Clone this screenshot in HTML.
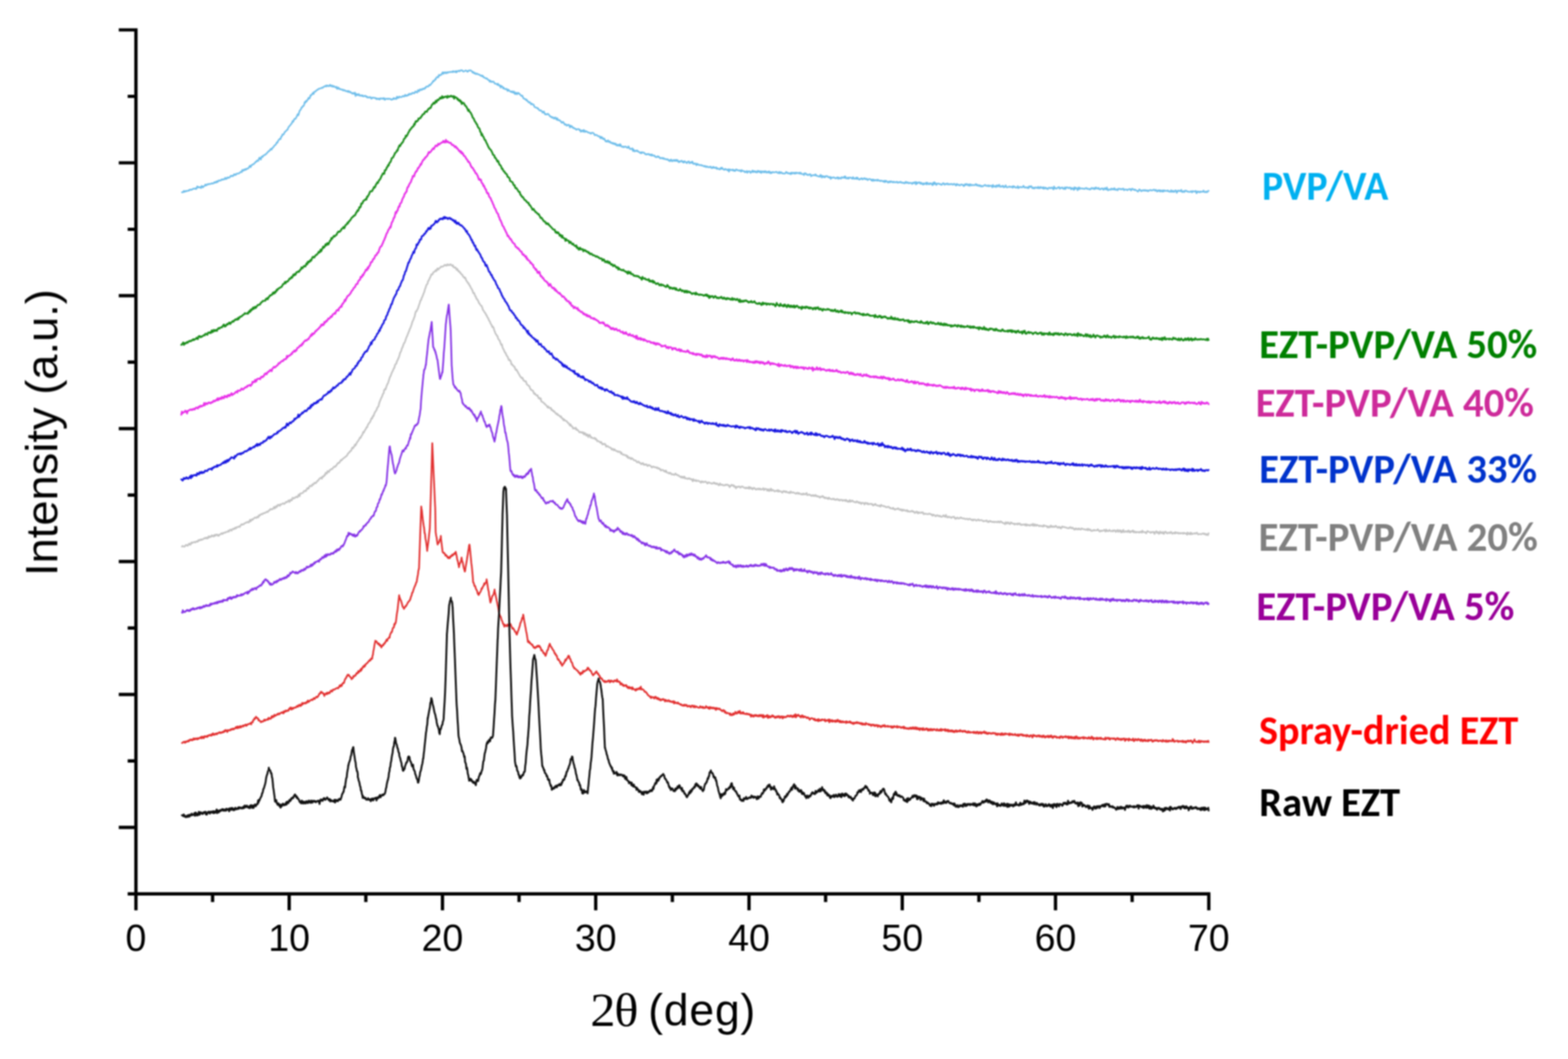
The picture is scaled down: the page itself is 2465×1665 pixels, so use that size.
<!DOCTYPE html>
<html><head><meta charset="utf-8"><title>XRD patterns</title>
<style>html,body{margin:0;padding:0;background:#fff;}svg{display:block;}</style>
</head><body><svg width="2465" height="1665" viewBox="0 0 2465 1665"><defs><filter id="soft" filterUnits="userSpaceOnUse" x="0" y="0" width="2465" height="1665" color-interpolation-filters="sRGB"><feGaussianBlur stdDeviation="0.8"/></filter></defs><rect width="2465" height="1665" fill="#ffffff"/><g filter="url(#soft)"><path d="M213.7,44.5 V1405.3 H1902.8 M186.7,47 H213.7 M200.7,151.5 H213.7 M186.7,256 H213.7 M200.7,360.5 H213.7 M186.7,464.9 H213.7 M200.7,569.4 H213.7 M186.7,673.9 H213.7 M200.7,778.4 H213.7 M186.7,882.9 H213.7 M200.7,987.4 H213.7 M186.7,1091.8 H213.7 M200.7,1196.3 H213.7 M186.7,1300.8 H213.7 M200.7,1405.3 H213.7 M213.7,1405.3 V1431.3 M334.2,1405.3 V1418.3 M454.6,1405.3 V1431.3 M575.1,1405.3 V1418.3 M695.6,1405.3 V1431.3 M816,1405.3 V1418.3 M936.5,1405.3 V1431.3 M1057,1405.3 V1418.3 M1177.5,1405.3 V1431.3 M1297.9,1405.3 V1418.3 M1418.4,1405.3 V1431.3 M1538.9,1405.3 V1418.3 M1659.3,1405.3 V1431.3 M1779.8,1405.3 V1418.3 M1900.3,1405.3 V1431.3" fill="none" stroke="#000" stroke-width="5.2" stroke-linecap="butt" stroke-linejoin="miter"/><path d="M286,302.3 287,302.5 288,301.8 289,300.1 290,301.8 291,301.1 292,300 293,300.7 294,300.3 295,300 296,299.5 297,299.7 298,298.2 299,298.5 300,297.9 301,298.6 302,297.8 303,297.3 304,296.5 305,296.7 306,296.7 307,296.1 308,297.3 309,296.7 310,293.1 311,293.5 312,294.8 313,294.3 314,294.5 315,294.2 316,295.7 317,292.4 318,292.8 319,294.7 320,293.1 321,292.8 322,291.5 323,290.1 324,291.5 325,291.1 326,289.6 327,289.8 328,290 329,288.9 330,289.3 331,289.2 332,288.8 333,288 334,288.6 335,288.6 336,287.7 337,286.4 338,287.4 339,286 340,286.9 341,284.8 342,286.2 343,285 344,283.5 345,284 346,284 347,283.8 348,282.3 349,281.9 350,282.7 351,281.7 352,282 353,282.1 354,279.5 355,280.9 356,281.4 357,279.6 358,278.8 359,279.8 360,278.9 361,279.1 362,277.6 363,276.2 364,277 365,276.3 366,277 367,276 368,273.9 369,273.9 370,275.3 371,274.7 372,273 373,273.1 374,273 375,272.6 376,272.5 377,271.4 378,270.6 379,270 380,270.6 381,267.1 382,268.5 383,268.1 384,266.3 385,267.3 386,265.8 387,266.6 388,265.1 389,265.2 390,265.1 391,263.7 392,261.9 393,260.6 394,262.8 395,260.4 396,259.1 397,259.1 398,258 399,258.1 400,256.6 401,255.7 402,254.3 403,254.5 404,252.4 405,253.1 406,253.1 407,249.6 408,247.9 409,249.9 410,250.9 411,246.9 412,245.9 413,246.8 414,244.7 415,244.2 416,243.5 417,243.5 418,241.9 419,241.6 420,240.4 421,238.9 422,238.5 423,237 424,237 425,235 426,234 427,235.3 428,232.9 429,231.8 430,231.3 431,229.3 432,228.3 433,227.8 434,226.4 435,224 436,224.5 437,222 438,220.3 439,219.1 440,218.3 441,218.8 442,214.9 443,214.7 444,211.3 445,211.8 446,211.2 447,208.9 448,207.1 449,206.6 450,205.6 451,204.3 452,204.1 453,201.2 454,199.2 455,198.4 456,197.1 457,196 458,194.6 459,193.4 460,190.4 461,191.3 462,188.7 463,186.8 464,187 465,186.2 466,184 467,182.1 468,179.5 469,181.3 470,177.8 471,174.3 472,173 473,172.1 474,169 475,168.9 476,166.8 477,166.8 478,165.2 479,160.4 480,161.5 481,158.6 482,159.7 483,157.5 484,156.5 485,153.7 486,155.1 487,154.1 488,150.1 489,150.3 490,148.4 491,148 492,145.9 493,147.8 494,144.4 495,144.1 496,144 497,142.3 498,141.9 499,141 500,140.9 501,139.4 502,139.6 503,139.3 504,138.7 505,138.6 506,137.8 507,138.3 508,136.9 509,136.7 510,135.8 511,135.6 512,134.7 513,136 514,134.3 515,134.5 516,135.4 517,135.4 518,134.6 519,133.2 520,135.6 521,135.6 522,134.3 523,136.5 524,135.4 525,135.3 526,136.8 527,136.9 528,137.6 529,136.4 530,139.8 531,138.1 532,137.6 533,139.9 534,139.5 535,140.4 536,140.2 537,140.8 538,141.4 539,140.8 540,142.4 541,141.7 542,141.7 543,142.9 544,143.5 545,143.3 546,143.1 547,144.7 548,143 549,144 550,145.3 551,144.3 552,145.9 553,146.2 554,147.4 555,146.1 556,146.6 557,147.8 558,145.6 559,150.9 560,147.7 561,148 562,149.7 563,149.1 564,147.8 565,150.2 566,150.6 567,149.7 568,150 569,151 570,149.9 571,151.4 572,151.4 573,150.8 574,150.4 575,151.7 576,151.3 577,153.2 578,152.6 579,153.4 580,153 581,153.3 582,152.5 583,154 584,155.2 585,153.5 586,153.4 587,153.9 588,153.8 589,153.7 590,154.6 591,154.3 592,156 593,154.8 594,155.2 595,155.9 596,154.8 597,156.5 598,154.7 599,154.6 600,155.1 601,155.4 602,154.3 603,155.6 604,154.2 605,157 606,155.7 607,155.3 608,155.1 609,155.6 610,155.8 611,155 612,155.2 613,155.8 614,155.5 615,156.7 616,156.8 617,155.7 618,155.9 619,154.1 620,155.6 621,154.8 622,155 623,155.8 624,152 625,154.1 626,152.6 627,153.8 628,151.8 629,152.3 630,152.7 631,152.8 632,152.1 633,151 634,150.9 635,151.9 636,150.9 637,149 638,151 639,150.3 640,150.4 641,149 642,149.7 643,147.6 644,148.7 645,147.4 646,148.1 647,148 648,146.1 649,146.3 650,146 651,146.7 652,145.9 653,143.7 654,144.8 655,144.7 656,145.5 657,141.7 658,142.3 659,143.5 660,140.7 661,140.4 662,141.5 663,141.5 664,139.5 665,140.1 666,139.2 667,139.9 668,138 669,138.4 670,136.2 671,136.2 672,135.7 673,136.3 674,135.1 675,133.3 676,133.9 677,133.2 678,131.6 679,130.5 680,129.5 681,127.1 682,127.7 683,126.7 684,124.6 685,124.9 686,121.9 687,121.6 688,120.6 689,121.8 690,117.7 691,118.8 692,118.4 693,117.3 694,117.5 695,115.1 696,113.6 697,116.1 698,114 699,114.5 700,113.5 701,115.3 702,114.9 703,113.3 704,114.5 705,113.6 706,113.2 707,113.2 708,112.9 709,113.5 710,113 711,112.3 712,113.5 713,111.9 714,112.6 715,112.6 716,113.5 717,111.6 718,113.6 719,112.1 720,111.7 721,111.1 722,112.2 723,111.6 724,110.5 725,110.4 726,110.9 727,110.7 728,112.3 729,112.5 730,112 731,111.5 732,110.7 733,111.1 734,111.8 735,112.9 736,111.8 737,110.7 738,111 739,110.7 740,110.6 741,111.5 742,112.2 743,114.1 744,113 745,114.7 746,115.6 747,114.6 748,116.5 749,116.2 750,115.6 751,116.7 752,116.9 753,117.2 754,117.7 755,118.5 756,119.2 757,118.6 758,119.9 759,119 760,121.1 761,122 762,122.1 763,122.8 764,123.6 765,123 766,123.9 767,125.1 768,126.1 769,126.1 770,128.6 771,126.8 772,128.3 773,129.1 774,128.3 775,128.3 776,128.5 777,130.2 778,131.6 779,131.4 780,131.9 781,132 782,133.4 783,131.5 784,134.2 785,134.6 786,134 787,137.7 788,135.1 789,135.9 790,136.4 791,139 792,137.7 793,139.7 794,140.1 795,140.4 796,139.5 797,140.6 798,143.1 799,140.9 800,141.8 801,142.8 802,144 803,143.9 804,144.7 805,143.4 806,145.5 807,145.5 808,143.9 809,147 810,148 811,145.6 812,146.7 813,148.3 814,146.1 815,146 816,147.1 817,148.2 818,148.8 819,150.4 820,150.8 821,150.2 822,152.6 823,154.7 824,154.9 825,155.7 826,155.7 827,157.5 828,156.6 829,159.1 830,159.1 831,161 832,161.2 833,160.5 834,162.4 835,164.1 836,162.7 837,164 838,164.5 839,164.6 840,167.6 841,168.6 842,168.9 843,169.1 844,169.5 845,170.5 846,170.3 847,172.5 848,173.3 849,173.9 850,173.2 851,174.4 852,174.8 853,177.2 854,176.4 855,175.2 856,177.9 857,179.8 858,179.3 859,180.1 860,179.9 861,178.7 862,179.4 863,180.5 864,182 865,183 866,183.9 867,183.5 868,185.2 869,184.6 870,184.8 871,186.7 872,185.6 873,184.5 874,186.5 875,188.1 876,185.7 877,188.7 878,189.2 879,188.7 880,189.2 881,190.6 882,191 883,193.1 884,192.8 885,191.6 886,192.7 887,194.6 888,196.2 889,195.3 890,195.8 891,197.6 892,196.4 893,196.7 894,196.1 895,197.4 896,200.3 897,197.5 898,199.3 899,198.4 900,200.2 901,201.3 902,200.7 903,202 904,202.4 905,202.5 906,204 907,203.6 908,202.9 909,202.9 910,203.1 911,204.6 912,204.1 913,207.2 914,206.7 915,205.1 916,205.3 917,207.3 918,204.4 919,205.9 920,207.5 921,206.1 922,206.7 923,207.1 924,208.3 925,208.1 926,208.7 927,209.2 928,209 929,210.3 930,209 931,208.7 932,208.8 933,209.3 934,210.7 935,212.6 936,212.3 937,212.1 938,212.2 939,213.2 940,213.9 941,214.3 942,214 943,215.5 944,217.4 945,215 946,217.3 947,216.2 948,218.8 949,218.5 950,217.8 951,220.3 952,222.3 953,221.3 954,222.7 955,222 956,220.6 957,223.3 958,222.9 959,222.4 960,224.8 961,224.7 962,224.3 963,225.9 964,224.7 965,226.4 966,225.3 967,227 968,225.8 969,228.5 970,227.7 971,229.1 972,227.4 973,228 974,229.5 975,226.6 976,228.4 977,230.6 978,230.4 979,231.2 980,230.4 981,231.5 982,230.7 983,230.4 984,230.5 985,231.8 986,232.2 987,232.4 988,230.1 989,231.8 990,233.5 991,234.5 992,234.1 993,234.1 994,233.2 995,237.4 996,234.9 997,237.7 998,237.9 999,237.1 1000,236.6 1001,237.6 1002,236.7 1003,238.3 1004,238.4 1005,239.2 1006,239.9 1007,240.9 1008,239.2 1009,240.8 1010,239.5 1011,239.7 1012,240.2 1013,240.2 1014,242.2 1015,242.4 1016,243 1017,242.1 1018,242.7 1019,242.2 1020,242 1021,243.7 1022,243.8 1023,242.8 1024,244.6 1025,242.8 1026,244.5 1027,244.4 1028,244.7 1029,244.5 1030,246.6 1031,246.5 1032,247.3 1033,246.7 1034,245.7 1035,246.8 1036,246.4 1037,248.1 1038,249.1 1039,248.6 1040,248.1 1041,248.6 1042,249.4 1043,248.2 1044,249.9 1045,250.2 1046,249.8 1047,250.2 1048,251 1049,250.4 1050,250.6 1051,252.3 1052,252 1053,253.5 1054,251.3 1055,250.7 1056,253.3 1057,253.5 1058,252.1 1059,251.5 1060,252.9 1061,251.5 1062,252.9 1063,251.3 1064,253.2 1065,251.5 1066,253.3 1067,255 1068,253.5 1069,254.5 1070,253.3 1071,253.1 1072,252.7 1073,255 1074,254.1 1075,255.7 1076,253.3 1077,254.3 1078,254.7 1079,256 1080,256.5 1081,254.4 1082,254.1 1083,253.7 1084,256.7 1085,255.6 1086,255.3 1087,256.1 1088,254 1089,255 1090,257.7 1091,257.5 1092,257.5 1093,256.8 1094,258.5 1095,259.8 1096,257.4 1097,258.8 1098,258.6 1099,259.6 1100,259.6 1101,259.7 1102,259.3 1103,260.3 1104,260 1105,260.6 1106,260.9 1107,261.7 1108,260.8 1109,261.2 1110,262.7 1111,261.7 1112,261.8 1113,263 1114,262.7 1115,262.7 1116,263 1117,261.8 1118,263.5 1119,264.4 1120,263.9 1121,262.2 1122,264 1123,263.1 1124,263.8 1125,264.3 1126,263.2 1127,265.6 1128,264.5 1129,265.4 1130,265.4 1131,266.2 1132,266.2 1133,263.9 1134,265.4 1135,263.5 1136,265.1 1137,266.3 1138,266.6 1139,267 1140,265.6 1141,266.3 1142,266.2 1143,267.4 1144,267.8 1145,266.1 1146,269.9 1147,266.6 1148,266.4 1149,267.3 1150,267.6 1151,267.5 1152,266.5 1153,268.5 1154,267.3 1155,268.8 1156,268.7 1157,266.4 1158,266.8 1159,266.9 1160,268.1 1161,268.1 1162,268.4 1163,267.5 1164,268.8 1165,269.8 1166,267.4 1167,268.6 1168,269.1 1169,268.9 1170,268.9 1171,270.8 1172,270.5 1173,270.2 1174,268.8 1175,271.6 1176,270 1177,269.3 1178,269.5 1179,269.5 1180,271.9 1181,270.2 1182,270.1 1183,268.1 1184,270.7 1185,269.1 1186,269.1 1187,270.7 1188,269.4 1189,270.9 1190,271.2 1191,268.6 1192,270.1 1193,268.8 1194,270.2 1195,271.1 1196,269.1 1197,271.9 1198,270 1199,269.3 1200,270.2 1201,271.1 1202,269.1 1203,270.4 1204,269.2 1205,271.5 1206,270.6 1207,270.1 1208,271.5 1209,269.4 1210,270.3 1211,272.4 1212,270.7 1213,272.1 1214,271.1 1215,270.3 1216,270.8 1217,271.2 1218,270.8 1219,270.5 1220,270.6 1221,270.1 1222,271.6 1223,271.9 1224,272.3 1225,270.1 1226,272.5 1227,271.8 1228,270.6 1229,272 1230,272.7 1231,272.5 1232,272.7 1233,272.9 1234,272.9 1235,272 1236,270.2 1237,271.4 1238,272.5 1239,271.7 1240,272.8 1241,272.9 1242,272.2 1243,273.9 1244,271.3 1245,273.1 1246,271.8 1247,271.6 1248,272.8 1249,271.7 1250,273.1 1251,271.3 1252,272.4 1253,271.6 1254,272.2 1255,272.1 1256,271.5 1257,273.1 1258,271.5 1259,271.8 1260,273.6 1261,273.7 1262,273.6 1263,273.4 1264,275.3 1265,272.3 1266,272.9 1267,272.8 1268,274.7 1269,274.3 1270,275.2 1271,275.2 1272,274.3 1273,274 1274,274 1275,277.1 1276,276.1 1277,275.9 1278,275.3 1279,275.5 1280,275.5 1281,275.7 1282,274 1283,276.2 1284,276 1285,276.8 1286,276.9 1287,277.6 1288,276.9 1289,277.8 1290,274.9 1291,276.4 1292,279.1 1293,276.5 1294,277.5 1295,278.5 1296,277.2 1297,278.8 1298,277 1299,276.7 1300,277.3 1301,277.1 1302,278.7 1303,278.5 1304,279.1 1305,278 1306,281.3 1307,279 1308,279.1 1309,279.6 1310,279 1311,278.7 1312,279.4 1313,280.2 1314,280 1315,280.3 1316,279 1317,278.8 1318,281.3 1319,279.4 1320,280 1321,280.3 1322,280.9 1323,278.5 1324,279.3 1325,279.4 1326,279.5 1327,277.7 1328,279.8 1329,277.3 1330,280.2 1331,280.5 1332,280.6 1333,279 1334,281 1335,279.4 1336,279.1 1337,279.3 1338,279.5 1339,280.4 1340,281.1 1341,278.5 1342,279.9 1343,281.2 1344,280.6 1345,280.9 1346,279.2 1347,281.4 1348,279.2 1349,280.8 1350,281.9 1351,282.4 1352,281.2 1353,281.6 1354,280.3 1355,280.5 1356,282.1 1357,281.1 1358,281 1359,280 1360,281.5 1361,282 1362,280.8 1363,281.2 1364,283.2 1365,282.1 1366,281.8 1367,281.2 1368,281.8 1369,282.2 1370,283.8 1371,282.2 1372,284.5 1373,282.2 1374,282.9 1375,284.1 1376,283.2 1377,282.8 1378,283.6 1379,284.2 1380,282.4 1381,283.8 1382,284 1383,283.8 1384,284.9 1385,283.9 1386,284.1 1387,284.6 1388,285.3 1389,284.5 1390,286.2 1391,284.1 1392,286.1 1393,284.3 1394,285 1395,285.5 1396,287.1 1397,286.2 1398,285.1 1399,286.7 1400,285.4 1401,285 1402,286.2 1403,285.9 1404,286.8 1405,285.5 1406,286.4 1407,286.7 1408,286.4 1409,286.2 1410,285.7 1411,287.2 1412,286.6 1413,287 1414,286.3 1415,286.7 1416,285.8 1417,286.9 1418,287.5 1419,287 1420,287.7 1421,287.3 1422,288.3 1423,287 1424,285.7 1425,287.6 1426,287.1 1427,286.5 1428,288 1429,287.7 1430,287.9 1431,287.2 1432,287.8 1433,287.9 1434,289.3 1435,287.1 1436,287.8 1437,288.2 1438,286.3 1439,286.5 1440,289.9 1441,286.4 1442,288.6 1443,287.3 1444,287.4 1445,286.4 1446,287.4 1447,289 1448,287 1449,288.9 1450,288.7 1451,290.2 1452,288 1453,289.6 1454,289.3 1455,288.3 1456,287.1 1457,290 1458,287.4 1459,288.3 1460,289.5 1461,289.8 1462,288 1463,288.8 1464,288.6 1465,290 1466,291.2 1467,287.3 1468,289.8 1469,286.5 1470,289.1 1471,288.1 1472,290.9 1473,289.3 1474,288.5 1475,288.8 1476,288.8 1477,289.5 1478,289.2 1479,290 1480,290.8 1481,290.1 1482,288.4 1483,288 1484,288.8 1485,290.5 1486,289.3 1487,289 1488,289.8 1489,288.4 1490,288.7 1491,290.2 1492,289.5 1493,289.4 1494,290.1 1495,289.3 1496,289.3 1497,289.5 1498,290.5 1499,290 1500,288.9 1501,289.8 1502,290.6 1503,291.8 1504,289.1 1505,290.5 1506,290 1507,291 1508,290.7 1509,291.6 1510,290.8 1511,289.9 1512,289.9 1513,290.8 1514,290.8 1515,292.6 1516,292 1517,289.5 1518,290.9 1519,289.4 1520,289.2 1521,291.3 1522,291.2 1523,289.8 1524,292.3 1525,289.9 1526,289.8 1527,291.5 1528,291.1 1529,290.8 1530,290.9 1531,291.2 1532,290.9 1533,291 1534,289.4 1535,290 1536,291.8 1537,290.6 1538,291.8 1539,292.5 1540,291.1 1541,291.7 1542,293.3 1543,292.1 1544,293.2 1545,293 1546,292.3 1547,291.6 1548,291 1549,290.8 1550,292.2 1551,292.3 1552,291.7 1553,292.7 1554,291.4 1555,293 1556,292.1 1557,292.1 1558,292.2 1559,292.1 1560,294.5 1561,290.8 1562,292.5 1563,293.5 1564,293.1 1565,292.2 1566,294.1 1567,291.6 1568,291.4 1569,293.2 1570,291.4 1571,290.6 1572,293.6 1573,293.5 1574,293.5 1575,292.5 1576,293.1 1577,292.1 1578,294.6 1579,293.8 1580,293.8 1581,291.4 1582,293.9 1583,294.6 1584,294.4 1585,294.1 1586,293.4 1587,293.1 1588,294 1589,293.9 1590,293.8 1591,293.3 1592,295.2 1593,292.6 1594,293.7 1595,293.3 1596,294.7 1597,295.1 1598,295 1599,294.6 1600,292.7 1601,295.9 1602,294.5 1603,294 1604,294.2 1605,293.9 1606,294.6 1607,294.5 1608,294 1609,292 1610,294.3 1611,294.8 1612,294.9 1613,294.3 1614,294.9 1615,295.5 1616,294.2 1617,295.9 1618,292.9 1619,293.5 1620,293.9 1621,292.5 1622,293.9 1623,295.9 1624,295.9 1625,294.9 1626,296.4 1627,295.1 1628,294.5 1629,295.2 1630,294.9 1631,295.7 1632,293.7 1633,296 1634,294.7 1635,295.9 1636,293.8 1637,294.8 1638,295.3 1639,296 1640,294.2 1641,296.8 1642,295.7 1643,294.8 1644,296.4 1645,295.5 1646,296.4 1647,297.5 1648,296.1 1649,295 1650,295.1 1651,296 1652,295.8 1653,294.8 1654,295 1655,296.2 1656,297.7 1657,293.2 1658,296.3 1659,295.5 1660,296.4 1661,296.5 1662,295.8 1663,294.8 1664,294.5 1665,294.1 1666,296.9 1667,295.6 1668,295.3 1669,295.6 1670,294.7 1671,296.1 1672,297.1 1673,296.9 1674,294.5 1675,297.2 1676,295.3 1677,294.3 1678,294.9 1679,295.1 1680,296 1681,295.1 1682,294.7 1683,295.8 1684,297.8 1685,295.5 1686,296.6 1687,296.2 1688,298.6 1689,294.5 1690,297.2 1691,295.1 1692,295.7 1693,296.2 1694,299.1 1695,295.6 1696,294.6 1697,297.5 1698,295.6 1699,296.1 1700,296.4 1701,296.5 1702,296.3 1703,296.7 1704,296.8 1705,297.2 1706,296.1 1707,295.8 1708,295.6 1709,297.1 1710,296.5 1711,297.1 1712,297.1 1713,298.1 1714,296.8 1715,297.3 1716,295.6 1717,295.7 1718,296.5 1719,295.7 1720,297.4 1721,295.6 1722,296.9 1723,294.6 1724,295.9 1725,296.6 1726,296.7 1727,295.3 1728,297.1 1729,297.9 1730,297.6 1731,296.4 1732,296.5 1733,296 1734,297.7 1735,298.4 1736,296.7 1737,295.6 1738,297.4 1739,297.9 1740,294.8 1741,297.4 1742,299.3 1743,298.1 1744,297.9 1745,297.7 1746,298.4 1747,296.6 1748,296.7 1749,297.9 1750,296.9 1751,297.8 1752,295.9 1753,298.3 1754,298.4 1755,297.7 1756,297.8 1757,299.2 1758,296.8 1759,297 1760,296.8 1761,297.5 1762,297 1763,297.9 1764,297.4 1765,296.7 1766,296.6 1767,299.1 1768,298 1769,297.9 1770,298.1 1771,298.1 1772,298.9 1773,298.7 1774,297.7 1775,297.5 1776,297.3 1777,297.2 1778,299.6 1779,297.6 1780,296.6 1781,297.7 1782,297.8 1783,298.8 1784,297.8 1785,299.1 1786,299 1787,299.8 1788,300.6 1789,301.3 1790,300 1791,297.7 1792,298.5 1793,299.1 1794,300.7 1795,299.5 1796,300 1797,298.8 1798,299.5 1799,299.7 1800,298.7 1801,299.8 1802,300.1 1803,299 1804,300.1 1805,300.7 1806,299.3 1807,299.3 1808,299 1809,298.8 1810,299.5 1811,299.1 1812,299.2 1813,298.8 1814,298.1 1815,298.7 1816,299.9 1817,298.5 1818,299.1 1819,301.1 1820,300.7 1821,299.1 1822,300.3 1823,299.2 1824,301.3 1825,299.3 1826,300 1827,301.2 1828,299.2 1829,301.1 1830,299.3 1831,300.2 1832,299.8 1833,300 1834,300.3 1835,300.1 1836,299.3 1837,301 1838,300.9 1839,301.4 1840,301.5 1841,299.1 1842,301.5 1843,301.5 1844,299.9 1845,301.4 1846,301.8 1847,300 1848,299.3 1849,300.2 1850,303.1 1851,300.8 1852,299.5 1853,300.4 1854,299.8 1855,300.4 1856,300.8 1857,298.5 1858,301.1 1859,302.1 1860,300.7 1861,300.6 1862,301.9 1863,299.8 1864,299.9 1865,299.8 1866,300.9 1867,301.4 1868,301 1869,301.6 1870,301.9 1871,301.6 1872,300.5 1873,301 1874,302.4 1875,300.4 1876,301.1 1877,301 1878,301.2 1879,300.4 1880,300.2 1881,303.8 1882,302.3 1883,300.9 1884,301.5 1885,302.2 1886,301.3 1887,302.2 1888,301.1 1889,301.4 1890,301.6 1891,301.3 1892,299.6 1893,301.8 1894,302.1 1895,302.3 1896,301 1897,302.2 1898,302.1 1899,300.4 1900,300" fill="none" stroke="#6dbdea" stroke-width="2.5" stroke-linejoin="round" stroke-linecap="round"/><path d="M285,542.2 286,541.1 287,540.8 288,538.4 289,542.2 290,541.1 291,539.3 292,539.9 293,539 294,537.8 295,538.9 296,537.2 297,536.8 298,535.9 299,536.7 300,535.8 301,536 302,534.4 303,534.7 304,533.3 305,534.6 306,533.5 307,533.2 308,532.9 309,531 310,532.4 311,533.2 312,529.1 313,528.6 314,528.4 315,530.3 316,529.1 317,529.6 318,528.8 319,527.9 320,527.5 321,526.6 322,527.2 323,524.8 324,525 325,525.2 326,526.4 327,523.3 328,522.6 329,522.6 330,523.7 331,522.1 332,523.2 333,519.5 334,522.1 335,521.6 336,518.7 337,519.8 338,520.4 339,518.8 340,519.3 341,520.2 342,517.6 343,516.6 344,515.7 345,516.6 346,515.3 347,514.9 348,514.5 349,514.7 350,512.5 351,511.6 352,510.2 353,513.4 354,511.7 355,512.7 356,510.7 357,509.4 358,510.2 359,509.1 360,507.4 361,507.2 362,509.4 363,507.4 364,507 365,505.7 366,504.8 367,505.8 368,504.2 369,503 370,503.1 371,501.7 372,502.2 373,502.6 374,500 375,501.7 376,499 377,499.2 378,497.6 379,497.6 380,497.2 381,496.1 382,495.2 383,494.6 384,493.8 385,492.4 386,493.1 387,493.1 388,493 389,492.1 390,493.2 391,490.4 392,489 393,490.6 394,487 395,488.4 396,485.8 397,486.4 398,483.4 399,485.6 400,483.8 401,482.3 402,484.3 403,482.7 404,481.2 405,479.7 406,479.7 407,478.9 408,479 409,478.3 410,476.1 411,475.5 412,474.8 413,473.2 414,473.2 415,472.9 416,472.9 417,472.8 418,469.9 419,470.5 420,468.7 421,470.4 422,467.5 423,467.2 424,465 425,464.3 426,464.5 427,463.1 428,463 429,460.3 430,461.7 431,459.3 432,461 433,458.2 434,458.7 435,455.4 436,456.3 437,454.1 438,453.7 439,453.3 440,452.1 441,451.8 442,451.4 443,450.4 444,448.8 445,446.6 446,446.3 447,446 448,443.2 449,445.2 450,443.3 451,442.4 452,442.7 453,441.6 454,440.2 455,438.1 456,438.5 457,437.7 458,435.6 459,436.6 460,435.2 461,431.9 462,433.1 463,430.8 464,432.3 465,431.1 466,428.3 467,427.7 468,427.8 469,426.6 470,427.4 471,425.8 472,423.9 473,423.8 474,420.3 475,421.8 476,421.4 477,419.5 478,418.1 479,418.4 480,418.9 481,416.2 482,414 483,415.6 484,411.4 485,412.8 486,410.8 487,411.4 488,408.7 489,409.9 490,407.9 491,404.9 492,403.7 493,404.4 494,405 495,402.9 496,401.9 497,400.6 498,400.5 499,399.2 500,398.1 501,395.8 502,397 503,396.2 504,392.5 505,395.1 506,392.5 507,390.3 508,387.8 509,389.4 510,388.3 511,386.1 512,383.9 513,385.8 514,383 515,382.1 516,384.4 517,382.7 518,380.5 519,378.1 520,378.2 521,374.2 522,375.6 523,373.7 524,372.2 525,370.9 526,372 527,370.6 528,369.7 529,369.4 530,366.8 531,365.4 532,364 533,364.5 534,364.6 535,362.8 536,362.6 537,359.8 538,359.6 539,358.3 540,356.9 541,359 542,357 543,354.3 544,353.3 545,353 546,350.5 547,351.3 548,348.5 549,348.3 550,346.5 551,345.8 552,343.8 553,342.3 554,341.6 555,340.6 556,339.6 557,338.6 558,338.7 559,336.6 560,334.1 561,333.6 562,330.8 563,331.4 564,329.1 565,325.7 566,326.3 567,324.9 568,319.9 569,320.4 570,319.2 571,316.3 572,315.7 573,314.4 574,314.4 575,312.8 576,313.7 577,309.3 578,309.5 579,307.1 580,305.9 581,303.1 582,301 583,300.8 584,300.9 585,300.4 586,298.1 587,296.6 588,293.9 589,294.9 590,293.3 591,290.1 592,289.2 593,286.8 594,287.8 595,285.3 596,283.4 597,282.4 598,281 599,278.6 600,276.3 601,274.7 602,272.6 603,273.2 604,273.3 605,267.7 606,267.9 607,266.5 608,263.3 609,262.8 610,259.7 611,260.3 612,256.7 613,255.6 614,254.5 615,251.6 616,248.5 617,248 618,247.5 619,244.9 620,243.5 621,240.5 622,240 623,239 624,236.6 625,236.9 626,233.2 627,230.8 628,228.6 629,229.8 630,227 631,226.4 632,224.3 633,223.9 634,221.9 635,218.7 636,217.8 637,217.1 638,213.2 639,214.4 640,212.7 641,210.9 642,208.3 643,207.3 644,204.5 645,204.2 646,202.2 647,201.5 648,199.6 649,199.1 650,198.7 651,194.9 652,195.9 653,191.8 654,190.4 655,191.3 656,190.2 657,189.5 658,186.3 659,186.7 660,185.8 661,185.8 662,183.4 663,183 664,180.4 665,180.1 666,178.8 667,178.9 668,176.2 669,175.3 670,175.7 671,175.9 672,173.4 673,172.3 674,170.7 675,171.1 676,169.5 677,169.6 678,167.2 679,164.8 680,164.1 681,162.6 682,161.3 683,162.9 684,161.5 685,158.6 686,160.8 687,158.6 688,156.7 689,157.5 690,156.4 691,155.1 692,153.4 693,154.8 694,154.6 695,151.3 696,154 697,153.7 698,152.3 699,152.7 700,152.2 701,151.6 702,152 703,153.7 704,150.8 705,152.4 706,152.3 707,151.4 708,151.6 709,150.6 710,151.2 711,152 712,152.3 713,151.1 714,155.2 715,151.9 716,153.1 717,153.3 718,153.8 719,156.2 720,155.2 721,157.9 722,158.5 723,157.2 724,160.2 725,159.3 726,163.6 727,161.4 728,161.9 729,162 730,163.8 731,165.7 732,166.5 733,167.6 734,169.5 735,171.3 736,174.3 737,172.6 738,175.2 739,176.3 740,177.3 741,179.3 742,181.3 743,184.7 744,185.6 745,187 746,189.9 747,191.3 748,192.6 749,195 750,195.6 751,198.9 752,200.6 753,201.6 754,202.7 755,207.3 756,207.8 757,212.6 758,210.8 759,214.3 760,214.9 761,217.5 762,220 763,220.2 764,222.8 765,224.9 766,226.7 767,229.1 768,231.3 769,233 770,234.2 771,235.3 772,236.3 773,238.4 774,240.3 775,243.2 776,243.8 777,244.5 778,248 779,248.2 780,249.8 781,251.9 782,254.1 783,252.8 784,255.6 785,258.4 786,259.4 787,260.4 788,262.2 789,265.6 790,265.2 791,267.8 792,269.4 793,269.6 794,271.9 795,272.5 796,273.7 797,274.6 798,278.1 799,278.2 800,279.4 801,280.3 802,284.6 803,285 804,285.5 805,286.3 806,286.9 807,290.1 808,291.5 809,291.2 810,295.1 811,296.1 812,295.7 813,297.5 814,299 815,300.9 816,301.9 817,301.8 818,306.2 819,306.4 820,308.6 821,309.9 822,309.7 823,311.6 824,313.2 825,314.5 826,314.8 827,315.6 828,317.5 829,317.8 830,319.3 831,319 832,322.3 833,322.3 834,323.9 835,325.6 836,327 837,329.7 838,329.2 839,328.6 840,331.3 841,331.6 842,333.7 843,333.7 844,334.7 845,335.9 846,336.9 847,336.7 848,338.9 849,340.5 850,342.8 851,342.3 852,343.2 853,345.1 854,346.1 855,348.1 856,348.1 857,348.5 858,350.8 859,351.9 860,350.9 861,352.5 862,351.6 863,353.9 864,354.3 865,355.9 866,356.6 867,357.8 868,358.8 869,360.3 870,360.9 871,361 872,361.2 873,364.6 874,365.6 875,364.6 876,366.5 877,365.2 878,366 879,368.1 880,370.7 881,369 882,370 883,373.2 884,370.4 885,373.8 886,374.4 887,374.4 888,375.6 889,378.7 890,375.7 891,377.3 892,378.1 893,378.3 894,378.4 895,382 896,381.4 897,380.1 898,381.8 899,383.6 900,384.2 901,383 902,385 903,386 904,386.7 905,387.3 906,385.7 907,389.9 908,388.9 909,391 910,392.6 911,390.1 912,389.6 913,392.2 914,391.6 915,391.9 916,391.8 917,395 918,393.3 919,392.9 920,394.3 921,394 922,395.8 923,395.7 924,395.6 925,397.7 926,396.9 927,398.8 928,399.8 929,398.7 930,398.9 931,400.2 932,401.4 933,401 934,401.6 935,402 936,402.8 937,403.6 938,402.8 939,403.5 940,404.5 941,404.3 942,405.6 943,406.5 944,406.4 945,406.3 946,406.7 947,409.7 948,409.3 949,407.8 950,408.6 951,411.8 952,412 953,411.1 954,412.6 955,410.5 956,412.5 957,413.8 958,411.7 959,413.3 960,415.4 961,416.3 962,415.2 963,416.6 964,418.5 965,417.1 966,416.7 967,418.5 968,418.8 969,421 970,420.4 971,420 972,423.8 973,421.4 974,423 975,423.7 976,424.3 977,424.2 978,425.1 979,425 980,424.1 981,425.8 982,426.3 983,426.7 984,427.5 985,427.2 986,429.5 987,430.2 988,426.8 989,429.5 990,429.2 991,427.7 992,431.1 993,430.4 994,431.1 995,431.2 996,433.3 997,433.8 998,433.3 999,434.1 1000,433.6 1001,434.3 1002,433.7 1003,434.9 1004,434.5 1005,436 1006,436.8 1007,436.7 1008,437.9 1009,439.8 1010,435.4 1011,437.9 1012,437.7 1013,438.2 1014,437.6 1015,439.4 1016,439.5 1017,439.5 1018,440.2 1019,440.3 1020,438.9 1021,442.6 1022,441.6 1023,441.3 1024,442.9 1025,442.3 1026,441.1 1027,444.5 1028,442.3 1029,444.1 1030,444.8 1031,446.3 1032,446.5 1033,445.8 1034,445.2 1035,445.9 1036,447.7 1037,448.7 1038,447.8 1039,446.9 1040,448.9 1041,447.7 1042,448 1043,448.4 1044,449.6 1045,449.6 1046,450.6 1047,451.2 1048,450.7 1049,448.1 1050,449.1 1051,451.2 1052,451.3 1053,453.8 1054,451.9 1055,452.1 1056,453.4 1057,453.9 1058,452.8 1059,453.9 1060,452.5 1061,453 1062,455.5 1063,453.2 1064,455.8 1065,455.9 1066,456.3 1067,456.7 1068,456.6 1069,454.2 1070,455.7 1071,456.3 1072,458.1 1073,456.4 1074,457.1 1075,457.7 1076,459.6 1077,457.1 1078,457.5 1079,459.7 1080,457.2 1081,459.8 1082,459.3 1083,458.4 1084,459.7 1085,459.3 1086,460.7 1087,461.1 1088,462.4 1089,461.1 1090,461.4 1091,460.9 1092,461.6 1093,462.9 1094,460.1 1095,462.8 1096,461.8 1097,462.6 1098,463 1099,463.7 1100,463.2 1101,462.8 1102,463.6 1103,463.5 1104,463.5 1105,464 1106,464.9 1107,464.3 1108,464.5 1109,463.2 1110,464.6 1111,463 1112,465.7 1113,464.2 1114,466.6 1115,468.5 1116,465.3 1117,467.2 1118,466.4 1119,465.6 1120,465.5 1121,467.1 1122,468.1 1123,467.2 1124,465.5 1125,466.1 1126,467.1 1127,468.8 1128,467.9 1129,468 1130,469.1 1131,467.8 1132,468 1133,468.1 1134,466.6 1135,469 1136,469.1 1137,469.7 1138,467.7 1139,468.2 1140,470 1141,469.5 1142,470.7 1143,468.6 1144,469.8 1145,469 1146,470.1 1147,469.4 1148,470.5 1149,471.2 1150,470.9 1151,468.6 1152,471.4 1153,471.1 1154,469.7 1155,470 1156,471 1157,471.7 1158,470.8 1159,469.8 1160,471.9 1161,471.9 1162,474.4 1163,470.8 1164,474.8 1165,474.2 1166,472.9 1167,474.4 1168,473 1169,474.1 1170,472.6 1171,473.5 1172,472.6 1173,472.2 1174,473.7 1175,473.5 1176,474.9 1177,475.7 1178,474.4 1179,474.8 1180,475.1 1181,473.3 1182,475.4 1183,475.3 1184,475.3 1185,474.4 1186,473.6 1187,475.5 1188,476.2 1189,477.3 1190,477.2 1191,477.7 1192,476.7 1193,477.6 1194,476.4 1195,477.3 1196,477.7 1197,479.6 1198,477.3 1199,475.8 1200,478.6 1201,476.5 1202,477.4 1203,477.3 1204,476.7 1205,479.1 1206,478.5 1207,477.3 1208,478.1 1209,477.7 1210,478.9 1211,478 1212,477.7 1213,477.9 1214,478.2 1215,479 1216,477.9 1217,478.8 1218,479.5 1219,481.5 1220,480.1 1221,476.3 1222,478.9 1223,479.1 1224,479.9 1225,481.2 1226,480.5 1227,477.6 1228,480.3 1229,480.1 1230,480.5 1231,481.6 1232,479.2 1233,481.5 1234,478.8 1235,480.6 1236,481 1237,483 1238,480.1 1239,479.2 1240,481.7 1241,480.5 1242,482.8 1243,480.6 1244,480.5 1245,482.7 1246,481.6 1247,482.7 1248,480.3 1249,483.5 1250,481.3 1251,482.8 1252,481.1 1253,480.6 1254,482 1255,482.6 1256,484.1 1257,482.9 1258,483.4 1259,483.4 1260,486 1261,482.1 1262,484.3 1263,483 1264,483.5 1265,482.8 1266,484.6 1267,482.3 1268,482.3 1269,483.5 1270,482.7 1271,484.6 1272,485 1273,483.4 1274,485 1275,483.7 1276,484.4 1277,484.6 1278,486.5 1279,484.8 1280,484 1281,484.1 1282,486.3 1283,483.6 1284,484.9 1285,485.1 1286,483.1 1287,485.2 1288,486.8 1289,486.1 1290,485.1 1291,486.8 1292,486.8 1293,488.4 1294,485.8 1295,486.2 1296,486.8 1297,486.7 1298,487.1 1299,487 1300,486.5 1301,485.7 1302,486.9 1303,486.2 1304,486.7 1305,487.3 1306,488.5 1307,488.9 1308,487.2 1309,488.6 1310,489.3 1311,488.5 1312,487.1 1313,486.7 1314,489.8 1315,490 1316,489.5 1317,488.3 1318,490.9 1319,490.8 1320,489.7 1321,489.6 1322,488 1323,490.8 1324,488.6 1325,491 1326,491.2 1327,490.7 1328,492.3 1329,490.5 1330,491.6 1331,491.9 1332,491.5 1333,490.9 1334,492.7 1335,492 1336,491.5 1337,491.7 1338,492.1 1339,494.4 1340,492.3 1341,492.1 1342,491.4 1343,491.4 1344,490.8 1345,493.1 1346,493 1347,492.1 1348,491.8 1349,493 1350,493 1351,492.3 1352,494.1 1353,494 1354,494 1355,494.9 1356,493.6 1357,495.8 1358,493.5 1359,495.2 1360,495.4 1361,494.7 1362,495.4 1363,493.9 1364,493.8 1365,495.2 1366,494.8 1367,496.3 1368,495.9 1369,496.6 1370,496.4 1371,496.4 1372,496.5 1373,496.1 1374,496.2 1375,498.8 1376,495.2 1377,496.9 1378,498.2 1379,497.7 1380,498.9 1381,498.2 1382,496.5 1383,497.6 1384,496.6 1385,499.2 1386,499.8 1387,498 1388,499.2 1389,498.4 1390,497.5 1391,498.6 1392,497.7 1393,498.8 1394,499.8 1395,500.5 1396,501.2 1397,499.7 1398,500.4 1399,500.8 1400,501.1 1401,497.8 1402,500.1 1403,501.8 1404,500 1405,501.6 1406,502.3 1407,499.7 1408,501.6 1409,502.2 1410,502.1 1411,500.7 1412,502.8 1413,502 1414,503.6 1415,503.3 1416,502.5 1417,503.4 1418,502.6 1419,502.8 1420,502 1421,503.5 1422,504.7 1423,504.1 1424,504.1 1425,503.7 1426,503.9 1427,505.3 1428,503.2 1429,506.9 1430,504.8 1431,507.2 1432,506.3 1433,504.8 1434,506.1 1435,505.7 1436,506.1 1437,506.5 1438,505.3 1439,505.3 1440,505.6 1441,504.8 1442,506 1443,506.6 1444,506.7 1445,506.7 1446,506.2 1447,507.5 1448,504.8 1449,506.5 1450,506.7 1451,508 1452,507.9 1453,508.1 1454,507.4 1455,508.4 1456,506.6 1457,507.7 1458,505.7 1459,509.6 1460,509.5 1461,507.4 1462,507.3 1463,506.1 1464,506.8 1465,508.5 1466,508.3 1467,507.1 1468,508.2 1469,508.1 1470,509.4 1471,509.7 1472,508.9 1473,509.3 1474,509.3 1475,507.3 1476,509.6 1477,509.5 1478,510.4 1479,507.9 1480,510.6 1481,509.3 1482,510.3 1483,511.4 1484,508.8 1485,509 1486,511.5 1487,509.4 1488,509.7 1489,511.4 1490,510.7 1491,511.7 1492,511.4 1493,511.1 1494,512.2 1495,513.5 1496,511.4 1497,513 1498,512.8 1499,511.9 1500,512.3 1501,511 1502,511.4 1503,512.4 1504,512.2 1505,513.7 1506,511.2 1507,512.3 1508,512 1509,512.6 1510,514 1511,511.8 1512,513.9 1513,512.6 1514,512.9 1515,514.4 1516,513.2 1517,514.2 1518,513.8 1519,513.6 1520,513.5 1521,512.2 1522,513.3 1523,514.3 1524,514.5 1525,512.9 1526,515.5 1527,515.1 1528,513.4 1529,513.7 1530,515.4 1531,513.2 1532,514.3 1533,515.1 1534,515.2 1535,515.3 1536,515.9 1537,514.8 1538,515.2 1539,517.9 1540,514.5 1541,515.6 1542,516.2 1543,515.6 1544,517.5 1545,516.5 1546,517.3 1547,514 1548,517.9 1549,518 1550,516.2 1551,518.4 1552,517.4 1553,518.2 1554,519.2 1555,517.6 1556,516.6 1557,517.7 1558,516.5 1559,517.1 1560,517.2 1561,517.4 1562,519.4 1563,519.1 1564,517.5 1565,519.6 1566,516.9 1567,518 1568,518.7 1569,520.1 1570,519.7 1571,519.5 1572,520.5 1573,520 1574,520.7 1575,518.7 1576,517.9 1577,519.2 1578,520.6 1579,520.1 1580,520.8 1581,520.7 1582,520.6 1583,521 1584,519.6 1585,521.5 1586,519.5 1587,520.4 1588,519.2 1589,521.3 1590,519.3 1591,522.3 1592,519.7 1593,521.4 1594,521.1 1595,520.4 1596,522.6 1597,521 1598,523 1599,520.6 1600,520.9 1601,519.8 1602,522.5 1603,522.9 1604,522.3 1605,522 1606,521.3 1607,524.7 1608,523.2 1609,520.6 1610,522.3 1611,520 1612,524.3 1613,524.8 1614,524.4 1615,522.9 1616,522.4 1617,521.7 1618,523.7 1619,522.5 1620,522.9 1621,522.8 1622,523.2 1623,524.4 1624,525.3 1625,523.8 1626,523.7 1627,522.7 1628,522.6 1629,522.8 1630,524.8 1631,524.2 1632,525 1633,524.5 1634,523.7 1635,523 1636,523.9 1637,522.9 1638,526.3 1639,524.7 1640,524.1 1641,526.5 1642,524.1 1643,525.1 1644,524.4 1645,525 1646,524.3 1647,525.2 1648,526.2 1649,523.5 1650,522.6 1651,526.2 1652,525.1 1653,525.8 1654,524.7 1655,526.5 1656,526.9 1657,523.9 1658,525.8 1659,524.5 1660,523.5 1661,524.9 1662,525.8 1663,523.9 1664,524 1665,526.6 1666,525.4 1667,525.8 1668,524.3 1669,524.8 1670,525.6 1671,525.7 1672,525.7 1673,527.2 1674,525.8 1675,524.1 1676,524.8 1677,525.7 1678,527.1 1679,525.2 1680,525.5 1681,525.9 1682,525.3 1683,525.2 1684,525.9 1685,527.2 1686,526.7 1687,526 1688,526.7 1689,525.1 1690,527.4 1691,527.2 1692,526.9 1693,525 1694,528.7 1695,523.8 1696,525.8 1697,526 1698,527.7 1699,525.5 1700,527.3 1701,527 1702,526.9 1703,528.2 1704,528.8 1705,527.8 1706,527.2 1707,525.3 1708,529.1 1709,527.4 1710,525.9 1711,528 1712,529.4 1713,527.8 1714,526.8 1715,530.4 1716,528.8 1717,528.6 1718,529.3 1719,526.1 1720,528.3 1721,528.3 1722,530.8 1723,528 1724,528.1 1725,527.3 1726,527.9 1727,528.6 1728,529.1 1729,528.7 1730,530.9 1731,529.4 1732,529.6 1733,530.4 1734,529.7 1735,528.6 1736,527.6 1737,529.5 1738,528.4 1739,530.6 1740,528.5 1741,527 1742,529.4 1743,530.4 1744,529.2 1745,529.6 1746,529.6 1747,531.2 1748,529.8 1749,529.5 1750,528.9 1751,527.9 1752,531 1753,530.8 1754,528.7 1755,530.3 1756,530 1757,529.4 1758,529.4 1759,530.6 1760,528.6 1761,529.3 1762,529.8 1763,529.9 1764,529.7 1765,530.2 1766,530.5 1767,529.1 1768,530.1 1769,529.5 1770,531.6 1771,528.7 1772,529.9 1773,530.9 1774,529.9 1775,529.9 1776,529.7 1777,530.6 1778,529.2 1779,530.3 1780,530.3 1781,529 1782,530.8 1783,530 1784,530.9 1785,531.5 1786,531 1787,529.5 1788,531 1789,529.1 1790,530 1791,532.5 1792,530.9 1793,532.5 1794,530.8 1795,531 1796,529.9 1797,532.1 1798,531 1799,531.8 1800,531.7 1801,531.8 1802,531.7 1803,531.4 1804,531.4 1805,530.8 1806,529.4 1807,532.1 1808,533.7 1809,532.8 1810,534.1 1811,532.3 1812,530.8 1813,530.9 1814,532.7 1815,532.3 1816,531.8 1817,532.8 1818,531.2 1819,532.6 1820,531.9 1821,532.4 1822,533.4 1823,532.1 1824,533.7 1825,533.7 1826,531.6 1827,534.8 1828,531.2 1829,532.4 1830,533.3 1831,530.2 1832,533.6 1833,533.7 1834,532.5 1835,532.9 1836,532.9 1837,532.5 1838,533.8 1839,532.4 1840,532.7 1841,533.2 1842,533.7 1843,534 1844,531.4 1845,530.9 1846,532.8 1847,532.9 1848,531.9 1849,533.3 1850,533.7 1851,533.5 1852,534.8 1853,532.1 1854,533.2 1855,535.1 1856,533.9 1857,532.1 1858,533.5 1859,534.5 1860,535.4 1861,534 1862,534.5 1863,532.2 1864,533.1 1865,534.6 1866,532.5 1867,533.4 1868,531.6 1869,535 1870,533.4 1871,534.1 1872,532 1873,532.2 1874,535.4 1875,533.3 1876,533.1 1877,534.2 1878,534.2 1879,531.7 1880,532.7 1881,533.8 1882,533.8 1883,534.1 1884,533.3 1885,533.5 1886,534 1887,533.1 1888,533 1889,533.3 1890,533.9 1891,533.7 1892,533.4 1893,533.7 1894,533.9 1895,534.3 1896,534.3 1897,532.7 1898,535 1899,532.4 1900,534.5" fill="none" stroke="#1a8c1a" stroke-width="2.9" stroke-linejoin="round" stroke-linecap="round"/><path d="M285,652 286,647.1 287,649.7 288,648.3 289,648.1 290,648 291,645.8 292,647.2 293,646.2 294,650 295,646.6 296,645.6 297,645.3 298,644.6 299,643.8 300,644.1 301,644.6 302,643.5 303,644.3 304,642.8 305,642.6 306,643.8 307,642.4 308,641 309,640.9 310,641.3 311,642.3 312,639.7 313,639.4 314,640.2 315,637.9 316,638.2 317,639 318,638.3 319,637.4 320,637.6 321,633.7 322,637.2 323,634.8 324,633.7 325,635.3 326,635.3 327,633.8 328,632.8 329,633.5 330,633 331,634.1 332,633.1 333,632.2 334,632.7 335,631 336,629.9 337,631.1 338,630.7 339,629.6 340,628.6 341,629.3 342,626.2 343,629 344,628.4 345,625.9 346,627.2 347,625.8 348,627.2 349,624 350,624.8 351,626 352,626.1 353,622.4 354,623.6 355,624.1 356,622.7 357,624.5 358,621.4 359,622.5 360,620.7 361,622.7 362,620.9 363,620.1 364,618.3 365,621.3 366,619.9 367,619.5 368,619.4 369,618.2 370,616.8 371,616.1 372,615.7 373,617.3 374,614 375,614.4 376,614.2 377,614.2 378,614 379,611.7 380,610.7 381,611.9 382,612.5 383,611.5 384,610.4 385,609.3 386,609.3 387,608.2 388,608.7 389,606.5 390,606.8 391,605.9 392,605.9 393,605 394,606.7 395,605 396,604.3 397,600.2 398,601.2 399,600.3 400,600.7 401,597.3 402,600 403,599.3 404,596.2 405,595.8 406,595.3 407,595.5 408,595.4 409,596.1 410,593.1 411,593.4 412,592.1 413,592.9 414,591.2 415,591.1 416,588 417,588.1 418,586.8 419,588.4 420,586.8 421,585.1 422,584.2 423,584.4 424,582.5 425,581.6 426,582.2 427,583.5 428,580 429,579 430,577.6 431,576.7 432,577.8 433,577.3 434,575.7 435,575.2 436,574.2 437,573.5 438,571 439,571.3 440,571 441,569.3 442,568.8 443,567.6 444,567.3 445,567.7 446,565.6 447,565 448,565.1 449,564.1 450,564.3 451,559.7 452,561.8 453,559.6 454,559.3 455,559.2 456,558.6 457,557.7 458,555.9 459,556.5 460,553.7 461,553 462,553.1 463,550.9 464,552.7 465,550.7 466,551 467,547.9 468,546.7 469,546.4 470,546 471,543.8 472,543.9 473,542.6 474,543.4 475,540.2 476,541 477,538.4 478,537.2 479,536.5 480,535.1 481,535.5 482,535.5 483,533.7 484,533.2 485,533.3 486,531 487,530 488,528.6 489,526.3 490,527.8 491,524.3 492,525.8 493,524.2 494,524.4 495,522.2 496,520.5 497,520.7 498,518.9 499,518.3 500,517.5 501,516.4 502,515.4 503,513.8 504,513.5 505,510.6 506,511.7 507,509.7 508,511.1 509,510.3 510,506.2 511,507.4 512,506.2 513,504.3 514,504.9 515,503 516,500.8 517,501.3 518,500.5 519,499.8 520,497.4 521,498.3 522,497.4 523,494.6 524,494 525,493.6 526,492 527,493.3 528,490.7 529,488.4 530,487.5 531,487.1 532,488.3 533,484.7 534,483.8 535,483 536,481.2 537,482.2 538,478 539,477.8 540,475.8 541,474.8 542,471.5 543,473.1 544,469.8 545,468.5 546,466.1 547,464.9 548,464.8 549,463.8 550,462.2 551,461.2 552,459.3 553,457.2 554,456.6 555,455 556,452.8 557,452.2 558,451.4 559,448.9 560,446.9 561,446.5 562,446.3 563,442.7 564,441.4 565,439.9 566,439.8 567,435.3 568,436 569,435.4 570,432 571,432.9 572,430.5 573,428.1 574,427.4 575,424.3 576,423.8 577,424.8 578,420.7 579,422 580,418.6 581,418.2 582,415.8 583,412.1 584,412.2 585,411.5 586,408.6 587,406.9 588,407 589,404.4 590,401.8 591,401.2 592,401 593,398 594,397.7 595,396.5 596,393.2 597,390.2 598,388.1 599,387.5 600,386.4 601,383.7 602,382 603,378.9 604,377.5 605,374.5 606,372.5 607,369.3 608,366.8 609,365.6 610,362.7 611,360.6 612,359.9 613,356.9 614,357.6 615,353.3 616,349.5 617,348.6 618,345.9 619,342.6 620,342.1 621,338 622,333.5 623,335.1 624,331.5 625,331.5 626,327.2 627,324.5 628,325.1 629,320.2 630,319.3 631,318.4 632,314.8 633,312.4 634,310.4 635,308.9 636,305 637,304.3 638,302 639,301.6 640,296.8 641,294.1 642,293.7 643,290.5 644,289.1 645,287 646,286.1 647,282.3 648,281 649,276.7 650,276.6 651,277.3 652,273.3 653,271.6 654,269.3 655,269.4 656,267.2 657,264.2 658,264.3 659,262.2 660,261.1 661,258.1 662,258.8 663,256 664,253.9 665,252 666,250.8 667,250.5 668,248 669,248 670,246.2 671,245.7 672,244 673,242 674,239.1 675,240.3 676,239.8 677,238.2 678,237.6 679,235.5 680,234.6 681,233.1 682,234.4 683,232.2 684,230.6 685,228.8 686,229.1 687,229.8 688,228 689,226 690,227.4 691,226.7 692,225.6 693,224.9 694,224.7 695,223.6 696,223.5 697,221.6 698,223.7 699,222.3 700,224 701,220 702,222.9 703,223.4 704,222.4 705,223.6 706,224.3 707,224.7 708,224.2 709,225.2 710,227.1 711,228.1 712,227.7 713,228.5 714,229.5 715,231.3 716,230.1 717,230.8 718,233.2 719,233 720,234.5 721,236.2 722,237.6 723,237 724,239.8 725,238.2 726,241.5 727,240.4 728,241.8 729,244.9 730,245 731,245.9 732,247.5 733,249.7 734,250.5 735,251.9 736,254.4 737,254.1 738,255.8 739,257.3 740,260.5 741,261.8 742,263.7 743,263.9 744,265.3 745,267.9 746,268.3 747,271.1 748,272.6 749,272.7 750,274.9 751,276.5 752,279.9 753,282.4 754,281.4 755,283.2 756,282.6 757,286.8 758,288.3 759,289 760,292.6 761,292.1 762,295.2 763,297.4 764,297.9 765,301.8 766,303.9 767,303.3 768,305.2 769,309.1 770,310.3 771,311.1 772,313.9 773,316 774,317.9 775,320.8 776,322.4 777,325.8 778,327.5 779,328.9 780,331.5 781,334 782,335.6 783,336 784,340.4 785,341.9 786,345.7 787,346.5 788,349.2 789,351.3 790,354.9 791,355.6 792,357.3 793,360 794,361.3 795,363.9 796,365.6 797,367.8 798,371.2 799,370.5 800,372.5 801,373.8 802,376.1 803,375.7 804,377.6 805,379.5 806,381.4 807,382.1 808,382.9 809,383.7 810,386.3 811,388.4 812,388.4 813,389.4 814,390.8 815,390.5 816,392.2 817,393.3 818,394.9 819,395.7 820,395.6 821,399 822,400.6 823,399.7 824,401.4 825,402.4 826,404 827,402.9 828,407.1 829,406.2 830,409.1 831,409.1 832,409.8 833,411.3 834,413.6 835,413.1 836,414.9 837,416.1 838,416.1 839,420.4 840,421 841,421.7 842,424.2 843,423.4 844,425.6 845,428.7 846,429.2 847,427.3 848,427.4 849,431 850,434.3 851,433.9 852,435.4 853,437.3 854,437 855,439.2 856,440.8 857,441.5 858,442.4 859,442.4 860,444.5 861,444.5 862,447.2 863,449.4 864,447 865,446.5 866,449.1 867,450.8 868,452.3 869,453.2 870,452.2 871,453 872,456 873,454.5 874,457.5 875,457 876,458.9 877,459.7 878,460.6 879,461.5 880,460.6 881,462.8 882,463.4 883,464.6 884,466.5 885,465.9 886,466.4 887,467.4 888,468.8 889,470.8 890,470.2 891,473.1 892,473.2 893,473.7 894,473.5 895,476 896,477.4 897,475.9 898,479.7 899,481.1 900,480.6 901,481.6 902,484.4 903,484 904,482.6 905,484.3 906,484.8 907,485.5 908,484 909,487.8 910,487.1 911,488.6 912,488.9 913,490.6 914,490.1 915,490.2 916,492.1 917,493.6 918,492.5 919,494.8 920,494.3 921,494.1 922,496.7 923,495 924,497.4 925,496.4 926,498 927,496.8 928,497.8 929,500.2 930,499.9 931,500.3 932,500.3 933,501.7 934,500.4 935,501.2 936,502.7 937,502.5 938,503.2 939,504.3 940,504.7 941,505.1 942,507.5 943,507.4 944,508.1 945,507.3 946,507.3 947,506.8 948,508.4 949,507.1 950,509.1 951,510.9 952,512.3 953,512.1 954,510.7 955,512.5 956,511.7 957,513.8 958,513.3 959,514.7 960,516.9 961,515.7 962,517.6 963,515.9 964,515.8 965,517.9 966,518.7 967,516.9 968,517.9 969,516.9 970,518.5 971,520 972,519.5 973,519.4 974,519 975,521.2 976,522 977,522.2 978,522.3 979,521.2 980,524.6 981,523.2 982,523.5 983,524.8 984,522.3 985,524.8 986,525.1 987,526 988,527.3 989,526.8 990,524.9 991,526.8 992,527.7 993,528 994,527 995,526.9 996,529.5 997,529.7 998,529.7 999,528.3 1000,532.2 1001,527.9 1002,530.7 1003,533.6 1004,531.7 1005,532.4 1006,531.3 1007,534.2 1008,531.9 1009,533.8 1010,534 1011,533.1 1012,535.4 1013,533.4 1014,534.5 1015,535.5 1016,535.4 1017,536.6 1018,537.4 1019,536.5 1020,536.6 1021,536.9 1022,537.4 1023,538.9 1024,538.2 1025,539.1 1026,538.9 1027,538.5 1028,540.5 1029,538.9 1030,540.2 1031,542 1032,539.7 1033,541.1 1034,539.8 1035,541.2 1036,540.5 1037,541.9 1038,542 1039,543 1040,544.7 1041,543.7 1042,544.4 1043,543.9 1044,544 1045,543.7 1046,543 1047,545.2 1048,547 1049,546.1 1050,545.4 1051,547.8 1052,546 1053,546.1 1054,545.8 1055,546.3 1056,547.3 1057,549.8 1058,547.8 1059,547.2 1060,547.9 1061,548.6 1062,547.3 1063,549.4 1064,550.3 1065,550.1 1066,550.7 1067,549 1068,548.9 1069,552.1 1070,552.2 1071,549.8 1072,551.8 1073,551.9 1074,552.6 1075,552.6 1076,552.1 1077,553 1078,553.2 1079,553.3 1080,551.7 1081,550.8 1082,553.2 1083,552.6 1084,554.7 1085,555.4 1086,555.2 1087,554.8 1088,555.5 1089,556.8 1090,555.1 1091,557 1092,557 1093,556.7 1094,558.1 1095,556.2 1096,558 1097,556.4 1098,556.7 1099,556.6 1100,558.3 1101,557.2 1102,558.3 1103,557.3 1104,559.7 1105,560.7 1106,559.2 1107,560.8 1108,559.9 1109,561.7 1110,559.8 1111,558.3 1112,561.5 1113,560 1114,559.3 1115,559.8 1116,559 1117,560.6 1118,559.9 1119,562.6 1120,561.9 1121,559.8 1122,560.1 1123,561.2 1124,559.9 1125,561.9 1126,562.1 1127,561.5 1128,561.9 1129,563.1 1130,564.1 1131,564.4 1132,563 1133,564 1134,562.5 1135,563.8 1136,562.6 1137,564.4 1138,562.6 1139,563 1140,564 1141,564.7 1142,562.9 1143,563.9 1144,564.7 1145,564.9 1146,564 1147,565 1148,564.8 1149,566.6 1150,565.8 1151,564.1 1152,563.3 1153,565.7 1154,566.9 1155,566.1 1156,566.9 1157,565.6 1158,564.9 1159,567.1 1160,566.6 1161,567.2 1162,565.3 1163,567 1164,566.3 1165,567.8 1166,566.5 1167,566.6 1168,566.7 1169,568.6 1170,567.5 1171,566.8 1172,566.7 1173,566.7 1174,569.3 1175,566.1 1176,567.2 1177,568.8 1178,569.4 1179,568.2 1180,569.2 1181,569.3 1182,569.6 1183,568.8 1184,570.5 1185,569.1 1186,570.5 1187,568 1188,570.1 1189,568 1190,567.9 1191,570 1192,568.8 1193,570.1 1194,568.7 1195,571.5 1196,570 1197,568.9 1198,570.4 1199,571.2 1200,569.6 1201,571 1202,572.7 1203,571.6 1204,570.8 1205,570.4 1206,571.6 1207,569.6 1208,568.2 1209,570.7 1210,570.4 1211,573.4 1212,571.9 1213,570.9 1214,570.9 1215,572.6 1216,571.4 1217,571.8 1218,572.4 1219,572.8 1220,572.9 1221,573.1 1222,574.4 1223,574.9 1224,571.7 1225,576.1 1226,573.8 1227,575 1228,573.2 1229,574.4 1230,574.4 1231,574.4 1232,575.3 1233,575.2 1234,573.7 1235,574.8 1236,575.7 1237,575.8 1238,575 1239,575.1 1240,575.4 1241,574.6 1242,574.5 1243,577.5 1244,575.7 1245,576.3 1246,575.6 1247,577.8 1248,578.4 1249,576.5 1250,577.4 1251,576.2 1252,578.9 1253,578.2 1254,576.5 1255,578.7 1256,577.9 1257,578.1 1258,578.2 1259,577.2 1260,577.5 1261,578.7 1262,578.2 1263,577.4 1264,580.5 1265,578.3 1266,578.1 1267,578 1268,579.5 1269,579.9 1270,579.3 1271,580 1272,577.7 1273,578.9 1274,578.9 1275,579.5 1276,580.1 1277,577.6 1278,582.9 1279,579 1280,580.3 1281,580.8 1282,581 1283,580.4 1284,577.4 1285,579.3 1286,581.2 1287,579.6 1288,579.6 1289,578.4 1290,582.1 1291,581.5 1292,580.1 1293,581 1294,581.1 1295,580.2 1296,581.2 1297,581.8 1298,582.2 1299,583 1300,581.9 1301,581.5 1302,582.5 1303,581.5 1304,581 1305,583.5 1306,582.1 1307,582.8 1308,583.4 1309,581.8 1310,583.7 1311,583.6 1312,583.2 1313,583.8 1314,582.8 1315,581.5 1316,583.6 1317,583.1 1318,585 1319,584.6 1320,583.9 1321,584.6 1322,586.1 1323,586 1324,585.4 1325,585.6 1326,585.1 1327,585.4 1328,586.3 1329,585.7 1330,586.3 1331,585.1 1332,584.7 1333,584.8 1334,586.2 1335,588.1 1336,588.2 1337,586.1 1338,585.7 1339,588.3 1340,588.1 1341,586.4 1342,589 1343,588.3 1344,589.6 1345,588.8 1346,589.5 1347,589 1348,587.9 1349,588.8 1350,588.5 1351,590.1 1352,588.5 1353,588.1 1354,590.4 1355,591 1356,591.5 1357,591.2 1358,588.8 1359,589.7 1360,590 1361,590.6 1362,588.6 1363,590.9 1364,591.3 1365,590.2 1366,591.4 1367,592.6 1368,591.6 1369,592.7 1370,592.8 1371,592.3 1372,592.4 1373,591.8 1374,593.5 1375,591.9 1376,591.8 1377,593.3 1378,592 1379,593.3 1380,594.1 1381,593.2 1382,593.4 1383,594.3 1384,594.3 1385,592.1 1386,592.5 1387,595.3 1388,594.5 1389,592.1 1390,593 1391,594.5 1392,593.6 1393,595.2 1394,595 1395,595.5 1396,594 1397,595.9 1398,597.4 1399,594.8 1400,597 1401,596.9 1402,596.7 1403,596.1 1404,595.1 1405,595.6 1406,597.3 1407,597.7 1408,598.1 1409,598 1410,598 1411,596.9 1412,596.2 1413,597.8 1414,598.2 1415,597.9 1416,596.5 1417,597.6 1418,596.8 1419,598.6 1420,597.5 1421,598.6 1422,599.2 1423,599.1 1424,600.5 1425,598.2 1426,597.3 1427,600.5 1428,601.1 1429,601.3 1430,600.3 1431,600.7 1432,600.4 1433,599.2 1434,600 1435,601.3 1436,600.3 1437,603 1438,599.7 1439,601 1440,602.7 1441,601.1 1442,600.7 1443,600.7 1444,601.5 1445,603.8 1446,602.9 1447,603.2 1448,602.3 1449,603.8 1450,603.2 1451,602.4 1452,603 1453,603.8 1454,604.9 1455,603.9 1456,604.6 1457,606.3 1458,603.6 1459,603.3 1460,605.7 1461,605.3 1462,604.9 1463,605.5 1464,605 1465,606 1466,605.3 1467,606.6 1468,604.8 1469,605.3 1470,606.3 1471,605.9 1472,607.2 1473,606.6 1474,606.2 1475,607.1 1476,606.5 1477,605.6 1478,606.2 1479,606.6 1480,607.1 1481,607.8 1482,608.7 1483,608.4 1484,609.8 1485,609.4 1486,608 1487,610 1488,609.6 1489,608.1 1490,609 1491,609.9 1492,609.1 1493,610 1494,609.5 1495,609.9 1496,609 1497,609.8 1498,609.1 1499,610.3 1500,608 1501,610.1 1502,611.1 1503,610.6 1504,610.1 1505,610.7 1506,609.4 1507,609.5 1508,610.1 1509,610.4 1510,611.6 1511,609.8 1512,611.8 1513,609.4 1514,610.2 1515,611.1 1516,612.4 1517,610.7 1518,609.2 1519,611.9 1520,611.5 1521,610.6 1522,610.7 1523,611.2 1524,612.1 1525,612.7 1526,610.7 1527,614.5 1528,612.3 1529,612.1 1530,613.2 1531,612.8 1532,615.1 1533,613.9 1534,612.6 1535,612.7 1536,612.6 1537,612.9 1538,614 1539,612.8 1540,615.2 1541,613.6 1542,613.6 1543,614.8 1544,612 1545,613.1 1546,614.7 1547,614.3 1548,614.3 1549,614.8 1550,613.9 1551,614.5 1552,613.4 1553,613 1554,616.2 1555,614.1 1556,614.4 1557,616.6 1558,616.4 1559,614.9 1560,615 1561,615.6 1562,614.8 1563,616.4 1564,616.1 1565,616.2 1566,616.9 1567,617 1568,618.2 1569,618 1570,614.8 1571,617.5 1572,615.6 1573,615.4 1574,617.6 1575,616.3 1576,616.8 1577,618.3 1578,616.7 1579,616.5 1580,617.9 1581,618.9 1582,618.3 1583,616.3 1584,617.3 1585,617.9 1586,620.1 1587,619.1 1588,619.2 1589,619.7 1590,618.3 1591,619.2 1592,619.3 1593,617.9 1594,619 1595,619.7 1596,618.1 1597,620.1 1598,620.2 1599,620.6 1600,618.8 1601,619.8 1602,621.3 1603,620.7 1604,619.3 1605,620.4 1606,621.7 1607,620.3 1608,620.8 1609,623.1 1610,620.6 1611,620.7 1612,619.9 1613,620.3 1614,622.6 1615,621 1616,620.1 1617,620.4 1618,621.5 1619,622.3 1620,620.9 1621,622.5 1622,621.3 1623,622.3 1624,622.5 1625,622.7 1626,621.8 1627,622.1 1628,622.9 1629,621.1 1630,622.7 1631,623.1 1632,623.7 1633,622.7 1634,622.7 1635,623.1 1636,622.3 1637,622.9 1638,623.6 1639,623.5 1640,622.2 1641,623 1642,621.3 1643,624.3 1644,623.1 1645,623.9 1646,622.6 1647,623.7 1648,624.3 1649,624.9 1650,622.6 1651,624.9 1652,624 1653,623.4 1654,624.8 1655,624.1 1656,624.1 1657,623.8 1658,624.8 1659,624.7 1660,624.5 1661,623.8 1662,624.3 1663,625.3 1664,626.2 1665,625 1666,626.5 1667,625.1 1668,624.1 1669,625.9 1670,624.4 1671,625.8 1672,626.5 1673,625.2 1674,625.5 1675,628.1 1676,626 1677,626.1 1678,626.6 1679,625.8 1680,625.9 1681,626.4 1682,623.7 1683,627.6 1684,625.2 1685,625.2 1686,626.9 1687,626.5 1688,625.3 1689,626.8 1690,625.5 1691,626 1692,625.3 1693,626 1694,627.3 1695,627.1 1696,627.4 1697,628 1698,627.1 1699,626.6 1700,627 1701,629 1702,627.5 1703,627.8 1704,627.5 1705,627.9 1706,628.1 1707,627.8 1708,627.7 1709,627.1 1710,627.1 1711,628.4 1712,628.8 1713,629 1714,628.2 1715,627.4 1716,628.9 1717,629 1718,626.9 1719,629.3 1720,629.1 1721,630.2 1722,627.5 1723,627.4 1724,629.5 1725,627 1726,628.1 1727,627.8 1728,627.9 1729,627 1730,628.7 1731,630 1732,629.5 1733,629.5 1734,628.8 1735,630.6 1736,629.7 1737,630.3 1738,627.7 1739,629.7 1740,628.2 1741,629.7 1742,629.6 1743,628.3 1744,629.6 1745,630.7 1746,630 1747,630.2 1748,628.7 1749,628.9 1750,628.5 1751,629.8 1752,630.9 1753,630.2 1754,629.8 1755,628.7 1756,630.3 1757,629.6 1758,628 1759,628.2 1760,629.6 1761,629.1 1762,631.6 1763,630 1764,629 1765,629.6 1766,631.7 1767,629.2 1768,630.9 1769,630.6 1770,631.7 1771,630.7 1772,629.8 1773,630.8 1774,630.4 1775,631.3 1776,630.3 1777,632.4 1778,630.3 1779,630.9 1780,629.9 1781,630.7 1782,630.6 1783,630.8 1784,631.5 1785,630.2 1786,629.9 1787,631.9 1788,630.5 1789,630.2 1790,632 1791,631.7 1792,628.3 1793,630.6 1794,631.8 1795,631.9 1796,630.6 1797,632.7 1798,630.4 1799,631 1800,631.4 1801,631.3 1802,632.2 1803,632.5 1804,631.4 1805,632.9 1806,630.9 1807,631.4 1808,633.4 1809,631.8 1810,632.8 1811,631.4 1812,631.6 1813,631.8 1814,632.1 1815,631.6 1816,632 1817,632.7 1818,633.3 1819,632.2 1820,632.8 1821,633.1 1822,631.2 1823,630.7 1824,633.9 1825,633.7 1826,632.5 1827,632.8 1828,631.5 1829,631.1 1830,632.8 1831,631.1 1832,633.5 1833,632 1834,633 1835,634.6 1836,634.6 1837,632.5 1838,633.9 1839,631.8 1840,632.3 1841,633.3 1842,634.3 1843,632.4 1844,633.5 1845,633.1 1846,631.8 1847,633 1848,634.6 1849,633.1 1850,633.7 1851,634 1852,632.5 1853,634.5 1854,634.8 1855,634.9 1856,634.7 1857,632.9 1858,632.8 1859,632.7 1860,632.6 1861,632.7 1862,634.5 1863,635 1864,633 1865,634.4 1866,632.4 1867,633.4 1868,632.7 1869,632.1 1870,633.8 1871,633.9 1872,633.4 1873,633.3 1874,632.9 1875,633.8 1876,633.3 1877,634.2 1878,632.8 1879,634.2 1880,634.5 1881,635.3 1882,635.1 1883,634.3 1884,633.4 1885,632.3 1886,634.2 1887,635.6 1888,635.9 1889,631.7 1890,633.5 1891,634 1892,633.3 1893,634.5 1894,634.4 1895,633.9 1896,634.4 1897,632.8 1898,633.5 1899,633.6 1900,635.4" fill="none" stroke="#e830e8" stroke-width="2.9" stroke-linejoin="round" stroke-linecap="round"/><path d="M285,753.8 286,754 287,755.6 288,754.2 289,751.6 290,752.9 291,752 292,752.5 293,750.4 294,751.9 295,751.6 296,752.6 297,751 298,750.8 299,748.5 300,751.9 301,747.3 302,750 303,748.2 304,747.3 305,747.2 306,746.8 307,747.5 308,746.6 309,747.8 310,744.1 311,745.6 312,744.3 313,745.6 314,742.3 315,743.7 316,743.9 317,741.8 318,743.8 319,742.6 320,743.1 321,742.6 322,740.3 323,740 324,740.2 325,740.7 326,740.4 327,738.4 328,738.1 329,737.5 330,737.3 331,737.2 332,736.8 333,738.5 334,735.5 335,735.3 336,735.6 337,733.7 338,733.8 339,733.7 340,734 341,731.4 342,733.6 343,731.4 344,731.4 345,731.6 346,730.9 347,730.8 348,729.4 349,728.7 350,728.5 351,726.7 352,728.3 353,725.8 354,724.8 355,727.6 356,724.9 357,723.3 358,725.8 359,723.1 360,724 361,721.6 362,721.6 363,719.7 364,718.9 365,719.3 366,719.7 367,720 368,721.1 369,717.1 370,718.6 371,716.5 372,716.4 373,714.6 374,714 375,714.2 376,713.3 377,714 378,712.7 379,714.2 380,712.5 381,712 382,712.5 383,711.4 384,710.3 385,709.7 386,709.2 387,709.8 388,709 389,708.1 390,708 391,706.1 392,706.7 393,704.2 394,706.5 395,704.7 396,704.3 397,704.1 398,703 399,702.2 400,703.1 401,701.5 402,700 403,700.8 404,698.1 405,700.9 406,698.5 407,698.2 408,699.8 409,699.2 410,696.6 411,696.5 412,696.4 413,696.4 414,694 415,693.7 416,694.2 417,692.7 418,692.6 419,691.8 420,689.5 421,689.1 422,686.7 423,688.5 424,689.5 425,686.4 426,688.1 427,687.2 428,685.5 429,684.9 430,684.3 431,682.7 432,682.6 433,682.1 434,682.1 435,681.6 436,679.3 437,680.2 438,677.9 439,677.7 440,677.5 441,676.4 442,675.6 443,675.2 444,673.6 445,672.8 446,672.5 447,672.9 448,671.1 449,672.3 450,669.8 451,665.9 452,667.6 453,669 454,666.5 455,665.3 456,664.1 457,665.5 458,664.4 459,663.3 460,662.2 461,662.4 462,661 463,658.2 464,659.4 465,658 466,656.9 467,657 468,655.5 469,651.8 470,655.5 471,654.2 472,652.2 473,651.2 474,651 475,648.7 476,649.5 477,648.2 478,647.3 479,646 480,645.4 481,646.5 482,645.9 483,644.3 484,643 485,641.4 486,642.2 487,642.3 488,638.3 489,640.3 490,636.2 491,637.2 492,637.2 493,634.6 494,633.7 495,634.6 496,634.5 497,632.4 498,633.4 499,630.5 500,632.2 501,629.8 502,629.1 503,628.7 504,627.6 505,628.3 506,627.9 507,625.4 508,623.9 509,622.1 510,621.7 511,621.7 512,620.7 513,620 514,619.2 515,618.9 516,616.2 517,615.7 518,617 519,615.9 520,613.7 521,614.7 522,611.9 523,611.4 524,609 525,610.8 526,609.1 527,609.4 528,608.2 529,606.7 530,606 531,606.2 532,604 533,603.2 534,602.6 535,602.5 536,601.7 537,601.9 538,599 539,599.5 540,596.7 541,597.1 542,595.7 543,596.3 544,594.3 545,592.3 546,592.3 547,591.1 548,589.4 549,588.3 550,586.6 551,589.2 552,585.4 553,585.1 554,581.7 555,580.5 556,580.1 557,578.8 558,578.4 559,575.2 560,575.4 561,574.9 562,571.1 563,571.4 564,568.1 565,567.9 566,566.4 567,566.3 568,562.4 569,561.7 570,561.1 571,557.4 572,557 573,554.7 574,553.3 575,553.2 576,551.8 577,552.2 578,549.5 579,548 580,545.1 581,543.5 582,542.5 583,538.6 584,541.1 585,537.3 586,535.5 587,534.6 588,534.4 589,533.2 590,530.1 591,529.3 592,527.3 593,524.7 594,524.2 595,522.4 596,519.2 597,520.1 598,515.6 599,515.6 600,512.5 601,510.8 602,508.9 603,508.2 604,504.1 605,503 606,502.5 607,497.9 608,496.2 609,494.5 610,490.9 611,489.5 612,485.9 613,484.8 614,481.8 615,478.3 616,478.3 617,474.4 618,471.8 619,468.9 620,467 621,465.2 622,463.3 623,462 624,457.5 625,456.3 626,455.7 627,452.6 628,450.6 629,449.6 630,446.1 631,444 632,441.2 633,440.6 634,437.3 635,432.9 636,431.5 637,427 638,426.5 639,423.3 640,419.7 641,416.8 642,412.8 643,412.8 644,409.6 645,407.2 646,406.1 647,402.7 648,400.7 649,398.5 650,395.8 651,397.6 652,393 653,390.9 654,390.3 655,384.3 656,385.6 657,383.9 658,381.1 659,380.8 660,376.7 661,377.1 662,376.4 663,371.7 664,371 665,370.9 666,369.7 667,367.7 668,367.5 669,366.2 670,363.5 671,363.7 672,361.5 673,359.6 674,358.2 675,360.5 676,358.3 677,359.4 678,354.9 679,355 680,354.7 681,353.2 682,352.9 683,351.6 684,349.9 685,347.3 686,347.8 687,349.7 688,348 689,347.9 690,345.3 691,345 692,343.8 693,344.5 694,343.8 695,343.8 696,344.7 697,341.9 698,343.3 699,341 700,343.5 701,342 702,342.4 703,342.8 704,344.5 705,343 706,342.9 707,342.5 708,344.4 709,343.7 710,344.5 711,345.5 712,346.7 713,345.9 714,347.8 715,349.5 716,346.9 717,350.4 718,351.9 719,349.9 720,351.8 721,350.5 722,353 723,353.1 724,354.4 725,354 726,354.9 727,356.1 728,356.9 729,358.1 730,359.7 731,360 732,362.3 733,364.3 734,363 735,367 736,367.7 737,368.9 738,370.3 739,372.5 740,374.3 741,377.2 742,377.3 743,381.4 744,381.3 745,384.5 746,386.7 747,386.1 748,390.1 749,392.9 750,391.9 751,394.6 752,395.6 753,397.5 754,398.9 755,400.3 756,403.3 757,405.2 758,406.1 759,409.4 760,410.8 761,412.2 762,412.6 763,417 764,418.2 765,416.6 766,419.5 767,421.9 768,425.2 769,427.3 770,427.6 771,430 772,432.3 773,432.1 774,435.8 775,436.7 776,439 777,440.6 778,441.3 779,443.4 780,446.3 781,448.3 782,449.8 783,453 784,453.5 785,454.6 786,457.3 787,459.4 788,461.3 789,464.5 790,465.7 791,468.1 792,469.5 793,470.5 794,473.5 795,474 796,476.2 797,476.7 798,479.4 799,480.6 800,482.9 801,485.9 802,488 803,488.1 804,488.6 805,490.9 806,491.8 807,492.5 808,494.5 809,495.7 810,496.8 811,500.2 812,499.7 813,501.1 814,503.7 815,503.6 816,504.5 817,506.2 818,508.8 819,510 820,511.2 821,511.7 822,512.5 823,515.6 824,514.5 825,516.9 826,517 827,519.1 828,520.5 829,523 830,520 831,525.4 832,524.2 833,526.5 834,528 835,527.5 836,529.2 837,530.7 838,531.1 839,531.4 840,533.3 841,534.2 842,533.5 843,537.2 844,537 845,535.3 846,537.8 847,541.2 848,541.9 849,541.5 850,540.5 851,542.8 852,545 853,545.2 854,545.4 855,545.9 856,548.4 857,548.2 858,549.7 859,550.8 860,552.9 861,552.4 862,553.4 863,552.3 864,556.1 865,556.8 866,556.9 867,555.5 868,558.2 869,559.7 870,562.7 871,562.1 872,563.2 873,564.1 874,565.5 875,563.9 876,565.1 877,565.6 878,567.3 879,568.1 880,569.3 881,569 882,570.9 883,570.7 884,574.5 885,572.6 886,576.4 887,576.2 888,574.1 889,577 890,577.4 891,575.9 892,578.8 893,578.8 894,579.9 895,579.4 896,580.9 897,582 898,582.1 899,582.3 900,583.5 901,583.3 902,585.3 903,583 904,587.7 905,586.9 906,588 907,589 908,587.6 909,591.7 910,589 911,591.2 912,591.7 913,593.3 914,592.6 915,591.8 916,594.1 917,592 918,594.8 919,595.2 920,597.8 921,596.5 922,597 923,597.2 924,597.7 925,598.6 926,600.3 927,599 928,600.6 929,599.9 930,601.8 931,602.7 932,601.8 933,603 934,604.2 935,605.4 936,606.1 937,605.6 938,605.2 939,605.1 940,608.1 941,609.2 942,608.7 943,610.4 944,608.8 945,609.4 946,611.9 947,609.8 948,611.9 949,612.1 950,612.4 951,614.4 952,612.3 953,613.2 954,612 955,613.5 956,614.5 957,615.1 958,615.7 959,616.6 960,616.1 961,615.2 962,617.8 963,618.5 964,617.4 965,618.2 966,621.2 967,620.8 968,621.3 969,621.3 970,621.2 971,621 972,622.5 973,622.1 974,622.3 975,623.2 976,623.5 977,624.9 978,623.4 979,627.3 980,624.2 981,625.2 982,626.9 983,625.5 984,626.3 985,627.2 986,624.6 987,627.4 988,627.4 989,628.5 990,629.6 991,630.1 992,631.4 993,631.7 994,631.7 995,631 996,632.4 997,630.7 998,632 999,633.9 1000,633.6 1001,631.8 1002,633 1003,634.8 1004,634.9 1005,635.7 1006,633.2 1007,634.1 1008,635.5 1009,635.1 1010,636.4 1011,636.8 1012,637.5 1013,637.3 1014,638.4 1015,638.9 1016,638.7 1017,637.6 1018,640.5 1019,639.7 1020,640.3 1021,640.4 1022,638.9 1023,641.4 1024,640.5 1025,640.3 1026,643.1 1027,641.9 1028,642.8 1029,643.7 1030,644.8 1031,641.6 1032,643 1033,644.8 1034,643.7 1035,641.4 1036,645.2 1037,645.6 1038,646.4 1039,646.2 1040,645.8 1041,646.8 1042,646.8 1043,646.7 1044,647.7 1045,648.1 1046,647.1 1047,649.4 1048,649.5 1049,649.8 1050,646.5 1051,649.7 1052,649.7 1053,649.1 1054,651 1055,649.2 1056,652.3 1057,651.7 1058,651.1 1059,653.3 1060,652.6 1061,652.8 1062,651.4 1063,653.6 1064,654.7 1065,654.7 1066,652.6 1067,655.6 1068,656.1 1069,655.6 1070,654.7 1071,653.8 1072,654.7 1073,655.3 1074,656.5 1075,657 1076,656 1077,655.4 1078,656.9 1079,656.3 1080,659.2 1081,656.9 1082,658.9 1083,659.5 1084,657.9 1085,660.2 1086,659.3 1087,658.9 1088,659 1089,660.3 1090,661.6 1091,658.8 1092,661.6 1093,661 1094,660.7 1095,661.6 1096,661.9 1097,662.1 1098,663.2 1099,661.6 1100,664.8 1101,663.9 1102,662.6 1103,661.4 1104,663.6 1105,663.4 1106,664.7 1107,664.9 1108,666.3 1109,664.4 1110,665.5 1111,664.4 1112,664.6 1113,666.7 1114,665.2 1115,665.4 1116,665.3 1117,666.2 1118,666.6 1119,666 1120,665.2 1121,666.8 1122,665.8 1123,666.4 1124,667.1 1125,667.3 1126,664.9 1127,669.1 1128,668.3 1129,669.6 1130,670.3 1131,667 1132,667.5 1133,668.4 1134,669.2 1135,667.9 1136,668.2 1137,669.8 1138,667.9 1139,669.1 1140,670.2 1141,668.9 1142,670.1 1143,669.3 1144,667.9 1145,669.1 1146,669.6 1147,669.5 1148,670 1149,670.5 1150,670.5 1151,670.5 1152,670 1153,670.4 1154,670.3 1155,670.2 1156,672.3 1157,669.1 1158,671.4 1159,669.6 1160,670.7 1161,672.3 1162,671.3 1163,673.1 1164,670.8 1165,671.6 1166,671.3 1167,672.1 1168,671.9 1169,671.9 1170,672.5 1171,673.6 1172,672.7 1173,672.7 1174,672.5 1175,672.2 1176,671.5 1177,672 1178,673.2 1179,671.3 1180,674 1181,673 1182,672.6 1183,673.1 1184,674.4 1185,674.2 1186,674.2 1187,675.8 1188,676.5 1189,673 1190,675.2 1191,673.7 1192,673.2 1193,674.1 1194,675.8 1195,674.6 1196,674.5 1197,676.5 1198,675.7 1199,675.2 1200,677.2 1201,676 1202,674.9 1203,674.6 1204,675.4 1205,676.1 1206,676.9 1207,676.9 1208,676.3 1209,675.1 1210,677.3 1211,676.5 1212,675.4 1213,675.3 1214,676.9 1215,677.1 1216,677.6 1217,675.7 1218,678.9 1219,675.2 1220,677.1 1221,678.5 1222,678.3 1223,676.3 1224,678 1225,678.7 1226,678.3 1227,676.6 1228,679.3 1229,676.1 1230,677.8 1231,676.8 1232,677.5 1233,677.7 1234,678.6 1235,676.9 1236,678.4 1237,679.6 1238,678.4 1239,679 1240,678.9 1241,677.8 1242,678.3 1243,678.8 1244,679.3 1245,680.9 1246,680.6 1247,678.6 1248,678.7 1249,678.2 1250,677 1251,680.7 1252,680 1253,677.6 1254,679.7 1255,682.2 1256,680.4 1257,680.5 1258,680.3 1259,679.4 1260,679.1 1261,679.6 1262,680.7 1263,680.4 1264,681.5 1265,682.7 1266,681.6 1267,682 1268,680.9 1269,680.1 1270,683.7 1271,682.4 1272,683 1273,681.5 1274,680.3 1275,683.5 1276,680.1 1277,682.3 1278,682.1 1279,683 1280,683.7 1281,683.9 1282,681.1 1283,684.4 1284,681.6 1285,684.3 1286,683.4 1287,682.8 1288,683.6 1289,682.9 1290,684.4 1291,685.5 1292,685.5 1293,684.9 1294,686.2 1295,685.7 1296,687.5 1297,686 1298,685.1 1299,685.5 1300,685.2 1301,685.8 1302,686.1 1303,687.1 1304,687.4 1305,686.8 1306,687.3 1307,686.3 1308,686.7 1309,684.9 1310,686.7 1311,687.2 1312,690.4 1313,686.6 1314,688.2 1315,687.9 1316,686.8 1317,688.8 1318,688.7 1319,687.4 1320,686.7 1321,689.1 1322,687.9 1323,690.2 1324,689.4 1325,690.3 1326,689.7 1327,691.7 1328,691 1329,692 1330,690.7 1331,689.7 1332,689.5 1333,690.6 1334,691.5 1335,690.8 1336,694.1 1337,691.7 1338,692.3 1339,692.1 1340,690.9 1341,693.4 1342,693.2 1343,693.6 1344,691.9 1345,693 1346,693.1 1347,694.5 1348,692.1 1349,694.4 1350,695.1 1351,693.6 1352,693.3 1353,695.7 1354,694.8 1355,695.8 1356,695.6 1357,696.1 1358,695 1359,693.2 1360,696.1 1361,695 1362,696.5 1363,695.5 1364,697.8 1365,696.1 1366,697.4 1367,697.8 1368,696.8 1369,697.4 1370,697.2 1371,696.4 1372,699.1 1373,696.8 1374,696.3 1375,697.6 1376,698.4 1377,698.5 1378,698.3 1379,698.4 1380,696.8 1381,699.9 1382,701.2 1383,698.8 1384,697.9 1385,700.7 1386,700 1387,696.3 1388,699.8 1389,699.2 1390,699.7 1391,703.2 1392,702.3 1393,701.3 1394,701.7 1395,703.5 1396,700.9 1397,703 1398,701.8 1399,703.5 1400,703 1401,702.2 1402,704.3 1403,703.9 1404,705.4 1405,703.3 1406,704 1407,703.3 1408,705.5 1409,703.6 1410,704.5 1411,706.1 1412,705.4 1413,705.3 1414,705.5 1415,705.7 1416,706.2 1417,705.3 1418,703.8 1419,707.3 1420,705 1421,708.1 1422,706.7 1423,709.8 1424,707.9 1425,707.2 1426,707.9 1427,705.6 1428,707.4 1429,706.9 1430,707.5 1431,705.5 1432,705.4 1433,708.6 1434,708 1435,707.6 1436,708.1 1437,707.6 1438,707.9 1439,709.3 1440,708.4 1441,709.5 1442,708.2 1443,707.2 1444,708.5 1445,709.1 1446,708.2 1447,709.1 1448,709.1 1449,710.7 1450,710.7 1451,711.1 1452,709.3 1453,710.5 1454,711.6 1455,710.6 1456,710.4 1457,709.8 1458,711.6 1459,711 1460,712 1461,710.9 1462,713.3 1463,711.3 1464,710.1 1465,711.7 1466,712.1 1467,713.1 1468,711.3 1469,711.4 1470,711.8 1471,711.8 1472,710.1 1473,713.1 1474,713.8 1475,711.8 1476,711.7 1477,712.7 1478,712.1 1479,713.9 1480,712.5 1481,713.9 1482,712.1 1483,712 1484,712 1485,712.2 1486,714.2 1487,714.8 1488,714.1 1489,714.3 1490,711.9 1491,715.4 1492,713.1 1493,715.8 1494,717.1 1495,714.8 1496,715.4 1497,715.5 1498,713.6 1499,713.9 1500,714.5 1501,715.4 1502,716.3 1503,715.6 1504,716.7 1505,715.2 1506,714.3 1507,715.9 1508,715.9 1509,714.6 1510,717.2 1511,715.3 1512,715.6 1513,716.7 1514,715.5 1515,717.3 1516,717.2 1517,717.3 1518,717 1519,716.6 1520,716.4 1521,717.6 1522,718.8 1523,718.3 1524,717.9 1525,718.7 1526,719.1 1527,716.6 1528,717.9 1529,719.3 1530,717.5 1531,717.8 1532,719 1533,718.3 1534,719.8 1535,718.4 1536,719.4 1537,721.5 1538,720.2 1539,717.7 1540,718.2 1541,718.3 1542,719.4 1543,718.1 1544,720.2 1545,721.5 1546,721.5 1547,719.2 1548,719.8 1549,719.9 1550,719.4 1551,722.1 1552,719.8 1553,719.4 1554,721 1555,721.1 1556,722.4 1557,722.6 1558,720.9 1559,719 1560,722 1561,722.2 1562,723.3 1563,720 1564,720.5 1565,723.4 1566,723.5 1567,723.3 1568,722 1569,723.5 1570,721.7 1571,721 1572,722.3 1573,722.6 1574,723.4 1575,723.8 1576,720.9 1577,723.1 1578,723.4 1579,721.7 1580,722.8 1581,723.2 1582,723.7 1583,722.4 1584,722.8 1585,722.3 1586,723.9 1587,723.3 1588,723.1 1589,724.4 1590,723.7 1591,722.7 1592,725.2 1593,725.1 1594,724.6 1595,723.2 1596,725.4 1597,723.8 1598,722.6 1599,724.4 1600,726.4 1601,724.2 1602,725.4 1603,726.2 1604,725.1 1605,724.6 1606,725.1 1607,725.7 1608,724.7 1609,725.6 1610,725.9 1611,725 1612,726.2 1613,726.1 1614,725.3 1615,725.5 1616,725.8 1617,725.6 1618,725.7 1619,724.9 1620,726.1 1621,726.8 1622,726.8 1623,725.4 1624,726.8 1625,726.9 1626,725.5 1627,727 1628,726.4 1629,726.2 1630,726.9 1631,726.5 1632,724.5 1633,727.1 1634,725.8 1635,726.9 1636,727.7 1637,726.9 1638,726.7 1639,727.4 1640,727.8 1641,726.5 1642,726.8 1643,728 1644,729.1 1645,727.6 1646,728.5 1647,727 1648,727.8 1649,727.9 1650,726.6 1651,728 1652,727.9 1653,725.5 1654,728.1 1655,728.5 1656,728.5 1657,728.7 1658,727.3 1659,727.7 1660,728.3 1661,727.7 1662,728.2 1663,729.9 1664,727.9 1665,728.5 1666,730.7 1667,728.8 1668,728 1669,729.3 1670,729.3 1671,729.3 1672,727.6 1673,729.6 1674,729.7 1675,731.5 1676,730.2 1677,729.1 1678,729.9 1679,730.3 1680,729.6 1681,729.8 1682,731.2 1683,730.4 1684,730.5 1685,729.1 1686,730.5 1687,728.3 1688,731.5 1689,729.8 1690,731 1691,731.8 1692,729.4 1693,731.7 1694,730.8 1695,731.8 1696,730.4 1697,730.1 1698,732.1 1699,731.3 1700,731 1701,729.9 1702,732.4 1703,730.8 1704,731 1705,730.5 1706,731.3 1707,731.9 1708,731.3 1709,731.4 1710,730.9 1711,733 1712,733.2 1713,731.4 1714,730.8 1715,732 1716,730.2 1717,732.1 1718,732.2 1719,732.1 1720,733.6 1721,733.9 1722,732.6 1723,731.8 1724,733.2 1725,733.4 1726,731.2 1727,731.7 1728,732.2 1729,730.9 1730,731.5 1731,734.2 1732,731.4 1733,733.5 1734,732 1735,733.8 1736,733.2 1737,733.8 1738,731.6 1739,733.3 1740,732.5 1741,733.9 1742,733.9 1743,733.4 1744,733.2 1745,733.4 1746,733.7 1747,733 1748,733.1 1749,733 1750,732.6 1751,734.7 1752,732.4 1753,735.1 1754,734.6 1755,732.2 1756,732.2 1757,734 1758,733 1759,734.3 1760,735.1 1761,734.6 1762,734.1 1763,734.2 1764,735.9 1765,734.1 1766,736.2 1767,736.6 1768,734.3 1769,735 1770,736.4 1771,734.1 1772,735.3 1773,736 1774,734 1775,735.4 1776,735.2 1777,734.6 1778,736.7 1779,735.1 1780,737.5 1781,736.1 1782,734.7 1783,735.7 1784,734.8 1785,736.4 1786,736.3 1787,734.5 1788,735.3 1789,736.2 1790,735.9 1791,734.9 1792,737 1793,737.3 1794,734.6 1795,737.5 1796,734.1 1797,736 1798,735.6 1799,735.7 1800,736.5 1801,735.2 1802,736.3 1803,738.1 1804,736.9 1805,738 1806,737.4 1807,735 1808,738.4 1809,737.6 1810,737.4 1811,736.4 1812,736.3 1813,735.9 1814,736.8 1815,737.1 1816,736.9 1817,736.9 1818,735.2 1819,736.4 1820,736.4 1821,737.5 1822,736.8 1823,736.9 1824,737.4 1825,736.9 1826,737.1 1827,738.5 1828,737.3 1829,736.6 1830,738.1 1831,738.4 1832,738.2 1833,736.4 1834,738.6 1835,737.8 1836,737.9 1837,737.9 1838,738.3 1839,738.3 1840,739.3 1841,738.2 1842,737.9 1843,738.6 1844,737.9 1845,739.1 1846,738.3 1847,738.9 1848,737.7 1849,739.2 1850,738.9 1851,737.5 1852,737.9 1853,738.4 1854,737.1 1855,737.4 1856,738.9 1857,739 1858,739.8 1859,737.3 1860,738.2 1861,736.6 1862,740.3 1863,737.4 1864,738.4 1865,740.6 1866,740.1 1867,737.9 1868,741 1869,739.2 1870,737.8 1871,739.1 1872,739.5 1873,739.5 1874,736.9 1875,740.7 1876,737.4 1877,738.8 1878,740.4 1879,739.4 1880,739 1881,738.5 1882,739.7 1883,740.5 1884,738.6 1885,739.6 1886,738.9 1887,738.8 1888,737.3 1889,739.6 1890,740.2 1891,739.2 1892,740.4 1893,739.6 1894,740.6 1895,739.6 1896,739.1 1897,739 1898,739.6 1899,739.8 1900,738.8" fill="none" stroke="#1818e0" stroke-width="2.9" stroke-linejoin="round" stroke-linecap="round"/><path d="M286,859.3 287,858.4 288,859 289,859.2 290,859.5 291,858.2 292,857.2 293,856.7 294,857.7 295,858.1 296,856.5 297,854.8 298,854.7 299,856.6 300,855 301,852.9 302,854 303,852.7 304,852.8 305,852.5 306,852 307,852.8 308,851.9 309,851 310,851.6 311,851.6 312,849 313,849.9 314,848.9 315,849.3 316,847.9 317,848.8 318,848.4 319,847.8 320,846.8 321,847 322,846 323,845.5 324,846.5 325,845 326,846.7 327,846 328,843.2 329,844.9 330,843.4 331,844.1 332,843.8 333,841.7 334,842.9 335,842.6 336,843.4 337,841.2 338,842.6 339,840.7 340,841.1 341,840.3 342,842.1 343,841 344,842.4 345,840.5 346,840.3 347,840 348,838.4 349,838.6 350,839.6 351,837.7 352,837.9 353,837.4 354,837.6 355,836.4 356,836.2 357,836.3 358,835.8 359,834.5 360,835.8 361,833.4 362,833.1 363,832.6 364,834.3 365,832.7 366,831.7 367,831.1 368,832.1 369,830.3 370,829.6 371,830.8 372,828.7 373,829 374,828.8 375,827.9 376,827.8 377,828.5 378,826.3 379,825.2 380,824.1 381,825 382,824.4 383,824.4 384,823.2 385,822.7 386,821.9 387,821.5 388,821.6 389,820.6 390,820.5 391,821.5 392,819.7 393,817.3 394,819.7 395,818 396,816.3 397,817.4 398,816.1 399,815 400,814.4 401,813.6 402,814 403,814.4 404,812.6 405,812.7 406,813.5 407,810.1 408,810.9 409,809.9 410,808.6 411,808.1 412,808.4 413,808.3 414,806.8 415,806.8 416,806.8 417,805.9 418,805.9 419,804.9 420,804.4 421,805.1 422,803.4 423,802.4 424,802.4 425,800.4 426,800.4 427,800.9 428,800.2 429,800.5 430,798.6 431,796.8 432,799.3 433,798.1 434,795.7 435,797.4 436,795.7 437,793.6 438,794.4 439,793.9 440,795.4 441,792.8 442,793 443,792.6 444,792.1 445,791.2 446,791.9 447,792.3 448,791.4 449,789.6 450,789 451,789.6 452,788.4 453,788 454,786.5 455,789.2 456,787.8 457,785.5 458,786.6 459,786.5 460,782.5 461,783.6 462,783.1 463,783.4 464,782.1 465,781.4 466,780.9 467,782 468,781.6 469,778.5 470,777.5 471,780.1 472,776.1 473,775.8 474,775.6 475,775.3 476,775 477,773.7 478,771.9 479,772.3 480,771.4 481,772.1 482,769.6 483,767.6 484,767.1 485,768.5 486,766 487,763.8 488,764.3 489,764 490,764.3 491,761.5 492,762.2 493,761.5 494,759.3 495,759 496,759.9 497,759 498,757.4 499,756.1 500,756 501,754.1 502,753.3 503,751.8 504,751.7 505,750.8 506,752.6 507,749.1 508,749.6 509,748.9 510,746.7 511,747.1 512,743.3 513,744.5 514,744.4 515,740.7 516,741 517,742.2 518,740.2 519,738.6 520,738.4 521,737.4 522,737.7 523,736.6 524,735.1 525,733.9 526,733.6 527,734 528,732.2 529,731.6 530,730 531,728.1 532,727.7 533,728 534,726.6 535,724.7 536,723.2 537,723.8 538,722.4 539,721.4 540,720.4 541,720 542,718.9 543,718.5 544,717.4 545,716.7 546,715.2 547,713.1 548,712.2 549,711.6 550,709.7 551,709.3 552,708.7 553,705.7 554,703.6 555,705 556,702.7 557,702 558,698.9 559,700.3 560,698 561,695.9 562,694.3 563,693.3 564,691.6 565,690 566,687.8 567,688.4 568,685.7 569,684.3 570,682.7 571,679 572,680 573,677.6 574,676 575,674.6 576,672 577,672 578,668.9 579,667 580,665.3 581,664.4 582,663.2 583,660.2 584,657.6 585,658.1 586,654.3 587,654.5 588,651.5 589,649 590,647.1 591,646 592,644.3 593,641.2 594,640 595,638.8 596,634.5 597,631.3 598,629.1 599,626.4 600,624.7 601,622.2 602,619.2 603,618.5 604,613.2 605,611.9 606,612.5 607,609.2 608,606.3 609,603.8 610,602.5 611,599 612,596.2 613,592.7 614,591.4 615,588.5 616,586.1 617,583.8 618,582 619,579.4 620,578.1 621,573.8 622,572.4 623,571.9 624,567.9 625,566.5 626,564.1 627,561.9 628,558.9 629,554.6 630,553.2 631,550.7 632,547.2 633,545.7 634,542.5 635,539.7 636,538.9 637,536.2 638,533.1 639,530.4 640,528.2 641,525.7 642,523.1 643,520.8 644,517.9 645,516 646,513.4 647,510.6 648,507 649,504.4 650,502.7 651,499.4 652,496.9 653,492 654,489.2 655,489.3 656,486.7 657,485.1 658,481.9 659,478.9 660,476.2 661,472.4 662,472 663,468.2 664,466.7 665,463.8 666,461.2 667,459 668,455 669,452.4 670,449.3 671,447 672,446.3 673,442 674,441.1 675,438.6 676,436.5 677,434.7 678,431.5 679,431.4 680,431.4 681,428.4 682,428.1 683,426.7 684,426.7 685,424.6 686,426.2 687,423.6 688,421.8 689,424 690,422.6 691,421.5 692,420.9 693,419.5 694,419 695,419.3 696,419 697,418.6 698,417.6 699,416.6 700,416.5 701,417.5 702,417.6 703,415.8 704,415.6 705,417.1 706,416.7 707,416.8 708,415.3 709,416.5 710,416.8 711,418 712,416.9 713,420.2 714,420.1 715,421 716,420.4 717,422.3 718,424.4 719,422.7 720,425.4 721,426.7 722,426.4 723,428.8 724,428.7 725,431.1 726,431.5 727,432.3 728,435.1 729,435.3 730,437.1 731,436.2 732,438.2 733,441 734,442.7 735,443.4 736,445.8 737,445.9 738,448.8 739,449.3 740,452.4 741,453.5 742,455.2 743,457.6 744,461 745,460.3 746,462.4 747,465.7 748,466.2 749,469.9 750,470.2 751,471.8 752,473.7 753,476.7 754,477.4 755,479.1 756,480.6 757,480.7 758,483 759,486.9 760,488.1 761,489.6 762,491.5 763,492.3 764,494.9 765,495.6 766,498.6 767,499.4 768,501.7 769,504.2 770,505.3 771,508.1 772,509.8 773,511.5 774,514.3 775,513.7 776,515.5 777,519.4 778,521.7 779,524.7 780,525.6 781,527.8 782,528.4 783,531.9 784,534 785,534.6 786,536.8 787,539.7 788,542.2 789,541.4 790,546.2 791,548.4 792,550 793,552.4 794,554.6 795,555.2 796,558.4 797,559.6 798,560.8 799,563.5 800,566.3 801,565.3 802,566.7 803,568.3 804,573.1 805,572.6 806,574.3 807,575.1 808,576.4 809,576.8 810,580.2 811,581.7 812,581.1 813,583.3 814,584.9 815,586.9 816,588.4 817,590.5 818,592.1 819,593.1 820,594.6 821,593.6 822,595.4 823,598.2 824,598.7 825,599.7 826,599.1 827,600.4 828,604 829,604.9 830,605.5 831,606.6 832,606.7 833,609.8 834,611.6 835,613.3 836,613.1 837,614.1 838,614.5 839,617.8 840,619.4 841,618.5 842,620.4 843,621.4 844,622 845,621.4 846,624.4 847,626.4 848,625.6 849,627.2 850,626.1 851,631.2 852,631.6 853,632.1 854,632.8 855,633.5 856,634.9 857,635.6 858,636.6 859,637.7 860,638.7 861,640.8 862,639 863,641.3 864,641.3 865,641.7 866,641.3 867,644.8 868,644.1 869,645.1 870,647 871,646.3 872,648.1 873,648.8 874,650.3 875,651.2 876,650.3 877,652.7 878,652.5 879,653.5 880,654 881,655.7 882,654.7 883,656.9 884,658.5 885,658 886,661 887,659.3 888,661 889,661.3 890,662 891,662.4 892,663.8 893,665.1 894,665.3 895,667.6 896,669 897,667.1 898,670 899,670.2 900,671 901,673.8 902,673.4 903,673.3 904,673.9 905,672.4 906,675.7 907,674.9 908,676.3 909,676.8 910,678.2 911,679.7 912,679.2 913,680 914,679.1 915,680.2 916,681 917,679.5 918,683.1 919,681.1 920,681 921,684.1 922,685 923,682.9 924,683.4 925,687.3 926,685 927,683.6 928,685.4 929,688.2 930,687.6 931,688.2 932,689.2 933,689.2 934,688.9 935,688.3 936,690.8 937,690 938,691.5 939,693.8 940,693.3 941,693.5 942,694.1 943,695.3 944,696.1 945,694.8 946,696.7 947,698.7 948,698.5 949,697.7 950,698.4 951,697.8 952,699.5 953,702.3 954,701.3 955,701.2 956,702 957,702.9 958,703.5 959,703.8 960,703.9 961,705.7 962,707 963,705.7 964,706.2 965,708.2 966,706.3 967,707.6 968,708.3 969,709.3 970,709.4 971,709.3 972,710.9 973,710 974,710 975,710.2 976,713.2 977,711.5 978,713.9 979,714.6 980,715.2 981,714.8 982,715 983,716.1 984,716 985,715.9 986,718.7 987,717.3 988,720.3 989,719.7 990,719.4 991,720.7 992,721.9 993,720.1 994,721.1 995,721.5 996,723.1 997,723.8 998,724 999,723.8 1000,724.5 1001,726.5 1002,726.9 1003,726.4 1004,725.5 1005,727.7 1006,727.8 1007,728.1 1008,729.8 1009,729.3 1010,728 1011,728.3 1012,730.8 1013,730 1014,730.9 1015,730.3 1016,729.8 1017,731.2 1018,732.7 1019,731.8 1020,730.8 1021,731.8 1022,731.9 1023,732.8 1024,733.8 1025,735 1026,733.7 1027,733.4 1028,734.2 1029,734.4 1030,734.4 1031,735.1 1032,735.4 1033,734.7 1034,736.7 1035,736.2 1036,736.1 1037,737.8 1038,737.4 1039,739.8 1040,739.1 1041,739.1 1042,738.8 1043,739.6 1044,741.1 1045,740.2 1046,741.9 1047,739.8 1048,742.3 1049,743.2 1050,743.2 1051,743.3 1052,744.6 1053,743.3 1054,743.5 1055,744.8 1056,746.1 1057,745.8 1058,745.5 1059,746.3 1060,746.7 1061,745.5 1062,744.4 1063,746.3 1064,746.2 1065,747.3 1066,747 1067,747.6 1068,749.1 1069,749 1070,749.2 1071,751 1072,749.4 1073,749.7 1074,751.5 1075,749.6 1076,749.4 1077,752.3 1078,751.7 1079,752.2 1080,752.5 1081,753 1082,752 1083,752.6 1084,751.9 1085,753.2 1086,753.6 1087,753.2 1088,754.4 1089,756.7 1090,753.3 1091,755.3 1092,755.6 1093,755.9 1094,754.5 1095,756.5 1096,756.2 1097,755.7 1098,755.7 1099,756.5 1100,757.3 1101,757.5 1102,758.9 1103,756.7 1104,757.8 1105,757.1 1106,758.3 1107,757.9 1108,757.5 1109,757 1110,757.7 1111,758.8 1112,760.1 1113,759.6 1114,758 1115,758.8 1116,759.5 1117,759.5 1118,759.8 1119,760.6 1120,760.2 1121,759.6 1122,758.6 1123,760.2 1124,759.1 1125,760.7 1126,761.2 1127,759.9 1128,761.1 1129,761.1 1130,763.2 1131,762.1 1132,760.1 1133,762.3 1134,762.5 1135,762 1136,762 1137,763 1138,763.2 1139,763.2 1140,762 1141,762.8 1142,761.8 1143,761.9 1144,762.9 1145,762.6 1146,763.3 1147,766 1148,764.4 1149,763.3 1150,762.2 1151,763.5 1152,763.1 1153,762.6 1154,765.3 1155,764.3 1156,765.3 1157,767.8 1158,765.4 1159,765.3 1160,765.7 1161,765.2 1162,764.8 1163,765.5 1164,766.8 1165,765.7 1166,764.8 1167,765 1168,765.3 1169,766.3 1170,766.9 1171,767 1172,767.7 1173,766.5 1174,767.6 1175,767.2 1176,767.7 1177,765.5 1178,768.4 1179,766 1180,766.4 1181,768.2 1182,767.3 1183,769.3 1184,768 1185,767 1186,768.2 1187,767.8 1188,769.6 1189,769.8 1190,769.1 1191,768.1 1192,768.7 1193,769.6 1194,768.1 1195,768.2 1196,769.7 1197,769.7 1198,769 1199,769 1200,767.6 1201,770.5 1202,769.5 1203,768.4 1204,768.8 1205,769.1 1206,771.5 1207,770.7 1208,769 1209,772 1210,771.6 1211,769.6 1212,768.2 1213,771.6 1214,770.3 1215,770.8 1216,770.6 1217,772.3 1218,772.6 1219,772.1 1220,771.4 1221,771.8 1222,772.3 1223,770.4 1224,773 1225,771.7 1226,772.4 1227,772.4 1228,773.2 1229,773.4 1230,774.6 1231,772.4 1232,772 1233,773 1234,772.4 1235,773.9 1236,772.5 1237,773.5 1238,774.3 1239,774.5 1240,773.9 1241,775.1 1242,775.1 1243,772.6 1244,774.5 1245,774.5 1246,774.2 1247,774 1248,774.7 1249,775.2 1250,775.2 1251,776.3 1252,776.1 1253,774.8 1254,774.8 1255,776.4 1256,775.1 1257,776 1258,776.4 1259,777.1 1260,776.7 1261,777.7 1262,776.1 1263,777.3 1264,776.2 1265,777.2 1266,777.3 1267,776.5 1268,775.1 1269,778.5 1270,778.1 1271,778 1272,777.4 1273,777.9 1274,778.8 1275,778.6 1276,779.8 1277,779 1278,778.3 1279,779.8 1280,778.8 1281,779.8 1282,778.1 1283,779.6 1284,780.6 1285,779.7 1286,780.4 1287,781.1 1288,780.8 1289,782.5 1290,780.9 1291,781.1 1292,781.3 1293,779.8 1294,780.4 1295,782.4 1296,781.8 1297,783.5 1298,782.4 1299,782.5 1300,783.7 1301,783.2 1302,784.6 1303,782.3 1304,783.8 1305,784.2 1306,784.3 1307,785 1308,785 1309,784.3 1310,783.9 1311,785.4 1312,784.7 1313,785.7 1314,786.2 1315,785.3 1316,784.5 1317,785.2 1318,786.3 1319,785.5 1320,786.9 1321,786 1322,786.3 1323,785.7 1324,786.3 1325,787.5 1326,786.4 1327,786.5 1328,786.3 1329,787.8 1330,785.8 1331,786.8 1332,788.3 1333,788.9 1334,787.5 1335,788.7 1336,786.2 1337,788.8 1338,788.5 1339,787.3 1340,786.9 1341,788.2 1342,789 1343,789.2 1344,789.1 1345,789.9 1346,789.9 1347,788.2 1348,789.2 1349,789.3 1350,790.8 1351,789.6 1352,791 1353,790.4 1354,792.5 1355,790.5 1356,790.7 1357,790.7 1358,791.1 1359,793.3 1360,790.8 1361,790.6 1362,791.4 1363,792.3 1364,791 1365,792.8 1366,792.9 1367,792.2 1368,792.3 1369,792 1370,792.6 1371,792.3 1372,794.3 1373,794.8 1374,793.3 1375,793.7 1376,792.2 1377,793.6 1378,794.5 1379,794.6 1380,794.7 1381,795.5 1382,795 1383,794.8 1384,796.7 1385,793.8 1386,794.6 1387,795.2 1388,795.4 1389,795.5 1390,796.2 1391,796 1392,796.7 1393,797.5 1394,797.2 1395,797.5 1396,796.7 1397,796.7 1398,797.6 1399,798.9 1400,798.6 1401,799.4 1402,799.5 1403,799.9 1404,798.3 1405,800.3 1406,800.1 1407,801.4 1408,800.3 1409,800.2 1410,800 1411,800.5 1412,799 1413,800.4 1414,800.8 1415,801.9 1416,800.6 1417,801.5 1418,803.2 1419,801.2 1420,802.6 1421,801.6 1422,802.1 1423,802.8 1424,803.3 1425,802.3 1426,802 1427,804.4 1428,803.4 1429,804.1 1430,804.4 1431,804.4 1432,803.7 1433,804 1434,802.9 1435,804.6 1436,804.2 1437,804.7 1438,806.6 1439,805.7 1440,805.3 1441,804.2 1442,806.2 1443,807.1 1444,805.2 1445,806.4 1446,805.8 1447,806.3 1448,806.2 1449,805.3 1450,806.4 1451,805.6 1452,808.4 1453,808.3 1454,807.5 1455,807.9 1456,807.9 1457,808.2 1458,808.3 1459,808.1 1460,808.3 1461,807.4 1462,807.8 1463,808.3 1464,809.2 1465,808.8 1466,811 1467,809.3 1468,809.3 1469,810.1 1470,810.8 1471,811.7 1472,811 1473,809.8 1474,810.3 1475,811.5 1476,810.9 1477,811.6 1478,810.9 1479,812.5 1480,812.5 1481,812.4 1482,811.7 1483,810.2 1484,810.6 1485,812.2 1486,812.6 1487,809.6 1488,811.9 1489,813.4 1490,813.4 1491,812.2 1492,813.3 1493,812.9 1494,812.8 1495,814.1 1496,814.3 1497,812.9 1498,812.7 1499,812.5 1500,812.5 1501,815 1502,815.6 1503,814.3 1504,815.1 1505,813.7 1506,814.4 1507,815.4 1508,814.9 1509,814.8 1510,813.4 1511,813.7 1512,814.8 1513,814.8 1514,815.3 1515,814.9 1516,815.4 1517,815.7 1518,816.3 1519,816 1520,815.5 1521,815.9 1522,817 1523,816.2 1524,815.6 1525,815.7 1526,816.9 1527,817.3 1528,818 1529,816.7 1530,818.3 1531,816.9 1532,817.1 1533,816.9 1534,818 1535,818.6 1536,817.7 1537,817.4 1538,816.6 1539,818.2 1540,817.9 1541,818.1 1542,817.8 1543,817.7 1544,818.2 1545,819.1 1546,819.7 1547,818.9 1548,819.3 1549,819 1550,819.1 1551,818.1 1552,820.2 1553,820.1 1554,820.9 1555,819.2 1556,819.9 1557,819.1 1558,820.2 1559,820 1560,820.8 1561,820.2 1562,821 1563,820.1 1564,821.1 1565,820.5 1566,820.4 1567,821 1568,821.3 1569,819.9 1570,819.9 1571,821.5 1572,821.3 1573,819.7 1574,820.1 1575,821 1576,822 1577,822 1578,822.8 1579,823.1 1580,824.2 1581,821 1582,822.3 1583,823.3 1584,821.4 1585,821.3 1586,822.8 1587,823.7 1588,823.9 1589,821.3 1590,821.9 1591,823 1592,822.7 1593,823.5 1594,823.4 1595,824.9 1596,823.4 1597,823.7 1598,823.7 1599,824.7 1600,822.8 1601,824.2 1602,823.3 1603,822.8 1604,825.1 1605,824.6 1606,825.5 1607,824.6 1608,825 1609,824.6 1610,825.1 1611,824.3 1612,826.2 1613,824 1614,826.4 1615,824.8 1616,825.8 1617,825.2 1618,825.6 1619,826.6 1620,825.5 1621,824.6 1622,825.7 1623,826.1 1624,823.5 1625,826.6 1626,826.8 1627,824.3 1628,825.8 1629,826.7 1630,825.1 1631,825.8 1632,825.9 1633,826.8 1634,827.4 1635,826.4 1636,826.6 1637,827.4 1638,827.2 1639,826.7 1640,828 1641,825.7 1642,827.1 1643,826.7 1644,826.7 1645,827.4 1646,827.3 1647,829.6 1648,828 1649,827.9 1650,829.1 1651,828.6 1652,826.1 1653,828 1654,828.6 1655,827.5 1656,828.4 1657,827.8 1658,828.6 1659,826.9 1660,826.7 1661,828.1 1662,828.8 1663,829.9 1664,828.6 1665,828.2 1666,829.8 1667,829.1 1668,830.8 1669,829.2 1670,827.6 1671,828.7 1672,828.7 1673,828.4 1674,829 1675,829.2 1676,829.6 1677,829.5 1678,830.4 1679,830.5 1680,830.4 1681,830.5 1682,828.7 1683,829 1684,829.8 1685,830.9 1686,829.5 1687,830.5 1688,831.2 1689,832.8 1690,831.3 1691,830.7 1692,832.3 1693,831.6 1694,831.2 1695,832.5 1696,830.8 1697,831.9 1698,831.9 1699,832.7 1700,830.9 1701,830.9 1702,831.8 1703,832 1704,832.3 1705,832 1706,832.8 1707,833.1 1708,832.8 1709,831.7 1710,833.8 1711,831.4 1712,832.7 1713,833.7 1714,832.5 1715,834.2 1716,834.9 1717,834.6 1718,833.7 1719,834.2 1720,833 1721,833.8 1722,834 1723,833.7 1724,833.8 1725,833.5 1726,832 1727,834.2 1728,834.2 1729,835.8 1730,834.6 1731,834.1 1732,834.9 1733,834.7 1734,834.2 1735,833.9 1736,833 1737,834.4 1738,835.8 1739,832.7 1740,833.6 1741,835.2 1742,834.7 1743,835 1744,833 1745,834.1 1746,835.2 1747,835.3 1748,835.1 1749,834 1750,835.4 1751,833.8 1752,834.1 1753,833.9 1754,836.3 1755,834.7 1756,835.2 1757,833.2 1758,836.2 1759,835.6 1760,833.8 1761,833.8 1762,836.8 1763,834.5 1764,837 1765,835 1766,833.2 1767,836.5 1768,836 1769,836.2 1770,835.1 1771,835.4 1772,836.5 1773,835 1774,834 1775,836.6 1776,835.2 1777,837 1778,835.4 1779,835.5 1780,835.7 1781,833.8 1782,837 1783,835.4 1784,835.9 1785,837.4 1786,836.2 1787,836.9 1788,836.5 1789,836.9 1790,836.5 1791,837.3 1792,836.1 1793,836.7 1794,835.7 1795,837.4 1796,834.4 1797,836.6 1798,836.8 1799,836.8 1800,836.5 1801,837.8 1802,838.5 1803,836.1 1804,834.9 1805,835.7 1806,836 1807,836.6 1808,836.7 1809,837.8 1810,836.4 1811,836.8 1812,837 1813,836.1 1814,836.7 1815,839.5 1816,836.9 1817,836.2 1818,835.1 1819,838 1820,836.9 1821,836.6 1822,839.4 1823,838.5 1824,835.7 1825,837 1826,838.2 1827,838.1 1828,836.4 1829,839.1 1830,839.2 1831,836.5 1832,836 1833,836.3 1834,838.2 1835,838.6 1836,837.9 1837,837.2 1838,837.7 1839,838.3 1840,836.7 1841,836.3 1842,837.8 1843,839.1 1844,838.1 1845,838.2 1846,837.4 1847,838.9 1848,836.6 1849,838.1 1850,837.7 1851,838.1 1852,837.4 1853,839 1854,838.3 1855,837.8 1856,838.9 1857,838.4 1858,838 1859,838 1860,839.2 1861,837.7 1862,838.4 1863,838.4 1864,839 1865,838.5 1866,840.7 1867,837.2 1868,839.4 1869,838.8 1870,839.9 1871,837.5 1872,840.1 1873,837.8 1874,839.7 1875,839.5 1876,839.1 1877,838.5 1878,838.4 1879,839.3 1880,838.6 1881,837.5 1882,837.7 1883,840.1 1884,840.1 1885,839.9 1886,839.5 1887,839.8 1888,840 1889,839.8 1890,838.9 1891,839 1892,838.6 1893,839.9 1894,838.9 1895,839.7 1896,841 1897,839.5 1898,840.8 1899,841.3 1900,838.3" fill="none" stroke="#c2c2c2" stroke-width="2.6" stroke-linejoin="round" stroke-linecap="round"/><path d="M286,962.9 286.7,963.4 287.4,959.4 288.1,961.4 288.8,962.2 289.5,962.4 290.2,961.6 290.9,962.2 291.6,960.9 292.3,961 293,960.5 293.7,959.2 294.4,959.2 295.1,960.1 295.8,959.1 296.5,960.6 297.2,960.4 297.9,960.7 298.6,958.9 299.3,960 300,957.8 300.7,957.7 301.4,958.3 302.1,958.3 302.8,956.5 303.5,956.2 304.2,957.9 304.9,956.6 305.6,958.3 306.3,957.4 307,957.2 307.7,956.9 308.4,957.3 309.1,956.2 309.8,957.2 310.5,955.6 311.2,955.7 311.9,955.1 312.6,956.1 313.3,955.4 314,954.4 314.7,956.8 315.4,954.5 316.1,954.6 316.8,954.9 317.5,955.9 318.2,954 318.9,954.6 319.6,953.9 320.3,952.3 321,954.2 321.7,954.2 322.4,952.9 323.1,952.9 323.8,951.4 324.5,951.3 325,952.1 325.2,953 325.9,951.8 326.6,952.3 327.3,952.7 328,951.7 328.7,951.9 329.4,952.5 330.1,949.8 330.8,951.4 331.5,948.8 332.2,950.7 332.9,950.3 333.6,949.4 334.3,948.7 335,949.4 335.7,948.8 336.4,949.1 337.1,948 337.8,949.1 338.5,947.4 339.2,947.9 339.9,947.6 340.6,948.9 341.3,946.2 342,946.9 342.7,948.1 343.4,946.3 344.1,945.5 344.8,946.7 345.5,946 346.2,946.7 346.9,945 347.6,945.7 348.3,946 349,946.1 349.7,943.9 350.4,946 351.1,943.7 351.8,942.9 352.5,943.2 353.2,944 353.9,943.3 354.6,943.8 355.3,943.7 356,943.3 356.7,942.5 357.4,944.2 358.1,940.4 358.8,940.6 359.5,941.5 360.2,940.6 360.9,939.2 361.6,940.6 362.3,940.4 362.5,938.8 363,941.6 363.7,941.7 364.4,941.4 365.1,939.6 365.8,939.9 366.5,938.5 367.2,939.5 367.9,938.4 368.6,939.2 369.3,938.2 370,939.2 370.7,938.8 371.4,938.9 372.1,936.1 372.8,935.6 373.5,937.4 374.2,936.2 374.9,936.8 375.6,936.5 376.3,936.1 377,936.6 377.7,936 378.4,935.6 379.1,934.2 379.8,936.3 380.5,934.6 381.2,935.2 381.9,934.2 382.6,934.8 383.3,933.6 384,933.4 384.7,933.1 385.4,932 386.1,931.9 386.8,932 387.5,931.8 388.2,930.8 388.9,933.5 389.6,930.3 390,930.7 390.3,933 391,929.9 391.7,930.8 392.4,930.3 393.1,929.1 393.8,927.6 394.5,927.1 395.2,928.1 395.9,928.1 396.6,925.4 397.3,927.1 398,926 398.7,927 399.4,926 400.1,924.7 400.8,924.7 401.5,924.7 402.2,925.5 402.9,926.7 403.6,923.8 404.3,923.3 405,923.4 405.7,922.4 406.4,922.6 407.1,922 407.8,921.3 408.5,920.2 409.2,920.7 409.9,920.9 410,920.2 410.6,920.6 411.3,919.2 412,917.3 412.7,918.1 413.4,914.5 414.1,915.7 414.8,915.4 415.5,912.5 416.2,911.7 416.9,911.7 417.5,911.4 417.6,910.6 418.3,911.3 419,912.7 419.7,913 420.4,912.5 421.1,914.3 421.8,915.3 422.5,914.8 423.2,917.3 423.9,917.1 424.6,919.3 425,917.8 425.3,918.1 426,917.3 426.7,919.5 427.4,919.1 428.1,919 428.8,918.7 429.5,917.8 430.2,917.5 430.9,914.9 431.6,916.4 432.3,915.3 433,915.1 433.7,914 434.4,916 435.1,914.6 435.8,912.8 436.5,914.3 437.2,913.4 437.9,912.2 438.6,912.6 439.3,911.8 440,910.1 440.7,910.5 441.4,911.9 442.1,911.5 442.8,911.1 443.5,909.4 444.2,909.6 444.9,909.9 445.6,910.1 446.3,908.4 447,907.9 447.7,909.6 448.4,908.3 449.1,907.6 449.8,906.9 450,906.9 450.5,908.5 451.2,907.4 451.9,905.5 452.6,904.2 453.3,906.2 454,905.5 454.7,904.6 455.4,903.7 456.1,900.6 456.8,900.6 457.5,901.6 458.2,900.3 458.9,900.2 459.6,898.9 460,898.4 460.3,899.6 461,898.9 461.7,899.5 462.4,899.9 463.1,900 463.8,901.1 464.5,901.4 465.2,899.2 465.9,900.3 466.6,900.2 467.3,901.6 467.5,900 468,901.4 468.7,901 469.4,900.5 470.1,898.7 470.8,899 471.5,897.8 472.2,898.8 472.9,898.9 473.6,896.3 474.3,896.5 475,896.7 475.7,896 476.4,897.4 477.1,895.6 477.8,895.6 478.5,893.9 479.2,896 479.9,894.3 480.6,894.5 481.3,893.5 482,891.1 482.7,891.2 483.4,891.1 484.1,892.3 484.8,891 485.5,891.5 486.2,891 486.9,890.6 487.5,890.8 487.6,890.1 488.3,888 489,888.4 489.7,890.1 490.4,887.2 491.1,888.9 491.8,888.7 492.5,886.3 493.2,886.7 493.9,884.6 494.6,886.2 495.3,884.3 496,883.4 496.7,883.8 497.4,883.3 498.1,882.7 498.8,882.9 499.5,882.2 500.2,881.3 500.9,882.3 501.6,883.2 502.3,880.6 503,879.4 503.7,878.7 504.4,879.7 505.1,878.5 505.8,878.3 506.5,876 507.2,876.4 507.9,875.9 508.6,877.3 509.3,875.8 510,873.4 510.7,875.6 511.4,875.7 512.1,875.4 512.5,871.5 512.8,874 513.5,874.3 514.2,873.9 514.9,872.8 515.6,871.1 516.3,872.1 517,871.9 517.7,872.4 518.4,872.2 519.1,871.1 519.8,871.8 520.5,869.8 521.2,869.9 521.9,870.2 522.6,870.5 523.3,869.4 524,870.5 524.7,869.5 525,868.1 525.4,868.8 526.1,867.4 526.8,866.8 527.5,865.8 528.2,867.8 528.9,866.8 529.6,864 530.3,865.9 531,865.3 531.7,863.5 532.4,863.8 533.1,864.8 533.8,862.5 534.5,862.1 535.2,862.2 535.9,859.7 536.6,859 537.3,858.3 538,859 538.7,859.3 539.4,857.2 540,856.3 540.1,857.4 540.8,855.2 541.5,854.4 542.2,852 542.9,850.2 543.6,848.6 544.3,847 545,844.3 545.7,842.5 546.4,843.2 547.1,842.8 547.5,840 547.8,837.7 548.5,839.4 549.2,840.6 549.9,838.3 550.6,839.5 551.3,839.7 552,839.5 552.7,839.8 553.4,841.6 554.1,840.5 554.8,840.9 555.5,842.8 556.2,840.7 556.9,840 557.6,842.5 558.3,843.9 559,842.5 559.7,842.7 560,841.4 560.4,841.2 561.1,842.6 561.8,841.6 562.5,840.2 563.2,838.2 563.9,836.9 564.6,836.2 565.3,835.3 566,836.1 566.7,834 567.4,833.5 568.1,833.7 568.8,832.9 569.5,831.5 570.2,831 570.9,829.8 571.6,827.2 572.3,828.1 573,827 573.7,826.2 574.4,825.9 575,824.5 575.1,826 575.8,823.9 576.5,823.4 577.2,822.7 577.9,821.4 578.6,821.3 579.3,820.5 580,819.6 580.7,817.5 581.4,816.5 582.1,815.9 582.8,815.6 583.5,813.1 584.2,813.2 584.9,812.1 585.6,811.7 586.3,810.6 587,811.3 587.5,810.4 587.7,810.3 588.4,806.7 589.1,805.1 589.8,803.7 590.5,803.7 591.2,801.9 591.9,798 592.6,797.3 593.3,796.8 594,792.2 594.7,791.1 595.4,790.6 596.1,788.3 596.8,784.9 597.5,785.4 598.2,783.1 598.9,781 599.6,777.4 600,777.3 600.3,778 601,775.6 601.7,774.2 602.4,771.7 603.1,771.6 603.8,768.4 604.5,767.8 605.2,765.7 605.9,762.9 606.6,763.4 607.3,759.3 607.5,759.3 608,754.1 608.7,744.3 609.4,735.6 610.1,728.7 610.8,720 611.5,711.7 612.2,704 612.5,702 612.9,701.8 613.6,708.1 614.3,709.9 615,713.4 615.7,714.9 616.4,719.7 617.1,725.1 617.8,729.2 618.5,731.7 619.2,736.5 619.9,740.8 620.6,743.3 621,744.5 621.3,744.1 622,742.6 622.7,740.9 623.4,739.2 624.1,735.4 624.8,734.1 625.5,731.6 626.2,729.7 626.9,728.5 627.6,726.5 628.3,722.7 629,720.4 629.7,718.1 630.4,716.1 631.1,714 631.8,712 632.5,709.5 632.5,709 633.2,708.1 633.9,708.4 634.6,709.8 635.3,707.3 636,706.6 636.7,705.5 637.4,704.3 638.1,705.4 638.8,702.5 639.5,701.1 640.2,700.1 640.9,700.6 641.3,699.1 641.6,698.2 642.3,695.9 643,693.2 643.7,692.2 644.4,688.2 645.1,689.5 645.8,682.6 645.9,683.5 646.5,683.3 647.2,681.9 647.9,679.5 648.6,678.3 649.3,676.4 650,674.6 650.7,673.3 651.4,671.2 652,669.4 652.1,669.3 652.8,669.6 653.5,668 654.2,668.1 654.9,668.4 655.6,666.7 656.3,666.9 657,664.8 657.3,665.2 657.7,663.2 658.4,659.1 659.1,655.5 659.8,652.5 660.5,647.1 661.2,642.9 661.2,643.8 661.9,631.5 662.6,622.1 662.7,621.7 663.3,614.2 664,607.1 664.7,599.5 665.4,592.7 665.7,588.9 666.1,587 666.8,581.1 667.5,580.9 668.2,579.2 668.9,575.7 669.6,572.4 669.6,573.9 670.3,565.5 671,559.3 671.7,553.5 672.4,545.6 673.1,539.5 673.4,536.5 673.8,533.2 674.5,529.9 675.2,526.2 675.9,522.1 676.6,519.9 677.3,515 678,510.6 678.7,506.1 678.7,507.1 679.4,520.1 680.1,530.3 680.8,542.9 681,545.9 681.5,546.3 682.2,547.5 682.9,550.5 683.6,550.2 684.3,553.8 684.9,553.7 685,555.9 685.7,557.6 686.4,560.8 687.1,564.6 687.8,565.6 687.9,567 688.5,571.3 689.2,577.4 689.9,582.9 690.6,587.9 691.3,593.2 691.7,595.7 692,595.8 692.7,593.1 693.4,591.5 694.1,589.6 694.8,586.3 695.5,584.6 695.6,585.6 696.2,577.1 696.9,568.6 697.6,555.6 698.3,548.4 698.6,545 699,538 699.7,527.9 700.4,516.5 700.9,508.8 701.1,508.4 701.8,501.7 702.5,496.2 703.2,494 703.9,489 704.6,484.4 705.3,479.9 705.5,478.8 706,484.8 706.7,495.3 707.4,504.8 708.1,513.2 708.6,521 708.8,528.6 709.5,552.6 710.1,575.6 710.2,575.7 710.9,585.5 711.6,594.9 712.3,601.1 712.4,602.5 713,605.1 713.7,605.4 714.4,607.1 715.1,609.2 715.8,608.2 716.5,610.4 717.2,610.4 717.7,610.8 717.9,612 718.6,612.5 719.3,613.9 720,613.9 720.7,615.1 721.4,615.5 722.1,614.2 722.8,616.1 723.5,616.8 723.9,618.3 724.2,618.1 724.9,622.8 725.6,625.8 726.3,628.1 726.9,632.7 727,633.5 727.7,633.5 728.4,635.6 729.1,636.1 729.8,636.9 730.5,637.1 731.2,638.4 731.5,639.3 731.9,639.2 732.6,638.5 733.3,639.9 734,640.9 734.7,642 735.4,642.2 736.1,641.1 736.8,643 737.5,641.4 738.2,642.8 738.9,643.1 739.6,645.6 740.3,645.4 740.7,645.3 741,645 741.7,647.8 742.4,647.6 743.1,649.5 743.8,651.2 744.5,651.1 745.2,653.1 745.9,652 746.6,655.4 747.3,654.6 748,657.7 748.7,658.7 749.4,660.1 749.8,662.4 750.1,657.5 750.8,658.8 751.5,656.6 752.2,656.3 752.9,654.5 753.6,652.9 754.3,651 755,649.4 755.7,649 756,646.8 756.4,650.1 757.1,650.4 757.8,653.1 758.5,653.3 759.2,656.6 759.9,657.7 760.6,660.4 761.3,662.6 762,662.7 762.7,665.1 763.4,667 764.1,669.8 764.8,669.1 765.1,671.6 765.5,670.7 766.2,669.2 766.9,669.6 767.6,668.8 768.3,669.9 769,667.6 769.7,668.9 769.7,667.6 770.4,671 771.1,671.2 771.8,674.4 772.5,677.6 773.2,679 773.9,680.8 774.6,684.6 775.3,687.6 776,689.3 776.7,691.5 777.4,694.4 777.4,693.7 778.1,691.2 778.8,687.6 779.5,681.8 780.2,680.2 780.9,676.1 781.6,672.1 782.3,668.7 783,665.7 783.7,662.4 784.4,658.5 785.1,653.1 785.8,650.8 786.5,644.4 787.2,643 787.9,639.1 788.1,638.3 788.6,640.3 789.3,647.5 790,652.5 790.7,656.6 791.4,660.3 792.1,667 792.7,670.3 792.8,670.1 793.5,674.2 794.2,680.3 794.9,680.2 795.6,684.5 796.3,688.3 797,692.3 797.7,693.9 798.4,697.2 798.8,700.8 799.1,703.5 799.8,711.9 800.5,717.3 801.2,725.9 801.9,734.4 802.5,740.1 802.6,739.1 803.3,741.3 804,740.5 804.7,742.6 805.4,745 806.1,746.2 806.8,746.8 807.5,748.1 807.5,746.1 808.2,747.1 808.9,748.8 809.6,750 810.3,748.5 811,747.5 811.7,747.6 812.4,749.7 813.1,749.8 813.8,747.9 814.5,749.2 815.2,750.5 815.9,750.7 816.6,749.1 817.3,749.6 818,750.4 818.7,749.1 819.4,748.8 820.1,749.8 820.8,751.7 821.5,751.7 822.2,751.3 822.5,749.9 822.9,748.9 823.6,749.2 824.3,749.6 825,749.9 825.7,747.6 826.4,747.9 827.1,745.7 827.8,744.8 828.5,746.1 829.2,744.5 829.9,744.1 830,742.9 830.6,744.7 831.3,741.2 832,741.7 832.7,739.2 833.4,739.1 834.1,739.5 834.8,737.4 835,737 835.5,740.4 836.2,744 836.9,748.6 837.6,749.9 838.3,756.3 839,758.9 839.7,761.8 840.4,767.1 841,770.4 841.1,770 841.8,771.5 842.5,770.2 843.2,770.6 843.9,772.3 844.6,774.5 845.3,774.7 846,774.9 846,774.3 846.7,775.8 847.4,777.8 848.1,777.1 848.8,778 849.5,779.8 850.2,780.9 850.9,781.3 851.6,783.4 852.3,783.2 853,783 853.7,782.8 854.4,786.8 855.1,786.5 855.8,787.8 856.5,788.8 857.2,790.5 857.9,791.2 858.5,791.9 858.6,791.2 859.3,790.5 860,790.7 860.7,789.5 861.4,790.3 862.1,790.7 862.8,790.2 863.5,789.4 864.2,788.2 864.9,788 865.6,787.9 866.3,787.9 867,788.4 867.7,788.2 868.4,788.1 868.5,788.4 869.1,787.2 869.8,788.5 870.5,789.8 871.2,790.7 871.9,790 872.6,790.6 873.3,792.9 874,793.1 874.7,793.5 875.4,793.5 876.1,793.5 876.8,795 877.5,795.9 878.2,796.7 878.9,797.6 879.6,797.6 880.3,799.3 881,798.5 881.7,799.7 882.4,800.1 883.1,799.1 883.5,799.8 883.8,800 884.5,799.3 885.2,798.1 885.9,797.6 886.6,795.2 887.3,793.6 888,792.8 888.7,790.1 889.4,789.7 890.1,787.7 890.8,787.3 891.5,785.3 892,784.6 892.2,787.1 892.9,787.7 893.6,790.2 894.3,789.5 895,790.5 895.7,791.2 896.4,793.2 897.1,793 897.8,795.9 898.5,796.7 899.2,797.3 899.9,798.2 900,799.2 900.6,801 901.3,803 902,803.2 902.7,806.2 903.4,808.2 904.1,811.5 904.8,811.5 905.5,813.6 906.2,813.8 906.9,816.1 907.5,816.8 907.6,816.8 908.3,818.2 909,817.9 909.7,819.7 910.4,818.6 911.1,819.3 911.8,818.1 912.5,818.6 913.2,820.4 913.9,819.4 914.6,821.5 915.3,819.9 916,820.1 916.7,822.9 917.4,819.9 918.1,821.3 918.8,822.5 919.5,822.8 920,821.5 920.2,823.7 920.9,819 921.6,815.3 922.3,815.5 923,811.9 923.7,810 924.4,808.3 925.1,804.4 925.8,802.2 926.5,800.3 927.2,798.8 927.9,794.5 928.6,794.6 929.3,791.3 930,787.5 930.7,786.2 931.4,784.3 932.1,782.5 932.8,779.8 933.5,777.7 933.7,775.9 934.2,779.3 934.9,780 935.6,787.1 936.3,789.9 937,795.1 937.7,796.8 938.4,800.7 939.1,804.9 939.8,809.3 940.5,812.6 941,815.9 941.2,815.3 941.9,817 942.6,819.5 943.3,818.9 944,819.2 944.7,818.2 945.4,821 946.1,822.2 946.8,821.9 947.5,823.9 948.2,821.9 948.9,824.1 949.6,824.7 950,826.5 950.3,825.5 951,825.8 951.7,828.4 952.4,826.2 953.1,828.3 953.8,829.3 954.5,828.5 955.2,828.3 955.9,829.4 956.6,829.5 957.3,829.7 958,831 958.7,831.2 959.4,834.5 960.1,833.2 960.8,832.7 961.5,833.4 962.2,834.8 962.9,834.8 963.6,834.2 964.3,833.9 965,836.6 965,835 965.7,834.8 966.4,835.3 967.1,833.8 967.8,834.3 968.5,832.4 969.2,832.4 969.9,831.6 970.6,833.2 971,829.7 971.3,831.1 972,831.1 972.7,831.9 973.4,832 974.1,833 974.8,835.5 975.5,836.3 976.2,835 976.9,835.1 977.6,836.4 978.3,839 979,838 979.7,836.8 980,839.8 980.4,839 981.1,839.8 981.8,839.8 982.5,838.4 983.2,840.7 983.9,840.5 984.6,839.5 985.3,838.2 986,839.3 986.7,839.5 987.4,841.3 988.1,840.3 988.8,840.6 989.5,841.2 990.2,841 990.9,841.9 991.6,842 992.3,842.7 993,840.9 993.7,842.5 994.4,842.1 995,844.4 995.1,843.9 995.8,842.8 996.5,844.5 997.2,842.7 997.9,843.9 998.6,845.1 999.3,846.2 1000,845.5 1000.7,847.1 1001.4,848.7 1002.1,846.7 1002.8,847.5 1003.5,847.6 1004.2,850.9 1004.9,849.4 1005.6,850.6 1006.3,850.7 1007,852 1007.5,852.2 1007.7,852.7 1008.4,853 1009.1,854.6 1009.8,852.6 1010.5,853.9 1011.2,854 1011.9,853.5 1012.6,855.4 1013.3,856.6 1014,854.3 1014.7,857.7 1015.4,855.7 1016.1,856.1 1016.8,854.1 1017.5,856.8 1018.2,856.9 1018.9,857.1 1019.6,858.2 1020.3,857.8 1021,858.6 1021.7,857.9 1022.4,857.8 1023.1,859.2 1023.8,860 1024.5,860.4 1025,860 1025.2,859.3 1025.9,860.2 1026.6,860 1027.3,859.3 1028,860.9 1028.7,860.5 1029.4,859.8 1030.1,860.7 1030.8,861.7 1031.5,862.6 1032.2,859.8 1032.9,861.2 1033.6,862.2 1034.3,862.9 1035,862.3 1035.7,861.2 1036.4,861.8 1037.1,862.3 1037.5,861.7 1037.8,861.6 1038.5,861.8 1039.2,865.6 1039.9,863.7 1040.6,863.8 1041.3,865 1042,864.8 1042.7,864.9 1043.4,865.6 1044.1,865.1 1044.8,865.8 1045.5,867.3 1046.2,867.4 1046.9,866.2 1047.6,868.9 1048.3,867.5 1049,866.8 1049.7,869.2 1050.4,869.5 1051.1,869.6 1051.8,868.8 1052.5,871.1 1052.5,870.5 1053.2,869.8 1053.9,869.3 1054.6,868.9 1055.3,870.1 1056,867.2 1056.7,867.5 1057.4,867.8 1058.1,867 1058.8,865.1 1059.5,865.3 1060,864.7 1060.2,863.9 1060.9,865.5 1061.6,867 1062.3,866.8 1063,868 1063.7,867.9 1064.4,867.3 1065.1,868.9 1065.8,867.3 1066.5,870.5 1067.2,869.5 1067.9,871.8 1068.6,869.5 1069.3,870.3 1070,871.3 1070.7,871.9 1071.4,871.2 1072.1,871.9 1072.8,874 1073.5,873.3 1074.2,875.2 1074.9,876.4 1075,873.7 1075.6,874.4 1076.3,876.1 1077,875.3 1077.7,872.9 1078.4,874.2 1079.1,875.2 1079.8,871.5 1080.5,873.6 1081.2,874 1081.9,872.3 1082.6,872 1083.3,873 1084,870.7 1084.7,872.4 1085.4,872.8 1086.1,871.5 1086.8,869.8 1087.5,872.4 1087.5,871 1088.2,871.9 1088.9,871.1 1089.6,872.2 1090.3,873.7 1091,871.7 1091.7,872.3 1092.4,872.1 1093.1,874.8 1093.8,875.2 1094.5,874.4 1095.2,875.9 1095.9,876.1 1096.6,878.2 1097.3,875.8 1098,877.5 1098.7,877.3 1099.4,879.8 1100.1,879 1100.8,877.9 1101.5,879.8 1102.2,879.7 1102.5,879.1 1102.9,880 1103.6,879.2 1104.3,877.5 1105,877.6 1105.7,878.5 1106.4,877.8 1107.1,876.2 1107.8,875.4 1108.5,875.4 1109.2,874.5 1109.9,873 1110,874.5 1110.6,873.6 1111.3,876.1 1112,875.8 1112.7,876.3 1113.4,875.8 1114.1,876.7 1114.8,876.5 1115.5,877.1 1116.2,876.9 1116.9,879.6 1117.6,877.7 1118.3,880.7 1119,880.3 1119.7,879.3 1120.4,881.7 1121.1,881.3 1121.8,880.7 1122.5,882.1 1123.2,882 1123.9,882 1124.6,883.1 1125.3,883.9 1126,883.8 1126.7,884.5 1127.4,885.6 1127.5,884.9 1128.1,884.6 1128.8,883.8 1129.5,884.8 1130.2,884.4 1130.9,884.6 1131.6,885.5 1132.3,885.5 1133,884.7 1133.7,884.1 1134.4,884.7 1135.1,884.9 1135.8,884.8 1136.5,883.2 1137.2,884.7 1137.9,883.5 1138.6,884.7 1139.3,884.7 1140,884.4 1140.7,885.3 1141.4,884.2 1142.1,884.5 1142.8,883.3 1143.5,884 1144.2,883.8 1144.9,884.1 1145,883.8 1145.6,882.2 1146.3,885.5 1147,885.8 1147.7,883.7 1148.4,886.3 1149.1,887.4 1149.8,887.5 1150.5,887.9 1151.2,887.6 1151.9,887.7 1152.6,890.3 1153.3,889.4 1154,890.9 1154.7,889.8 1155,890.8 1155.4,890.8 1156.1,890.7 1156.8,888.9 1157.5,892.2 1158.2,890.3 1158.9,889.7 1159.6,890.3 1160.3,888.4 1161,891.3 1161.7,889.7 1162.4,890.3 1163.1,890.2 1163.8,888.5 1164.5,889.7 1165.2,891.2 1165.9,889.3 1166.6,890.3 1167.3,891 1168,891.5 1168.7,889.3 1169.4,891 1170.1,890.7 1170.8,890.5 1171.5,890.9 1172.2,890.7 1172.9,889.2 1173.6,890.5 1174.3,889.5 1175,890.4 1175,889.7 1175.7,891.3 1176.4,890.8 1177.1,890.3 1177.8,889.2 1178.5,890.1 1179.2,888.7 1179.9,888.8 1180.6,888 1181.3,890.2 1182,888.9 1182.7,890.1 1183.4,890.3 1184.1,890.1 1184.8,888.7 1185.5,890.3 1186.2,890 1186.9,887.8 1187.6,889.2 1188.3,888 1189,888.6 1189.7,889.7 1190.4,888.8 1191.1,889.9 1191.8,889 1192.5,889 1193.2,889.8 1193.9,889.3 1194.6,888.9 1195.3,889.3 1196,889.1 1196.7,886.7 1197.4,886.9 1198.1,887.9 1198.8,888.7 1199.5,887 1200,886.1 1200.2,887.6 1200.9,887.4 1201.6,889.6 1202.3,886.4 1203,889.5 1203.7,889.7 1204.4,887 1205.1,888.7 1205.8,889.7 1206.5,890.5 1207.2,890.5 1207.9,891.3 1208.6,891.2 1209.3,890.6 1210,893.1 1210.7,892.1 1211.4,891.4 1212.1,892.8 1212.8,892.6 1213.5,892.6 1214.2,892.7 1214.9,892.2 1215.6,893 1216.3,892.9 1217,892.6 1217.7,895.1 1218.4,895.2 1219.1,895 1219.8,894.5 1220.5,895.1 1221.2,897.4 1221.9,895.5 1222.6,897.4 1223.3,897.2 1224,897.6 1224.7,897 1225,897.4 1225.4,897.4 1226.1,896.4 1226.8,898.5 1227.5,896.4 1228.2,897.2 1228.9,898.5 1229.6,898.1 1230.3,896.1 1231,897 1231.7,897.3 1232.4,894.5 1233.1,898 1233.8,896.5 1234.5,895.6 1235.2,895.7 1235.9,893.6 1236.6,896.2 1237.3,896.8 1238,895.1 1238.7,896.6 1239.4,895.7 1240.1,893.7 1240.8,895.3 1241.5,892.9 1242.2,892.9 1242.9,895 1243.6,894.8 1244.3,894.1 1245,894 1245,892.7 1245.7,895.1 1246.4,894.3 1247.1,894.2 1247.8,897.8 1248.5,894.9 1249.2,894.8 1249.9,896.7 1250.6,895.3 1251.3,894.7 1252,896.7 1252.7,895.3 1253.4,894.8 1254.1,895.3 1254.8,895.8 1255.5,896.7 1256.2,897.2 1256.9,895.1 1257.6,897.4 1258.3,895.8 1259,896.1 1259.7,894.3 1260.4,898.2 1261.1,897.4 1261.8,896.8 1262.5,897 1263.2,898.1 1263.9,897.4 1264.6,894.8 1265.3,897.8 1266,897.7 1266.7,898 1267.4,898 1268.1,898.9 1268.8,897.5 1269.5,900.4 1270.2,898.6 1270.9,897.9 1271.6,898.8 1272.3,897.2 1273,898.8 1273.7,898.4 1274.4,898.3 1275.1,900 1275.8,899.7 1276.5,898.6 1277.2,899.1 1277.9,900 1278.6,901.9 1279.3,899.9 1280,900 1280,900.5 1280.7,899 1281.4,900.2 1282.1,901 1282.8,900.8 1283.5,900.8 1284.2,899.5 1284.9,900.7 1285.6,902.1 1286.3,903.3 1287,901.8 1287.7,900.6 1288.4,900.7 1289.1,901.1 1289.8,903.2 1290.5,900.2 1291.2,901.3 1291.9,900 1292.6,901.3 1293.3,901.4 1294,902.6 1294.7,902.6 1295.4,902.2 1296.1,901.8 1296.8,901.8 1297.5,903.7 1298.2,902.2 1298.9,901.4 1299.6,901.8 1300.3,902.6 1301,901.9 1301.7,901.3 1302.4,903.6 1303.1,902.2 1303.8,902.8 1304.5,903.1 1305.2,902.9 1305.9,903 1306.6,900.9 1307.3,903.4 1308,903.2 1308.7,903.2 1309.4,903.5 1310.1,905.7 1310.8,905.3 1311.5,904.5 1312.2,905.4 1312.9,903.6 1313.6,904.1 1314.3,904.6 1315,905.1 1315.7,905.1 1316.4,906.1 1317.1,904.4 1317.8,905.9 1318.5,904.1 1319.2,905.3 1319.9,904 1320.6,906.1 1321.3,904.6 1322,906.3 1322.7,903.5 1323.4,906.9 1324.1,905.4 1324.8,905.9 1325.5,905.8 1326.2,904.1 1326.9,905.2 1327.6,905.2 1328.3,905.8 1329,904.5 1329.7,905.5 1330,906.1 1330.4,907.1 1331.1,906.9 1331.8,905.2 1332.5,907.2 1333.2,907.9 1333.9,907.3 1334.6,906.4 1335.3,905.9 1336,906.5 1336.7,908.4 1337.4,906.1 1338.1,904.9 1338.8,908 1339.5,906.7 1340.2,907.3 1340.9,907.1 1341.6,908.6 1342.3,907.3 1343,907.1 1343.7,907.1 1344.4,909.5 1345.1,909.4 1345.8,907.8 1346.5,907.8 1347.2,908.2 1347.9,908.9 1348.6,907.7 1349.3,910 1350,908.9 1350.7,906.4 1351.4,907.9 1352.1,908.7 1352.8,911.2 1353.5,910.6 1354.2,909.4 1354.9,908.3 1355.6,909.3 1356.3,909.5 1357,909.2 1357.7,909.8 1358.4,910.4 1359.1,909.4 1359.8,908.9 1360.5,910.1 1361.2,908.7 1361.9,909.7 1362.6,911.3 1363.3,910.5 1364,909.3 1364.7,910.4 1365.4,910.3 1366.1,910.8 1366.8,911.6 1367.5,910.3 1368.2,909.8 1368.9,912.4 1369.6,910.3 1370.3,911.7 1371,911.6 1371.7,911.1 1372.4,912 1373.1,911.9 1373.8,911.8 1374.5,912.4 1375.2,911.2 1375.9,912.8 1376.6,911.2 1377.3,913 1378,913.4 1378.7,911.6 1379.4,914.2 1380.1,911.9 1380.8,912.5 1381.5,911.9 1382.2,912.5 1382.9,912.9 1383.6,912.4 1384.3,913.9 1385,912.4 1385.7,913.5 1386.4,912.3 1387.1,912.5 1387.8,913.5 1388.5,913.8 1389.2,913.3 1389.9,914 1390.6,914.2 1391.3,913.3 1392,914 1392.7,913.3 1393.4,913 1394.1,913.7 1394.8,914.2 1395.5,915.5 1396.2,915 1396.9,914.7 1397.6,912.8 1398.3,914 1399,915.4 1399.7,915.5 1400.4,915.1 1401.1,914.1 1401.8,913.5 1402.5,913.9 1403.2,915.6 1403.9,915.9 1404.6,917.3 1405.3,915.2 1406,916.2 1406.7,915.3 1407.4,915.9 1408.1,916.2 1408.8,915.8 1409.5,917.6 1410.2,915.4 1410.9,917.2 1411.6,916.4 1412.3,916.3 1413,917.7 1413.7,916.4 1414.4,917.3 1415.1,917.1 1415.8,917.8 1416.5,916.2 1417.2,917.6 1417.9,917.9 1418.6,917 1419.3,916.7 1420,916.8 1420.7,917.8 1421.4,917.2 1422.1,918.5 1422.8,918 1423.5,917.9 1424.2,918.2 1424.9,918.4 1425.6,918.5 1426.3,919.1 1427,919.7 1427.7,919.1 1428.4,919.3 1429.1,920.3 1429.8,920.4 1430,919.1 1430.5,918.1 1431.2,920.2 1431.9,918.5 1432.6,918.6 1433.3,918.7 1434,919.1 1434.7,917.4 1435.4,919.1 1436.1,920.7 1436.8,922 1437.5,920.2 1438.2,920.6 1438.9,920.8 1439.6,919.5 1440.3,919.3 1441,920.5 1441.7,921.3 1442.4,920.5 1443.1,920.7 1443.8,920.5 1444.5,920.4 1445.2,920.2 1445.9,921.7 1446.6,921.5 1447.3,920.7 1448,921.2 1448.7,921.5 1449.4,922.1 1450.1,922.9 1450.8,922.8 1451.5,921.3 1452.2,921.6 1452.9,921.2 1453.6,922.2 1454.3,922.6 1455,920.2 1455.7,921.8 1456.4,923.1 1457.1,920.6 1457.8,923.3 1458.5,923 1459.2,921.6 1459.9,921.2 1460.6,923.8 1461.3,921.9 1462,921.2 1462.7,922.5 1463.4,921.2 1464.1,921.6 1464.8,924.2 1465.5,922.3 1466.2,922.6 1466.9,921.3 1467.6,922.1 1468.3,923.8 1469,923.3 1469.7,924 1470.4,924 1471.1,923.4 1471.8,922.9 1472.5,921.3 1473.2,924.3 1473.9,923.5 1474.6,925.8 1475.3,923.4 1476,923.5 1476.7,923.3 1477.4,922.7 1478.1,923.9 1478.8,924.2 1479.5,924.2 1480.2,923.8 1480.9,923.4 1481.6,925.2 1482.3,925.2 1483,923.8 1483.7,923.3 1484.4,923.9 1485.1,923.9 1485.8,925.6 1486.5,923.9 1487.2,925.1 1487.9,923.9 1488.6,924.8 1489.3,927.4 1490,924.5 1490.7,925.5 1491.4,924.8 1492.1,926.3 1492.8,925.7 1493.5,925.5 1494.2,926.8 1494.9,926.3 1495.6,926.2 1496.3,924.7 1497,925 1497.7,927.2 1498.4,924.9 1499.1,927.4 1499.8,927.5 1500.5,925.9 1501.2,925.4 1501.9,925.1 1502.6,927 1503.3,926.8 1504,925.7 1504.7,925.5 1505.4,927 1506.1,926 1506.8,926.7 1507.5,925.4 1508.2,927.2 1508.9,927 1509.6,926.5 1510.3,926 1511,927 1511.7,927.5 1512.4,927.6 1513.1,927.4 1513.8,926.7 1514.5,928 1515.2,928.5 1515.9,927 1516.6,926.5 1517.3,929 1518,927.9 1518.7,926.1 1519.4,928.6 1520.1,928.1 1520.8,927.4 1521.5,928.2 1522.2,927.2 1522.9,927.5 1523.6,926.8 1524.3,929.4 1525,927.9 1525.7,928.6 1526.4,928.8 1527.1,926.3 1527.8,928.8 1528.5,927.7 1529.2,929.9 1529.9,927.7 1530,929.6 1530.6,930.4 1531.3,929.2 1532,929.9 1532.7,930.3 1533.4,929.3 1534.1,929 1534.8,928 1535.5,931 1536.2,930.3 1536.9,930 1537.6,928 1538.3,930.6 1539,929.3 1539.7,929.9 1540.4,930.1 1541.1,930.8 1541.8,929.6 1542.5,929.4 1543.2,930.5 1543.9,930.3 1544.6,929.6 1545.3,932.1 1546,931.3 1546.7,928.9 1547.4,928.4 1548.1,928.7 1548.8,930.1 1549.5,931 1550.2,932.2 1550.9,930.9 1551.6,930.2 1552.3,930.9 1553,930.9 1553.7,930.1 1554.4,931.1 1555.1,929.4 1555.8,930.8 1556.5,931.6 1557.2,931.1 1557.9,931.8 1558.6,932.4 1559.3,932 1560,932.1 1560.7,932.2 1561.4,931.5 1562.1,932.6 1562.8,932 1563.5,931 1564.2,932.8 1564.9,932 1565.6,929.3 1566.3,933.6 1567,932.2 1567.7,931.6 1568.4,933 1569.1,932.7 1569.8,932.7 1570.5,934.1 1571.2,933.6 1571.9,932.4 1572.6,932.1 1573.3,931.7 1574,933.3 1574.7,933 1575.4,934 1576.1,933.2 1576.8,933.8 1577.5,934.4 1578.2,932.8 1578.9,932.5 1579.6,933.4 1580.3,932.3 1581,933.3 1581.7,933.3 1582.4,934.9 1583.1,933.4 1583.8,934.8 1584.5,933.5 1585.2,933.8 1585.9,933.5 1586.6,933.9 1587.3,933.5 1588,933.1 1588.7,933 1589.4,935 1590.1,934.4 1590.8,935.7 1591.5,935.7 1592.2,933.5 1592.9,936.2 1593.6,934.1 1594.3,933.2 1595,933.6 1595.7,934.2 1596.4,932.6 1597.1,935.2 1597.8,934.6 1598.5,935.5 1599.2,935.3 1599.9,935.3 1600.6,935.8 1601.3,935.6 1602,934 1602.7,936.7 1603.4,935 1604.1,935.5 1604.8,936.1 1605.5,934.9 1606.2,935.1 1606.9,934 1607.6,936.3 1608.3,936.4 1609,935.4 1609.7,935.2 1610.4,933.6 1611.1,936.4 1611.8,935.2 1612.5,935.6 1613.2,935.8 1613.9,935.8 1614.6,936.4 1615.3,936.8 1616,936.5 1616.7,935.4 1617.4,936.4 1618.1,936.4 1618.8,935.7 1619.5,936.4 1620.2,937.5 1620.9,937.4 1621.6,937.3 1622.3,937.4 1623,935.3 1623.7,937.2 1624.4,938.4 1625.1,936.9 1625.8,937 1626.5,936.6 1627.2,937.6 1627.9,937.4 1628.6,936.6 1629.3,937.6 1630,937.6 1630,937.9 1630.7,938 1631.4,937 1632.1,938.1 1632.8,937.7 1633.5,937.7 1634.2,937.5 1634.9,937.9 1635.6,937.3 1636.3,937 1637,938.9 1637.7,936.9 1638.4,938.2 1639.1,938.7 1639.8,938.3 1640.5,937.8 1641.2,938 1641.9,936.8 1642.6,938.5 1643.3,937.4 1644,938.1 1644.7,937.5 1645.4,939 1646.1,938 1646.8,938.3 1647.5,939.6 1648.2,937.6 1648.9,938.3 1649.6,936.6 1650.3,938.2 1651,938.2 1651.7,938 1652.4,939.2 1653.1,940 1653.8,939.4 1654.5,939.4 1655.2,939.7 1655.9,938.3 1656.6,938.2 1657.3,939.2 1658,940.4 1658.7,938.5 1659.4,937.7 1660.1,939.1 1660.8,939.9 1661.5,939.7 1662.2,939.6 1662.9,939.1 1663.6,939.9 1664.3,938.9 1665,940.4 1665.7,940.5 1666.4,940.1 1667.1,941.2 1667.8,941.6 1668.5,938.8 1669.2,939.4 1669.9,938.7 1670.6,938.1 1671.3,938.7 1672,939.5 1672.7,940.1 1673.4,940.1 1674.1,937.5 1674.8,939.7 1675.5,938.8 1676.2,940.4 1676.9,939.1 1677.6,940.8 1678.3,941.4 1679,941.6 1679.7,939.8 1680.4,940.3 1681.1,939.8 1681.8,940.1 1682.5,941.7 1683.2,938.6 1683.9,939.7 1684.6,940.3 1685.3,939.9 1686,939.3 1686.7,941.3 1687.4,940.3 1688.1,940 1688.8,939.3 1689.5,940.4 1690.2,941.3 1690.9,940.4 1691.6,941.6 1692.3,940.3 1693,939.9 1693.7,940.7 1694.4,939.9 1695.1,939.4 1695.8,941.3 1696.5,941.7 1697.2,942.4 1697.9,939.2 1698.6,941.8 1699.3,941.6 1700,941.1 1700.7,941.5 1701.4,941.7 1702.1,941.6 1702.8,941.7 1703.5,940.9 1704.2,942.8 1704.9,941.3 1705.6,942.3 1706.3,941 1707,941.3 1707.7,941.3 1708.4,941.6 1709.1,942.7 1709.8,940.2 1710.5,942.6 1711.2,941 1711.9,943.5 1712.6,940.8 1713.3,941.8 1714,942.3 1714.7,940.3 1715.4,941.8 1716.1,941.9 1716.8,942.2 1717.5,941.7 1718.2,941 1718.9,940.3 1719.6,941.5 1720.3,941.7 1721,941.7 1721.7,942.8 1722.4,942.2 1723.1,940.7 1723.8,941.4 1724.5,943.2 1725.2,942.9 1725.9,942.4 1726.6,942.1 1727.3,943.3 1728,941.7 1728.7,941.9 1729.4,943.5 1730,940.9 1730.1,943.5 1730.8,942.1 1731.5,942.9 1732.2,942.2 1732.9,941 1733.6,943 1734.3,942.1 1735,942.6 1735.7,943.1 1736.4,942.9 1737.1,942.9 1737.8,943.4 1738.5,941.6 1739.2,944.7 1739.9,941.5 1740.6,942.7 1741.3,942.9 1742,942.5 1742.7,943.6 1743.4,942.6 1744.1,943.1 1744.8,945.4 1745.5,942.7 1746.2,945.2 1746.9,941.9 1747.6,943.7 1748.3,943.4 1749,943.8 1749.7,941.1 1750.4,941.4 1751.1,943.9 1751.8,944.1 1752.5,943.9 1753.2,942.9 1753.9,943.8 1754.6,943.8 1755.3,942.9 1756,945.1 1756.7,943.4 1757.4,943 1758.1,943.9 1758.8,943.2 1759.5,943.8 1760.2,942.8 1760.9,942.8 1761.6,943.2 1762.3,944.6 1763,943.5 1763.7,945.2 1764.4,945.1 1765.1,943.3 1765.8,943.4 1766.5,944.9 1767.2,943.6 1767.9,943.6 1768.6,945.5 1769.3,945.1 1770,944.5 1770.7,942.4 1771.4,944.1 1772.1,942.5 1772.8,944.3 1773.5,944.4 1774.2,945.7 1774.9,943 1775.6,944.3 1776.3,944.5 1777,944.6 1777.7,944.7 1778.4,945.3 1779.1,944.8 1779.8,944 1780.5,944.1 1781.2,945.4 1781.9,944.1 1782.6,942.7 1783.3,943 1784,943.4 1784.7,943.4 1785.4,944.8 1786.1,944.7 1786.8,943 1787.5,943.7 1788.2,945 1788.9,945 1789.6,944.6 1790.3,946.6 1791,943.9 1791.7,945.7 1792.4,945 1793.1,942.9 1793.8,943.8 1794.5,944.9 1795.2,944.1 1795.9,944.5 1796.6,944.7 1797.3,945.2 1798,944.6 1798.7,945.5 1799.4,944.8 1800.1,944 1800.8,944.6 1801.5,943.9 1802.2,945.7 1802.9,943.7 1803.6,944.6 1804.3,944.7 1805,945.6 1805.7,946.4 1806.4,944.1 1807.1,944.9 1807.8,944.8 1808.5,944.6 1809.2,943.7 1809.9,945.4 1810.6,943.6 1811.3,946.7 1812,946.1 1812.7,946.4 1813.4,947.1 1814.1,945.3 1814.8,944.8 1815.5,943.8 1816.2,946.5 1816.9,946.2 1817.6,945.1 1818.3,944.6 1819,945.9 1819.7,945.9 1820.4,944.6 1821.1,947 1821.8,945.2 1822.5,946.2 1823.2,944.1 1823.9,944.8 1824.6,945.9 1825.3,944.8 1826,947.4 1826.7,944 1827.4,945.4 1828.1,944.2 1828.8,945.5 1829.5,947.1 1830,946.2 1830.2,945.8 1830.9,947.1 1831.6,944.6 1832.3,944.9 1833,944.6 1833.7,947.1 1834.4,944.6 1835.1,947.4 1835.8,945.5 1836.5,946 1837.2,945.9 1837.9,947.1 1838.6,945.9 1839.3,946.1 1840,946.1 1840.7,946.3 1841.4,945.6 1842.1,946.5 1842.8,945.5 1843.5,947 1844.2,946.1 1844.9,947.9 1845.6,945.3 1846.3,946.8 1847,946.6 1847.7,948.3 1848.4,947.2 1849.1,946.6 1849.8,946.6 1850.5,946.2 1851.2,948.7 1851.9,948.8 1852.6,946.8 1853.3,946.2 1854,947.4 1854.7,947.7 1855.4,946.2 1856.1,946.7 1856.8,946.6 1857.5,946.8 1858.2,947.6 1858.9,946.2 1859.6,945.5 1860.3,949.1 1861,946.9 1861.7,947.7 1862.4,946.8 1863.1,947.4 1863.8,947.6 1864.5,947.2 1865.2,949.7 1865.9,948 1866.6,947.2 1867.3,947.6 1868,947.5 1868.7,947.4 1869.4,948.6 1870.1,948.6 1870.8,947.6 1871.5,947.9 1872.2,946.6 1872.9,948.2 1873.6,947.6 1874.3,947 1875,947.5 1875.7,949.2 1876.4,947 1877.1,947.1 1877.8,948.3 1878.5,948.4 1879.2,947.9 1879.9,947.1 1880.6,947.5 1881.3,949.9 1882,946.9 1882.7,948.3 1883.4,949 1884.1,948.9 1884.8,950.3 1885.5,948.7 1886.2,947.9 1886.9,947.7 1887.6,948.1 1888.3,949.7 1889,947.4 1889.7,948.7 1890.4,947.8 1891.1,948.4 1891.8,950.4 1892.5,948.8 1893.2,949 1893.9,948.2 1894.6,947.3 1895.3,947.9 1896,948.3 1896.7,948.7 1897.4,947 1898.1,948.7 1898.8,950.2 1899.5,948.5 1900,949.6" fill="none" stroke="#8634e6" stroke-width="2.7" stroke-linejoin="round" stroke-linecap="round"/><path d="M286,1168 286.7,1168.1 287.4,1167.4 288.1,1166.6 288.8,1166.8 289.5,1166.2 290.2,1166.9 290.9,1167.9 291.6,1166 292.3,1165.7 293,1166.6 293.7,1166.2 294.4,1165.8 295.1,1164.7 295.8,1165.3 296.5,1165.8 297.2,1163.8 297.9,1164.4 298.6,1162.9 299.3,1163.3 300,1162.6 300.7,1163.8 301.4,1162.7 302.1,1163.9 302.8,1163.6 303.5,1163.1 304.2,1160.8 304.9,1162.4 305.6,1162.7 306.3,1162.6 307,1161 307.7,1161.7 308.4,1161.1 309.1,1161.1 309.8,1162.5 310.5,1160.7 311.2,1161.2 311.9,1161.8 312.6,1160.3 313.3,1160.5 314,1160.6 314.7,1160.3 315.4,1159 316.1,1160 316.8,1160.9 317.5,1158.1 318.2,1160.1 318.9,1159.2 319.6,1158.4 320.3,1160.6 321,1159.3 321.7,1157.3 322.4,1158.3 323.1,1158.5 323.8,1157.7 324.5,1158.2 325,1157.4 325.2,1158 325.9,1158.6 326.6,1156.5 327.3,1157.1 328,1156.3 328.7,1156.6 329.4,1155.3 330.1,1155.6 330.8,1155.8 331.5,1156.6 332.2,1156.6 332.9,1154.2 333.6,1154.5 334.3,1155.6 335,1153 335.7,1154.2 336.4,1154.4 337.1,1155.4 337.8,1154.7 338.5,1153.6 339.2,1153.4 339.9,1153.3 340.6,1154.7 341.3,1152.8 342,1152.7 342.7,1153.1 343.4,1152.5 344.1,1152.2 344.8,1151.2 345.5,1152 346.2,1151.4 346.9,1152.7 347.6,1152.1 348.3,1151.3 349,1151.7 349.7,1150.6 350.4,1151.7 351.1,1150.5 351.8,1150.9 352.5,1149 353.2,1150.3 353.9,1148.3 354.6,1147.8 355.3,1149.1 356,1148.4 356.7,1149.2 357.4,1150.9 358.1,1147.9 358.8,1147.9 359.5,1148.5 360.2,1148.6 360.9,1147.8 361.6,1147.6 362.3,1148.2 362.5,1148 363,1146.4 363.7,1147.1 364.4,1146.9 365.1,1145.8 365.8,1146.7 366.5,1145.5 367.2,1146.9 367.9,1146 368.6,1145.7 369.3,1144.9 370,1145.1 370.7,1143.2 371.4,1143.7 372.1,1144.9 372.8,1142.4 373.5,1144.9 374.2,1142.3 374.9,1144.4 375.6,1142.7 376.3,1144 377,1143.2 377.7,1141.4 378.4,1143.7 379.1,1143.7 379.8,1142.1 380.5,1141.7 381.2,1141.6 381.9,1140.7 382.6,1142.3 383.3,1140.6 384,1140.8 384.7,1140 385.4,1139.9 386.1,1139.1 386.8,1141.2 387.5,1139.7 388.2,1140.5 388.9,1139.4 389.6,1138.5 390.3,1138.7 391,1138.2 391.7,1138.5 392.4,1138 393.1,1137.8 393.8,1136.6 394.5,1136.9 395,1139 395.2,1136.6 395.9,1135.4 396.6,1135.7 397.3,1135.7 398,1132.2 398.7,1132.4 399.4,1131.1 400.1,1129.1 400.8,1130.4 401.5,1128.8 402.2,1128 402.5,1126.8 402.9,1128.3 403.6,1128.1 404.3,1129.2 405,1129 405.7,1129.6 406.4,1132.6 407.1,1131.6 407.8,1133.1 408.5,1133.5 409.2,1133.8 409.9,1134.4 410,1135.6 410.6,1134.5 411.3,1134.3 412,1134.2 412.7,1134.9 413.4,1134.2 414.1,1133.6 414.8,1132.4 415.5,1131.4 416.2,1133.2 416.9,1132.9 417.6,1131.6 418.3,1131.9 419,1131.8 419.7,1131.6 420.4,1131.4 421.1,1129.8 421.8,1131.3 422.5,1128.5 423.2,1130.1 423.9,1129.5 424.6,1129.5 425.3,1130.1 426,1129.5 426.7,1126.8 427.4,1126 428.1,1128 428.8,1126 429.5,1126.6 430.2,1127.1 430.9,1124.6 431.6,1123.8 432.3,1125.7 433,1125.2 433.7,1124.6 434.4,1124.6 435.1,1123.5 435.8,1122.6 436.5,1123.5 437.2,1122.5 437.9,1121.6 438.6,1123.2 439.3,1122.4 440,1122.5 440.7,1121 441.4,1121 442.1,1120.3 442.8,1120.1 443.5,1120.8 444.2,1119.6 444.9,1120.4 445,1120.3 445.6,1121.6 446.3,1118.2 447,1120 447.7,1118.8 448.4,1118.6 449.1,1117 449.8,1117.6 450.5,1118.4 451.2,1117.3 451.9,1117.2 452.6,1116.6 453.3,1117.6 454,1116.2 454.7,1114 455.4,1115 456.1,1113.6 456.8,1112.2 457.5,1114.3 458.2,1115.7 458.9,1114.3 459.6,1112.9 460.3,1112.8 461,1114.4 461.7,1113.2 462.4,1112.8 463.1,1112.4 463.8,1112.2 464.5,1112.6 465.2,1112.1 465.9,1111.5 466.6,1110.1 467.3,1111.2 468,1109.8 468.7,1111.1 469.4,1108.7 470.1,1109.4 470.8,1109.2 471.5,1107.8 472.2,1110.2 472.9,1109.7 473.6,1107.7 474.3,1108.5 475,1107.8 475,1105.1 475.7,1107.4 476.4,1106.7 477.1,1106.5 477.8,1105.1 478.5,1105.5 479.2,1105.2 479.9,1106.1 480.6,1105 481.3,1104.3 482,1105.4 482.7,1103.2 483.4,1102.9 484.1,1101.3 484.8,1104 485.5,1103.1 486.2,1102.7 486.9,1102.2 487.6,1101.3 488.3,1101 489,1100.3 489.7,1100 490.4,1099.8 491.1,1100.8 491.8,1099.6 492.5,1098.7 493.2,1097.9 493.9,1097.5 494.6,1099.1 495.3,1097.8 496,1097.1 496.7,1096.3 497.4,1095.3 498.1,1095.9 498.8,1096.4 499.5,1094.9 500,1094.8 500.2,1094.5 500.9,1093.7 501.6,1091.2 502.3,1091.3 503,1089.7 503.7,1090.2 504.4,1087.7 505,1088 505.1,1089 505.8,1088 506.5,1088.5 507.2,1089.9 507.9,1090.4 508.6,1090.2 509.3,1092.2 510,1094.3 510,1092.3 510.7,1091.9 511.4,1090.8 512.1,1091.6 512.8,1089.9 513.5,1089.6 514.2,1091.4 514.9,1089 515.6,1090.4 516.3,1090.4 517,1088.9 517.7,1088.8 518.4,1089.7 519.1,1087.4 519.8,1086.6 520.5,1085.6 521.2,1086.4 521.9,1087.3 522.6,1086.5 523.3,1084.4 524,1084.1 524.7,1084 525.4,1084.4 526.1,1083.5 526.8,1083.5 527.5,1083.2 528.2,1082.3 528.9,1082.2 529.6,1082 530.3,1081.4 531,1081.5 531.7,1082.3 532.4,1080.8 533.1,1080 533.8,1078 534.5,1079.5 535.2,1077 535.9,1077.1 536.6,1078.8 537.3,1078.2 537.5,1077.4 538,1075.1 538.7,1075.1 539.4,1073.6 540.1,1073.5 540.8,1073.8 541.5,1070.7 542.2,1068.6 542.9,1067 543.6,1066.8 544.3,1065.4 545,1063.3 545.7,1063.3 546.4,1060.9 547.1,1061.7 547.5,1061 547.8,1061.4 548.5,1061.1 549.2,1063 549.9,1063.5 550.6,1064.3 551.3,1065.4 552,1065.6 552.5,1066.2 552.7,1068 553.4,1066.4 554.1,1066.1 554.8,1066.1 555.5,1062.9 556.2,1063.1 556.9,1063.3 557.6,1062.8 558.3,1061.4 559,1061.9 559.7,1060.5 560.4,1058.5 561.1,1058.1 561.8,1058.9 562.5,1057.9 563.2,1055.1 563.9,1057.3 564.6,1055.9 565.3,1055.9 566,1053.7 566.7,1053 567.4,1051.6 567.5,1054.8 568.1,1051.7 568.8,1052.6 569.5,1049.9 570.2,1049.9 570.9,1047.6 571.6,1048.1 572.3,1048.6 573,1045.9 573.7,1047.3 574.4,1045.9 575.1,1044 575.8,1043.7 576.5,1043.1 577.2,1042.8 577.9,1041.6 578.6,1040.7 579.3,1040.4 580,1039.1 580.7,1038.1 581.4,1038.6 582.1,1038.7 582.8,1035.8 583.5,1036.5 584.2,1035.2 584.9,1034.2 585,1035.8 585.6,1031.2 586.3,1029.2 587,1023.3 587.7,1020.5 588.4,1016.1 589.1,1011.8 589.8,1009.1 590,1007.4 590.5,1008.5 591.2,1008.7 591.9,1008.4 592.6,1010 593.3,1010.8 594,1012.4 594.7,1011.4 595.4,1012.9 596.1,1012.1 596.8,1014.9 597.5,1014 598.2,1014.1 598.9,1016.3 599.6,1018.1 600,1016.1 600.3,1016.1 601,1015.5 601.7,1014.2 602.4,1014.7 603.1,1012.7 603.8,1011.8 604.5,1012.1 605.2,1010 605.9,1010.1 606.6,1007.9 607.3,1006.8 608,1005.3 608.7,1007.7 609.4,1004.8 610.1,1004.4 610.8,1003.2 611.5,1002.5 612.2,1001.4 612.5,1002.7 612.9,999.1 613.6,997 614.3,995.9 615,993.9 615.7,994.2 616.4,992.6 617.1,989.3 617.8,987.3 618.5,986.6 619.2,986.5 619.9,981.1 620.6,982.4 621.3,979.4 622,979.6 622.5,976.5 622.7,975.6 623.4,968.9 624.1,963.8 624.8,960.3 625.5,954.2 626.2,947.5 626.9,941.5 627.5,935.8 627.6,937.4 628.3,939.6 629,941.4 629.7,943.3 630.4,944.2 631.1,947 631.8,948.9 632.5,952 633.2,954.4 633.9,954.4 634.6,955.7 635,957.4 635.3,956.5 636,955.3 636.7,954.9 637.4,953 638.1,953.4 638.8,951.7 639.5,951 640.2,949.5 640.9,948 641.6,946.7 642.3,946.3 643,945 643.7,944.7 644.4,943.4 645,941.3 645.1,942.3 645.8,938.9 646.5,937.4 647.2,935.6 647.9,931.9 648.6,931.8 649.3,929.7 650,927.4 650,927.1 650.7,925.4 651.4,923.1 652.1,922 652.8,920 653.5,918.8 654.2,915.9 654.9,915.5 655,915.1 655.6,911.3 656.3,906.8 657,903.5 657.7,897.3 658.4,895 658.8,892.7 659.1,883 659.8,863.5 660.5,843 661.2,823.7 661.9,805 662.2,796.4 662.6,799.3 663.3,803.3 664,810.6 664.7,816.6 665.4,822 666.1,826.7 666.8,830.6 667.5,838.3 667.5,837.4 668.2,839.9 668.9,847.2 669.6,850.2 670.3,855.1 671,860.4 671.6,866.1 671.7,863.9 672.4,858.7 673.1,854.4 673.8,848.6 674.5,841.4 675.2,835.5 675.7,830.6 675.9,824.2 676.6,801 677.3,776.8 678,752.4 678.7,729 679.4,703.2 679.6,696.9 680.1,708.9 680.8,724.4 681.5,740.5 682.2,755.6 682.9,770.6 683.6,786.9 684.2,799.1 684.3,803.8 684.9,837.3 685,837.4 685.7,842.3 686.4,845 687.1,850.8 687.8,855.2 688,856.2 688.5,853.8 689.2,853.8 689.9,853.2 690.6,851.1 691.3,848.5 692,847.4 692.7,846.4 693,842.5 693.4,847.9 694.1,853.7 694.8,859.1 695.5,865.2 696,868.4 696.2,867.9 696.9,868.6 697.6,869.7 698.3,869.3 699,870.4 699.7,872 700.4,873.6 701.1,872.5 701.8,873.3 702.5,874.2 703.2,876 703.9,875.4 704.6,877.5 705.3,876 706,877.4 706,877.4 706.7,877.7 707.4,877.3 708.1,874.4 708.8,874.3 709.5,874.8 710.2,873.3 710.9,871.9 711.6,873.6 712.3,872.5 713,871.9 713.7,870.4 714.4,871.2 715.1,869.4 715.8,870 716.5,867.6 716.5,867.6 717.2,871.7 717.9,874.1 718.6,878.5 719.3,881.3 720,883.4 720.7,887.4 721.4,890.2 721.5,891.8 722.1,888.3 722.8,886 723.5,885.1 724.2,883.5 724.9,880.9 725.6,876.7 725.6,876.8 726.3,881.2 727,882.9 727.7,885.4 728.4,889.6 729.1,893.1 729.8,895.1 730.5,897.6 730.7,898.7 731.2,897.5 731.9,892 732.6,888.2 733.3,884.2 734,880.3 734.7,875.2 735.4,871.6 736.1,866.1 736.8,862.2 737.5,857.3 738,856.2 738.2,857.2 738.9,863.5 739.6,870.8 740.3,877.9 741,885.7 741.7,890.6 742.4,898.1 743.1,905.7 743.8,915.3 744,915.9 744.5,916.1 745.2,918.5 745.9,921.3 746.6,920.9 747.3,922.4 748,925.5 748.7,926.5 749.4,928.3 750.1,928.9 750.8,932.7 751.5,934.2 752.2,934.8 752.5,935.6 752.9,932.5 753.6,933.6 754.3,931.6 755,930.9 755.7,929.9 756.4,927.7 757.1,925.2 757.8,925.8 758.5,923.5 759.2,922.6 759.9,921.1 760.6,920.1 761.3,917.1 762,919 762.7,916.9 763.4,916.4 764.1,915.9 764.8,912.9 765,910.9 765.5,914.6 766.2,918.4 766.9,923.1 767.6,927.7 768.3,929.9 769,936.1 769.7,938.6 770.4,944.3 771,947.4 771.1,946.9 771.8,945 772.5,942.4 773.2,940.2 773.9,937.1 774.6,936.4 775.3,935.9 776,933.9 776.7,931.2 777.4,928.4 777.5,926.9 778.1,931.8 778.8,933.9 779.5,937.4 780.2,940.7 780.9,944.6 781.6,947.6 782.3,951.4 783,954 783.7,958.2 784.4,964.1 785,964.9 785.1,965 785.8,967.5 786.5,969.4 787.2,969.6 787.9,972.2 788.6,974.9 789.3,976.1 790,977.8 790.7,980.8 791.4,980.6 792.1,983.1 792.5,983.5 792.8,985.3 793.5,982.1 794.2,983.1 794.9,983.2 795.6,984.1 796.3,984 797,984.6 797.7,981.8 798.4,983.8 799.1,982.7 799.8,982.3 800.5,983.3 801.2,981.9 801.9,980.7 802.5,982.2 802.6,981.3 803.3,983.1 804,985.1 804.7,986.1 805.4,988.3 806.1,987.7 806.8,987.6 807.5,989.3 808.2,990.2 808.9,991 809.6,993.5 810.3,993.6 811,993.5 811.7,996.9 812.4,997.2 812.5,997.8 813.1,995.8 813.8,994.2 814.5,991.5 815.2,990.5 815.9,987.7 816.6,985.6 817.3,983.5 818,979.7 818.7,978.8 819.4,976.6 820.1,974.9 820.8,971.4 821.5,972 822.2,968.5 822.5,966.4 822.9,968.1 823.6,973.1 824.3,977 825,980.2 825.7,984.6 826.4,987.7 827.1,992.5 827.8,995.1 828.5,999.5 829.2,1004.1 829.9,1009.3 830,1006.6 830.6,1007.8 831.3,1008.2 832,1010.5 832.7,1009.6 833.4,1011 834.1,1012.2 834.8,1012.1 835.5,1013 836.2,1014.2 836.9,1013.5 837.6,1014.9 838.3,1016.7 839,1018 839.7,1018.5 840,1017.4 840.4,1018.4 841.1,1019.1 841.8,1018.5 842.5,1017.6 843.2,1016.5 843.9,1017.5 844.6,1016 845.3,1015.1 846,1015.1 846.7,1016.7 847.4,1015.3 847.5,1016 848.1,1015.5 848.8,1017.9 849.5,1017.7 850.2,1019.2 850.9,1022.7 851.6,1022.3 852.3,1022.2 853,1023.7 853.7,1025.2 854.4,1027.1 855.1,1026.7 855.8,1026.7 856.5,1029.1 857.2,1030.5 857.5,1031.1 857.9,1031 858.6,1028.2 859.3,1026.6 860,1022.9 860.7,1022.7 861.4,1021.8 862.1,1018.6 862.8,1016.1 863.5,1014.1 864,1014.1 864.2,1012 864.9,1014 865.6,1015.7 866.3,1017.2 867,1017.4 867.7,1019.3 868.4,1020 869.1,1021.6 869.8,1022.6 870.5,1022.9 871.2,1025.2 871.9,1027.2 872.5,1026.6 872.6,1027.4 873.3,1029.4 874,1029 874.7,1031.2 875.4,1031.2 876.1,1034.3 876.8,1036.5 877.5,1037.4 878.2,1036.5 878.9,1038.5 879.6,1039 880.3,1040.1 881,1042.6 881.7,1041.1 882.4,1044.4 883.1,1044.5 883.8,1046.9 884,1046.2 884.5,1044.6 885.2,1044.4 885.9,1043.8 886.6,1042.1 887.3,1041.5 888,1039.5 888.7,1037 889.4,1038.7 890.1,1037.5 890.8,1035.9 891.5,1034.8 892.2,1034.6 892.9,1032.2 893.6,1031 894,1030.8 894.3,1032.7 895,1032 895.7,1035.9 896.4,1035.8 897.1,1036.9 897.8,1040.6 898.5,1041 899.2,1041.5 899.9,1043.9 900.6,1046.6 901.3,1048.4 902,1048.5 902.5,1050.4 902.7,1050.8 903.4,1050.2 904.1,1051.8 904.8,1052 905.5,1052.2 906.2,1052.9 906.9,1054 907.6,1054.6 908.3,1054.7 909,1055.5 909.7,1057.5 910.4,1057.3 911.1,1058.5 911.8,1059.5 912.5,1059.5 912.5,1061 913.2,1057.8 913.9,1058.8 914.6,1057.4 915.3,1058.9 916,1058.3 916.7,1054.6 917.4,1055 918.1,1056 918.8,1055.7 919.5,1055.2 920.2,1054 920.9,1054 921.6,1053.8 922.3,1052.7 923,1053.2 923.7,1049.8 924.4,1052 925,1050.1 925.1,1052 925.8,1051.9 926.5,1052.2 927.2,1054.3 927.9,1054 928.6,1055 929.3,1055.3 930,1057.6 930.7,1059 931.4,1060.5 932.1,1060.3 932.5,1061.9 932.8,1060.7 933.5,1059.9 934.2,1059.8 934.9,1059.6 935.6,1057.6 936.3,1057 937,1056.4 937.5,1056.1 937.7,1055.5 938.4,1058.1 939.1,1057.8 939.8,1059.5 940.5,1059.2 941.2,1061.2 941.9,1062.2 942.6,1062.4 943.3,1065.5 944,1064.9 944.7,1067.1 945.4,1067.3 946.1,1066.8 946.8,1067.9 947.5,1069.6 948.2,1070.2 948.9,1071.1 949.6,1071.7 950,1070.9 950.3,1072.3 951,1070.4 951.7,1072.6 952.4,1071.5 953.1,1071.5 953.8,1071.8 954.5,1072.2 955.2,1070.6 955.9,1070.2 956.6,1070.7 957.3,1069.7 958,1070.6 958.7,1072.8 959.4,1070.4 960.1,1071.8 960.8,1069.9 961.5,1071.3 962.2,1070.7 962.9,1070.8 963.6,1071.3 964.3,1072.3 965,1070.8 965.7,1070.6 966.4,1069.6 967.1,1070.9 967.8,1070.1 968.5,1070.9 969.2,1070.1 969.9,1071.6 970,1068.2 970.6,1070.2 971.3,1071.8 972,1071.2 972.7,1071.3 973.4,1072.3 974.1,1071.8 974.8,1073.7 975.5,1076.3 976.2,1075.7 976.9,1074.2 977.6,1074.9 978.3,1075.9 979,1077.7 979.7,1076.5 980,1076.9 980.4,1078.4 981.1,1078.7 981.8,1077.8 982.5,1077.4 983.2,1077.3 983.9,1078.3 984.6,1077.2 985.3,1080.2 986,1079.2 986.7,1080.4 987.4,1082 988.1,1081.6 988.8,1079.8 989.5,1081.8 990.2,1082.4 990.9,1080.9 991.6,1081 992.3,1082 993,1080.9 993.7,1084 994.4,1080.7 995.1,1082.2 995.8,1083.2 996.5,1083.5 997.2,1084.1 997.9,1084.5 998.6,1084.3 999.3,1085.8 1000,1083.1 1000,1085 1000.7,1084 1001.4,1084.4 1002.1,1084.1 1002.8,1082.7 1003.5,1082.6 1004.2,1083.5 1004.9,1082.7 1005.6,1081.4 1006.3,1083.5 1007,1083.3 1007.5,1079.7 1007.7,1081.5 1008.4,1084.2 1009.1,1083.3 1009.8,1083.5 1010.5,1083.8 1011.2,1084.2 1011.9,1085.2 1012.6,1085.6 1013.3,1087.5 1014,1087.1 1014.7,1087.8 1015.4,1087.8 1016.1,1089.6 1016.8,1089.5 1017.5,1090.8 1018.2,1092.6 1018.9,1092.7 1019.6,1093.6 1020.3,1094.1 1021,1094.6 1021.7,1095.1 1022.4,1095.6 1022.5,1096.7 1023.1,1095.1 1023.8,1097.5 1024.5,1096.4 1025.2,1095.9 1025.9,1096.2 1026.6,1096.2 1027.3,1097.1 1028,1096.5 1028.7,1098.3 1029.4,1096.7 1030.1,1095.5 1030.8,1097 1031.5,1096 1032.2,1097.9 1032.9,1099 1033.6,1098.8 1034.3,1097.2 1035,1097.8 1035.7,1100.2 1036.4,1099.1 1037.1,1098.9 1037.8,1100 1038.5,1101.4 1039.2,1100.5 1039.9,1099.6 1040.6,1099.9 1041.3,1100.3 1042,1099.3 1042.5,1099 1042.7,1100.1 1043.4,1099.4 1044.1,1100.4 1044.8,1100.7 1045.5,1102.9 1046.2,1100.2 1046.9,1101.1 1047.6,1101.2 1048.3,1101.9 1049,1102.7 1049.7,1101.5 1050.4,1101.4 1051.1,1100.8 1051.8,1101.6 1052.5,1103.1 1053.2,1102.9 1053.9,1102.1 1054.6,1102.9 1055.3,1103.4 1056,1104.1 1056.7,1103.3 1057.4,1103.7 1058.1,1102.5 1058.8,1103.3 1059.5,1106 1060.2,1102.8 1060.9,1104.6 1061.6,1105.3 1062.3,1104.9 1063,1104.7 1063.7,1105.6 1064.4,1105.8 1065.1,1106 1065.8,1104.5 1066.5,1106.3 1067.2,1105.8 1067.9,1106.3 1068.6,1107.2 1069.3,1107.7 1070,1108.1 1070.7,1107.1 1071.4,1108.5 1072.1,1108.9 1072.8,1109.1 1073.5,1109.5 1074.2,1108.3 1074.9,1108.5 1075.6,1109.6 1076.3,1107.8 1077,1109.4 1077.7,1108.9 1078.4,1109.2 1079.1,1108.2 1079.8,1109.1 1080,1110 1080.5,1110.8 1081.2,1111 1081.9,1110.1 1082.6,1110 1083.3,1109.5 1084,1110.7 1084.7,1110.2 1085.4,1111 1086.1,1112.1 1086.8,1110.5 1087.5,1109.3 1088.2,1109.9 1088.9,1109.4 1089.6,1109.7 1090.3,1112 1091,1111.1 1091.7,1109.6 1092.4,1111.6 1093.1,1112.2 1093.8,1110.8 1094.5,1110.6 1095.2,1110.9 1095.9,1111.5 1096.6,1111.9 1097.3,1112.4 1098,1112.5 1098.7,1112.6 1099.4,1112.8 1100.1,1112.2 1100.8,1110.3 1101.5,1111.6 1102.2,1112.1 1102.9,1111.5 1103.6,1112.7 1104.3,1111.6 1105,1111.2 1105.7,1113.4 1106.4,1112.7 1107.1,1112.4 1107.8,1113.1 1108.5,1113.2 1109.2,1112.6 1109.9,1110.2 1110.6,1111.8 1111.3,1112.1 1112,1111.7 1112.7,1112.8 1113.4,1113.7 1114.1,1112.3 1114.8,1111.8 1115.5,1114.7 1116.2,1112.5 1116.9,1111.8 1117.6,1113.2 1118.3,1113.4 1119,1112.5 1119.7,1113.9 1120.4,1112.8 1121.1,1112.5 1121.8,1113.5 1122.5,1114.1 1123.2,1112.9 1123.9,1113.8 1124.6,1113.5 1125.3,1116.2 1126,1113 1126.7,1115 1127.4,1113.7 1128.1,1113.7 1128.8,1114.6 1129.5,1114.8 1130,1115.1 1130.2,1114.4 1130.9,1113.9 1131.6,1114.3 1132.3,1115.6 1133,1116 1133.7,1117.1 1134.4,1116.6 1135.1,1117.5 1135.8,1118.3 1136.5,1117.4 1137.2,1116.3 1137.9,1116.9 1138.6,1117 1139.3,1120.1 1140,1118.2 1140.7,1120.5 1141.4,1120.2 1142.1,1121.6 1142.8,1121.3 1143.5,1120.7 1144.2,1120.9 1144.9,1121.5 1145.6,1122 1146.3,1121.7 1147,1122.5 1147.7,1124.3 1148.4,1121.7 1149.1,1123.8 1149.8,1123.1 1150,1124.2 1150.5,1124.6 1151.2,1123.5 1151.9,1123.9 1152.6,1121.5 1153.3,1123.7 1154,1121.9 1154.7,1122.7 1155.4,1122 1156.1,1119.2 1156.8,1120.6 1157.5,1121.2 1158.2,1122.1 1158.9,1120.7 1159.6,1120.4 1160.3,1118.6 1161,1120.9 1161.7,1120.9 1162.4,1119.1 1162.5,1118.8 1163.1,1117.7 1163.8,1120.2 1164.5,1122.1 1165.2,1120.6 1165.9,1121.3 1166.6,1120.9 1167.3,1119.8 1168,1122.1 1168.7,1120 1169.4,1121.2 1170.1,1121.9 1170.8,1122.6 1171.5,1122.5 1172.2,1122.7 1172.9,1121.9 1173.6,1121.6 1174.3,1123.1 1175,1122.6 1175.7,1122.3 1176.4,1122.6 1177.1,1123.6 1177.8,1122.6 1178.5,1123.3 1179.2,1123.3 1179.9,1125.1 1180,1125.4 1180.6,1126.8 1181.3,1123.7 1182,1124.5 1182.7,1126 1183.4,1125 1184.1,1124.9 1184.8,1126.8 1185.5,1125 1186.2,1124.3 1186.9,1124.2 1187.6,1125.7 1188.3,1125.7 1189,1124.2 1189.7,1124.6 1190.4,1126 1191.1,1126.1 1191.8,1125 1192.5,1126.2 1193.2,1126.2 1193.9,1124.1 1194.6,1125.4 1195.3,1126.1 1196,1125.3 1196.7,1123.9 1197.4,1125.6 1198.1,1126.6 1198.8,1127.4 1199.5,1124 1200.2,1128.4 1200.9,1125 1201.6,1126.9 1202.3,1127.2 1203,1127 1203.7,1126.3 1204.4,1125.2 1205.1,1126.8 1205.8,1125.6 1206.5,1124.1 1207.2,1128.9 1207.9,1127 1208.6,1128.1 1209.3,1125.6 1210,1127.8 1210.7,1128 1211.4,1128 1212.1,1126.6 1212.8,1125.6 1213.5,1126.5 1214.2,1124.7 1214.9,1125.2 1215.6,1126.9 1216.3,1125.9 1217,1126.7 1217.7,1126.8 1218.4,1128.7 1219.1,1128.1 1219.8,1126.9 1220.5,1128.1 1221.2,1126.4 1221.9,1126.8 1222.6,1127.9 1223.3,1126 1224,1126.9 1224.7,1126 1225.4,1127.4 1226.1,1128.8 1226.8,1126.7 1227.5,1127.6 1228.2,1126.6 1228.9,1126.4 1229.6,1126.4 1230,1128.8 1230.3,1129.6 1231,1127.8 1231.7,1126.7 1232.4,1127.9 1233.1,1126.9 1233.8,1127.8 1234.5,1127.3 1235.2,1127.2 1235.9,1127.5 1236.6,1126.3 1237.3,1126.4 1238,1125.2 1238.7,1126.2 1239.4,1125.3 1240.1,1126.4 1240.8,1125.6 1241.5,1126.4 1242.2,1126.7 1242.9,1124.9 1243.6,1125.4 1244.3,1125.2 1245,1126.7 1245.7,1127.5 1246.4,1126.6 1247.1,1125.5 1247.8,1127 1248.5,1124.3 1249.2,1126.9 1249.9,1124.9 1250.6,1122.9 1251.3,1127.8 1252,1126.7 1252.7,1124.3 1253.4,1125.3 1254.1,1124.9 1254.8,1125.1 1255,1123.7 1255.5,1124.5 1256.2,1125.7 1256.9,1125.7 1257.6,1126.7 1258.3,1125.9 1259,1128.1 1259.7,1125.5 1260.4,1126.5 1261.1,1124.7 1261.8,1125.5 1262.5,1128 1263.2,1126.1 1263.9,1127.6 1264.6,1127.2 1265.3,1126.5 1266,1127.3 1266.7,1127.3 1267.4,1127.5 1268.1,1128.8 1268.8,1128.9 1269.5,1128 1270.2,1127.8 1270.9,1129.1 1271.6,1128.9 1272.3,1130.1 1273,1131.7 1273.7,1130.2 1274.4,1129.6 1275.1,1129.7 1275.8,1129.2 1276.5,1129.3 1277.2,1129.4 1277.9,1130.1 1278.6,1130.3 1279.3,1131.5 1280,1130.6 1280,1130.8 1280.7,1130 1281.4,1132.6 1282.1,1131.6 1282.8,1132.8 1283.5,1132 1284.2,1132.7 1284.9,1131.2 1285.6,1132.1 1286.3,1133.9 1287,1130.5 1287.7,1132.7 1288.4,1133.2 1289.1,1132.1 1289.8,1132.5 1290.5,1133 1291.2,1131.3 1291.9,1132.3 1292.6,1131.2 1293.3,1131.4 1294,1131.6 1294.7,1132 1295.4,1132.4 1296.1,1132.7 1296.8,1131 1297.5,1134.2 1298.2,1133.5 1298.9,1133.2 1299.6,1132.2 1300.3,1132.5 1301,1133.2 1301.7,1133.1 1302.4,1131.2 1303.1,1133.5 1303.8,1135.6 1304.5,1131.3 1305.2,1133.9 1305.9,1133.4 1306.6,1133 1307.3,1134.5 1308,1132.1 1308.7,1133.4 1309.4,1134.7 1310.1,1133.2 1310.8,1133.1 1311.5,1133.6 1312.2,1133.2 1312.9,1135.1 1313.6,1132.8 1314.3,1134.6 1315,1132.6 1315.7,1134.5 1316.4,1133.8 1317.1,1131.6 1317.8,1134 1318.5,1133.1 1319.2,1133.7 1319.9,1135.6 1320.6,1133.2 1321.3,1133.3 1322,1135.7 1322.7,1134.5 1323.4,1135.9 1324.1,1134.8 1324.8,1133.8 1325.5,1134.6 1326.2,1135.8 1326.9,1135.6 1327.6,1134.8 1328.3,1134.9 1329,1134.8 1329.7,1134.4 1330,1136.8 1330.4,1135.1 1331.1,1134.1 1331.8,1134.8 1332.5,1136 1333.2,1136 1333.9,1135.3 1334.6,1134.9 1335.3,1135.7 1336,1134.2 1336.7,1134.6 1337.4,1136.6 1338.1,1135.5 1338.8,1136.4 1339.5,1137.3 1340.2,1136.8 1340.9,1136.3 1341.6,1138.4 1342.3,1137.1 1343,1136.2 1343.7,1137.3 1344.4,1137.1 1345.1,1136 1345.8,1137 1346.5,1136.8 1347.2,1135.2 1347.9,1137 1348.6,1137 1349.3,1136.9 1350,1135.9 1350.7,1137.2 1351.4,1137.5 1352.1,1137.7 1352.8,1136.7 1353.5,1138.4 1354.2,1136.8 1354.9,1137.8 1355.6,1139.3 1356.3,1137.5 1357,1137.8 1357.7,1139.3 1358.4,1138.1 1359.1,1138.2 1359.8,1138.8 1360.5,1139.6 1361.2,1136.7 1361.9,1138.1 1362.6,1138 1363.3,1138 1364,1138.3 1364.7,1138.4 1365.4,1139.5 1366.1,1138.5 1366.8,1139.5 1367.5,1139.9 1368.2,1138.9 1368.9,1139.8 1369.6,1141.3 1370.3,1140.1 1371,1139.3 1371.7,1139.9 1372.4,1139.2 1373.1,1140.4 1373.8,1141.1 1374.5,1139.6 1375.2,1140.2 1375.9,1141.5 1376.6,1140.1 1377.3,1140.8 1378,1139.8 1378.7,1140.1 1379.4,1140.5 1380,1143 1380.1,1140.6 1380.8,1140.6 1381.5,1140.6 1382.2,1141 1382.9,1141.8 1383.6,1141.5 1384.3,1143.2 1385,1141.6 1385.7,1142.8 1386.4,1141.8 1387.1,1142.1 1387.8,1140.3 1388.5,1141.6 1389.2,1141.7 1389.9,1141.6 1390.6,1139.9 1391.3,1142.7 1392,1141.6 1392.7,1141.6 1393.4,1141.8 1394.1,1141.9 1394.8,1142.6 1395.5,1141.1 1396.2,1141.5 1396.9,1142.6 1397.6,1142.5 1398.3,1142.1 1399,1142 1399.7,1141.8 1400.4,1142.6 1401.1,1143.8 1401.8,1141.8 1402.5,1144.2 1403.2,1143.6 1403.9,1142.5 1404.6,1143.7 1405.3,1141.7 1406,1141.5 1406.7,1142 1407.4,1142.8 1408.1,1143 1408.8,1142.8 1409.5,1143.4 1410.2,1141.5 1410.9,1143.9 1411.6,1142.3 1412.3,1143 1413,1143.3 1413.7,1142.7 1414.4,1142.5 1415.1,1142.9 1415.8,1143.9 1416.5,1144.5 1417.2,1144.5 1417.9,1143.1 1418.6,1143.4 1419.3,1143.3 1420,1144.6 1420.7,1142.4 1421.4,1145.4 1422.1,1143.9 1422.8,1143.7 1423.5,1144.8 1424.2,1145.5 1424.9,1144.9 1425.6,1145.6 1426.3,1144.8 1427,1145.9 1427.7,1145.9 1428.4,1144.8 1429.1,1146.2 1429.8,1145.1 1430,1145.1 1430.5,1144.2 1431.2,1144.8 1431.9,1145.8 1432.6,1144 1433.3,1145.8 1434,1145.6 1434.7,1145.5 1435.4,1143.3 1436.1,1145.3 1436.8,1146 1437.5,1144.8 1438.2,1145.6 1438.9,1143.4 1439.6,1146.2 1440.3,1145 1441,1146.4 1441.7,1144 1442.4,1146.4 1443.1,1145.6 1443.8,1146.6 1444.5,1145 1445.2,1145.4 1445.9,1148 1446.6,1145.2 1447.3,1145.4 1448,1145.8 1448.7,1145.2 1449.4,1147.2 1450.1,1147.8 1450.8,1145.6 1451.5,1144.7 1452.2,1147.4 1452.9,1147.4 1453.6,1147.2 1454.3,1147.5 1455,1145.7 1455.7,1146.4 1456.4,1145.3 1457.1,1145.3 1457.8,1147.6 1458.5,1146.1 1459.2,1148.8 1459.9,1146.9 1460.6,1146.3 1461.3,1147.6 1462,1148.5 1462.7,1147.4 1463.4,1145.9 1464.1,1147.4 1464.8,1148.3 1465.5,1146.7 1466.2,1146.5 1466.9,1148.1 1467.6,1147.4 1468.3,1146.3 1469,1147 1469.7,1146.7 1470.4,1147.7 1471.1,1147.6 1471.8,1148.5 1472.5,1148.2 1473.2,1146.2 1473.9,1148 1474.6,1148.5 1475.3,1148.1 1476,1148.7 1476.7,1147.3 1477.4,1147 1478.1,1148.7 1478.8,1147 1479.5,1146 1480.2,1148.9 1480.9,1147.4 1481.6,1147.8 1482.3,1146.9 1483,1147 1483.7,1147.2 1484.4,1147.9 1485.1,1148.6 1485.8,1146.3 1486.5,1149.1 1487.2,1147.4 1487.9,1147.5 1488.6,1149.1 1489.3,1148.5 1490,1147.2 1490.7,1150.3 1491.4,1147.9 1492.1,1148.9 1492.8,1148.9 1493.5,1150.1 1494.2,1148.4 1494.9,1149.8 1495.6,1148.3 1496.3,1150 1497,1148.3 1497.7,1148.7 1498.4,1150.8 1499.1,1149.4 1499.8,1149.3 1500.5,1151.2 1501.2,1149.6 1501.9,1148.6 1502.6,1150 1503.3,1148.3 1504,1150.5 1504.7,1150.6 1505.4,1149 1506.1,1149 1506.8,1149.8 1507.5,1149.7 1508.2,1148.8 1508.9,1150.2 1509.6,1147.9 1510.3,1149.4 1511,1149.5 1511.7,1149.7 1512.4,1150.2 1513.1,1148.9 1513.8,1150.6 1514.5,1149.9 1515.2,1149.5 1515.9,1148.9 1516.6,1149.1 1517.3,1150.6 1518,1149.4 1518.7,1150.4 1519.4,1151.3 1520.1,1151.3 1520.8,1151.9 1521.5,1150.2 1522.2,1149.6 1522.9,1151.5 1523.6,1150.9 1524.3,1151.7 1525,1150.7 1525.7,1151.8 1526.4,1151.5 1527.1,1151.5 1527.8,1151.3 1528.5,1151.3 1529.2,1151.2 1529.9,1151.2 1530,1151.9 1530.6,1150.6 1531.3,1152.6 1532,1151 1532.7,1152.1 1533.4,1151.1 1534.1,1151 1534.8,1153.1 1535.5,1151.1 1536.2,1150.3 1536.9,1150.8 1537.6,1151.2 1538.3,1153.5 1539,1151.8 1539.7,1152.5 1540.4,1150.8 1541.1,1152 1541.8,1152.4 1542.5,1153.4 1543.2,1151.2 1543.9,1152.4 1544.6,1152.2 1545.3,1151.1 1546,1152 1546.7,1151.8 1547.4,1150 1548.1,1152.7 1548.8,1152.7 1549.5,1151.9 1550.2,1151.1 1550.9,1153.7 1551.6,1152.6 1552.3,1153.4 1553,1153.8 1553.7,1152.1 1554.4,1153.3 1555.1,1152.4 1555.8,1152.6 1556.5,1152.6 1557.2,1152.8 1557.9,1153.8 1558.6,1153 1559.3,1152.8 1560,1152.7 1560.7,1153.3 1561.4,1152.2 1562.1,1152.6 1562.8,1153.1 1563.5,1152.7 1564.2,1153.1 1564.9,1152.7 1565.6,1155.1 1566.3,1154.6 1567,1153.8 1567.7,1153.4 1568.4,1155.5 1569.1,1153.8 1569.8,1153.5 1570.5,1153.9 1571.2,1154 1571.9,1155 1572.6,1153.8 1573.3,1155.7 1574,1153.1 1574.7,1154.5 1575.4,1153 1576.1,1155.6 1576.8,1153.7 1577.5,1154 1578.2,1155 1578.9,1155.3 1579.6,1153.2 1580.3,1154 1581,1153.1 1581.7,1154.5 1582.4,1154.3 1583.1,1154.1 1583.8,1153.9 1584.5,1154.2 1585.2,1153.9 1585.9,1155.1 1586.6,1156 1587.3,1153 1588,1154.7 1588.7,1154.4 1589.4,1155.3 1590.1,1154 1590.8,1154.8 1591.5,1154.1 1592.2,1155.7 1592.9,1155.2 1593.6,1155 1594.3,1155.5 1595,1155 1595.7,1153.9 1596.4,1155.9 1597.1,1155.6 1597.8,1155.3 1598.5,1156.3 1599.2,1156.6 1599.9,1154.6 1600.6,1154.9 1601.3,1157 1602,1157 1602.7,1155.1 1603.4,1154.7 1604.1,1155.2 1604.8,1155.4 1605.5,1154.5 1606.2,1156 1606.9,1154.8 1607.6,1155 1608.3,1156.9 1609,1155.5 1609.7,1156.1 1610.4,1156.8 1611.1,1157 1611.8,1156 1612.5,1156.4 1613.2,1155.7 1613.9,1158 1614.6,1157.1 1615.3,1155.6 1616,1156.6 1616.7,1157.3 1617.4,1157.1 1618.1,1158.4 1618.8,1158 1619.5,1156.3 1620.2,1156.8 1620.9,1155.8 1621.6,1157.2 1622.3,1157.1 1623,1159.5 1623.7,1157.2 1624.4,1155.3 1625.1,1156.6 1625.8,1157.3 1626.5,1156.1 1627.2,1156.5 1627.9,1157 1628.6,1157.7 1629.3,1157.3 1630,1156.7 1630,1158.2 1630.7,1157 1631.4,1157.1 1632.1,1156.3 1632.8,1156.9 1633.5,1158.2 1634.2,1156.2 1634.9,1157.6 1635.6,1158.3 1636.3,1157.4 1637,1158 1637.7,1156.8 1638.4,1159 1639.1,1158.8 1639.8,1158.1 1640.5,1156.3 1641.2,1157 1641.9,1158.8 1642.6,1159.5 1643.3,1158.2 1644,1159.1 1644.7,1157.5 1645.4,1157.9 1646.1,1158.1 1646.8,1158.5 1647.5,1156.7 1648.2,1159 1648.9,1159.4 1649.6,1157.2 1650.3,1157 1651,1158.6 1651.7,1157.7 1652.4,1156.2 1653.1,1159 1653.8,1158.5 1654.5,1157.9 1655.2,1160.3 1655.9,1158.5 1656.6,1157.8 1657.3,1158.5 1658,1157.5 1658.7,1157.8 1659.4,1158.9 1660.1,1158.1 1660.8,1158.2 1661.5,1160.1 1662.2,1159.4 1662.9,1159.4 1663.6,1159.2 1664.3,1159.1 1665,1160 1665.7,1158.7 1666.4,1160.4 1667.1,1157.9 1667.8,1158.6 1668.5,1157.6 1669.2,1158.6 1669.9,1159.4 1670.6,1160.2 1671.3,1158.3 1672,1159 1672.7,1158.7 1673.4,1158.4 1674.1,1158 1674.8,1159.1 1675.5,1157.5 1676.2,1159.2 1676.9,1159.2 1677.6,1158.6 1678.3,1158.3 1679,1158 1679.7,1160.9 1680.4,1158.1 1681.1,1160.7 1681.8,1159.9 1682.5,1159 1683.2,1158.3 1683.9,1160.3 1684.6,1161 1685.3,1158.6 1686,1159.2 1686.7,1160.4 1687.4,1159.8 1688.1,1161.3 1688.8,1159 1689.5,1160.1 1690.2,1158.5 1690.9,1161.5 1691.6,1159 1692.3,1157.7 1693,1159.6 1693.7,1159.6 1694.4,1161.5 1695.1,1159.5 1695.8,1159.8 1696.5,1160.4 1697.2,1161.3 1697.9,1159.8 1698.6,1160.8 1699.3,1160.4 1700,1159.7 1700.7,1160 1701.4,1160 1702.1,1159.2 1702.8,1161.1 1703.5,1158.8 1704.2,1161.2 1704.9,1161 1705.6,1160.1 1706.3,1159.5 1707,1160 1707.7,1160.6 1708.4,1160.9 1709.1,1160.5 1709.8,1161.2 1710.5,1159.8 1711.2,1160.6 1711.9,1159 1712.6,1161.1 1713.3,1160.6 1714,1160.1 1714.7,1161.5 1715.4,1161.1 1716.1,1158 1716.8,1160.6 1717.5,1159.3 1718.2,1161.5 1718.9,1162.9 1719.6,1160.2 1720.3,1160.7 1721,1160.5 1721.7,1161 1722.4,1161.3 1723.1,1161.9 1723.8,1159.9 1724.5,1162.2 1725.2,1160 1725.9,1161.1 1726.6,1161.9 1727.3,1161.5 1728,1160.1 1728.7,1160.3 1729.4,1160.6 1730,1161 1730.1,1162 1730.8,1159.9 1731.5,1161.5 1732.2,1161.6 1732.9,1161.6 1733.6,1161.6 1734.3,1162.5 1735,1161.6 1735.7,1162 1736.4,1161.8 1737.1,1162.9 1737.8,1159.6 1738.5,1162.5 1739.2,1161.1 1739.9,1161.1 1740.6,1160.6 1741.3,1159.8 1742,1161.1 1742.7,1160.9 1743.4,1162 1744.1,1160.2 1744.8,1162.9 1745.5,1161.9 1746.2,1161.4 1746.9,1161 1747.6,1161 1748.3,1160.7 1749,1161.3 1749.7,1161.8 1750.4,1161.7 1751.1,1160.6 1751.8,1161.6 1752.5,1161.1 1753.2,1162.1 1753.9,1163.6 1754.6,1162.5 1755.3,1161.7 1756,1160.6 1756.7,1160.8 1757.4,1160.6 1758.1,1162.8 1758.8,1161.5 1759.5,1162.2 1760.2,1161.6 1760.9,1162.3 1761.6,1163.5 1762.3,1161.7 1763,1162 1763.7,1161.6 1764.4,1163.2 1765.1,1161.5 1765.8,1161.4 1766.5,1161.2 1767.2,1161.2 1767.9,1162.9 1768.6,1164.9 1769.3,1161.7 1770,1163.5 1770.7,1162.9 1771.4,1161.7 1772.1,1162.4 1772.8,1162.5 1773.5,1162.1 1774.2,1164.5 1774.9,1161.1 1775.6,1163.2 1776.3,1163.2 1777,1162.4 1777.7,1163 1778.4,1163.7 1779.1,1163.1 1779.8,1163.4 1780.5,1163.6 1781.2,1161.2 1781.9,1164.4 1782.6,1165.2 1783.3,1164 1784,1164.1 1784.7,1161.9 1785.4,1163.1 1786.1,1162.5 1786.8,1162.7 1787.5,1164.2 1788.2,1162.6 1788.9,1163.2 1789.6,1161.7 1790.3,1163.3 1791,1163.5 1791.7,1162.8 1792.4,1162.8 1793.1,1165.2 1793.8,1162.5 1794.5,1162.6 1795.2,1162.9 1795.9,1164.7 1796.6,1165.6 1797.3,1164 1798,1163.1 1798.7,1163.4 1799.4,1164.7 1800.1,1163 1800.8,1165.1 1801.5,1165.1 1802.2,1164 1802.9,1164.5 1803.6,1164.6 1804.3,1165.4 1805,1163.1 1805.7,1165.1 1806.4,1163.7 1807.1,1163.4 1807.8,1164.2 1808.5,1163.9 1809.2,1163.3 1809.9,1162.8 1810.6,1163.4 1811.3,1165.6 1812,1166 1812.7,1164.9 1813.4,1165.4 1814.1,1163.9 1814.8,1164.3 1815.5,1164.7 1816.2,1163.5 1816.9,1163.6 1817.6,1164.6 1818.3,1164.2 1819,1163.6 1819.7,1164.9 1820.4,1164.4 1821.1,1165.6 1821.8,1164.7 1822.5,1164.4 1823.2,1164.8 1823.9,1164.6 1824.6,1164.2 1825.3,1164.5 1826,1165.5 1826.7,1165.4 1827.4,1166.1 1828.1,1163.4 1828.8,1164.6 1829.5,1164.6 1830,1165.2 1830.2,1164.6 1830.9,1164.6 1831.6,1165.7 1832.3,1165.2 1833,1164 1833.7,1166.3 1834.4,1166 1835.1,1164.6 1835.8,1165.8 1836.5,1164.4 1837.2,1166.1 1837.9,1164.9 1838.6,1164.4 1839.3,1164.8 1840,1164.5 1840.7,1165.3 1841.4,1165.3 1842.1,1165.2 1842.8,1164.7 1843.5,1161.9 1844.2,1165.3 1844.9,1163.5 1845.6,1165.4 1846.3,1166.3 1847,1165.5 1847.7,1164.9 1848.4,1165.1 1849.1,1165.2 1849.8,1164.8 1850.5,1164.8 1851.2,1164.5 1851.9,1166.4 1852.6,1165.3 1853.3,1166.2 1854,1165.1 1854.7,1165.4 1855.4,1165.2 1856.1,1165.8 1856.8,1166.1 1857.5,1165.6 1858.2,1164.8 1858.9,1164.7 1859.6,1166.9 1860.3,1165.2 1861,1165.2 1861.7,1166.8 1862.4,1166.4 1863.1,1166 1863.8,1165.1 1864.5,1167.6 1865.2,1165.9 1865.9,1166 1866.6,1165.4 1867.3,1164.3 1868,1164.3 1868.7,1165.9 1869.4,1165.9 1870.1,1165.4 1870.8,1164.5 1871.5,1164.3 1872.2,1165.3 1872.9,1164.3 1873.6,1166.4 1874.3,1166.7 1875,1168.2 1875.7,1166.4 1876.4,1165.1 1877.1,1164.9 1877.8,1162.6 1878.5,1165.2 1879.2,1165.5 1879.9,1166.6 1880.6,1166.3 1881.3,1166.3 1882,1165.9 1882.7,1166.3 1883.4,1167.1 1884.1,1164.8 1884.8,1165.4 1885.5,1164.5 1886.2,1167.3 1886.9,1167 1887.6,1166.5 1888.3,1164.8 1889,1166 1889.7,1165.6 1890.4,1165.9 1891.1,1165.7 1891.8,1166.4 1892.5,1165.5 1893.2,1166.7 1893.9,1166.1 1894.6,1165.7 1895.3,1165.8 1896,1165.5 1896.7,1166.7 1897.4,1165.7 1898.1,1166.2 1898.8,1165.6 1899.5,1164.7 1900,1166.8" fill="none" stroke="#e23030" stroke-width="2.7" stroke-linejoin="round" stroke-linecap="round"/><path d="M286,1281.7 286.7,1282.1 287.4,1282 288.1,1283.2 288.8,1280.5 289.5,1283.2 290.2,1282.1 290.9,1284.3 291.6,1284.3 292.3,1284.8 293,1283.8 293.7,1282.6 294.4,1283.7 295.1,1284.4 295.8,1281.5 296.5,1283 297.2,1282.1 297.9,1283.9 298.6,1280.8 299.3,1281.4 300,1282.1 300.7,1281.9 301.4,1279.3 302.1,1281.8 302.8,1281 303.5,1280.8 304.2,1280.8 304.9,1281.1 305.6,1278.4 306.3,1282.6 307,1279.4 307.7,1277.5 308.4,1280.2 309.1,1282 309.8,1279.4 310.5,1281.9 311.2,1281.8 311.9,1278.6 312.6,1276.4 313.3,1277.8 314,1280.9 314.7,1278.2 315.4,1277.1 316.1,1277.2 316.8,1278.9 317.5,1278.7 318.2,1279.8 318.9,1279.8 319.6,1277.2 320.3,1278.1 321,1276.7 321.7,1278.1 322.4,1276.4 323.1,1276.3 323.8,1280.5 324.5,1277.6 325,1278.3 325.2,1280.8 325.9,1278.4 326.6,1277.1 327.3,1277.3 328,1276.1 328.7,1278.4 329.4,1276.5 330.1,1279.1 330.8,1276.3 331.5,1276.2 332.2,1276 332.9,1277.3 333.6,1276.6 334.3,1278 335,1275.4 335.7,1276.5 336.4,1278.5 337.1,1275.6 337.8,1276.5 338.5,1277.7 339.2,1276.3 339.9,1274.7 340.6,1272.7 341.3,1278.4 342,1275.8 342.7,1276.8 343.4,1274.4 344.1,1277.3 344.8,1275.5 345.5,1274.8 346.2,1273.5 346.9,1275.1 347.6,1273.9 348.3,1274.1 349,1272.2 349.7,1273.6 350.4,1274.3 351.1,1272.4 351.8,1274 352.5,1274.7 353.2,1273.3 353.9,1272.8 354.6,1272.7 355.3,1274.7 356,1271.4 356.7,1272.9 357.4,1272.6 358.1,1273.3 358.8,1272.9 359.5,1271.5 360.2,1275.5 360.9,1272.9 361.6,1270.9 362.3,1271.4 362.5,1272.6 363,1273.2 363.7,1270.6 364.4,1273.1 365.1,1270.3 365.8,1271 366.5,1273 367.2,1274 367.9,1271.6 368.6,1271.2 369.3,1273.2 370,1270 370.7,1271.7 371.4,1271.5 372.1,1272.4 372.8,1271.4 373.5,1270.5 374.2,1271.6 374.9,1269.2 375.6,1271.6 376.3,1269.6 377,1269.2 377.7,1269.8 378.4,1270.2 379.1,1271 379.8,1269.7 380.5,1270.8 381.2,1271 381.9,1269.5 382.6,1268.3 383.3,1270.6 384,1269.7 384.7,1266.5 385.4,1267.9 386.1,1269.2 386.8,1267.2 387.5,1267.9 388.2,1266.5 388.9,1269.2 389.6,1268.8 390.3,1268.7 391,1270.2 391.7,1267.8 392.4,1267.7 393.1,1270.6 393.8,1266.2 394.5,1268.8 395.2,1266 395.9,1267.9 396.6,1270.2 397.3,1267.7 398,1266.3 398.7,1270.3 399.4,1266.4 400,1266.7 400.1,1267.3 400.8,1264.7 401.5,1267.3 402.2,1267.5 402.9,1265.8 403.6,1264.7 404.3,1263.6 405,1264.4 405.7,1258.6 406,1262.3 406.4,1261.9 407.1,1257.4 407.8,1258.9 408.5,1256.6 409.2,1255.1 409.9,1253.6 410.6,1252.6 411.3,1250.9 412,1247.3 412.5,1247.3 412.7,1246.5 413.4,1243.9 414.1,1240.3 414.8,1239.6 415.5,1237.2 416.2,1234.7 416.9,1232.4 417.6,1229 418.3,1223.7 419,1220.7 419.7,1218.2 420.4,1216.6 421.1,1212.9 421.8,1211.6 422.5,1209.6 422.5,1206.9 423.2,1210.5 423.9,1210.5 424.6,1211.1 425.3,1212.9 426,1215.8 426.7,1215.5 427.4,1220.4 427.5,1222 428.1,1223.3 428.8,1230 429.5,1238 430.2,1242.1 430.9,1247.5 431.6,1252.5 432.3,1259.7 432.5,1260.4 433,1259 433.7,1257.9 434.4,1258.2 435.1,1263.1 435.8,1262.6 436.5,1265.4 437.2,1264.8 437.9,1263.1 438.6,1265.8 439.3,1267.5 440,1265.4 440.7,1266.6 441,1269.8 441.4,1265 442.1,1265.5 442.8,1267.9 443.5,1266.4 444.2,1264.3 444.9,1263.5 445.6,1265.6 446.3,1266.2 447,1265.4 447.7,1264.4 448.4,1265.5 449.1,1263.6 449.8,1261.7 450.5,1265.1 451.2,1260.4 451.9,1261.5 452.6,1261.2 453.3,1262.8 454,1259.5 454.7,1259.8 455,1257.7 455.4,1260 456.1,1259.3 456.8,1258.8 457.5,1255.9 458.2,1256.7 458.9,1254.4 459.6,1254.1 460.3,1253.8 461,1254.8 461.7,1251.8 462.4,1251.8 463.1,1249.6 463.8,1249.3 463.8,1249.1 464.5,1250.7 465.2,1252.8 465.9,1251.3 466.6,1254.5 467.3,1253.2 468,1255.8 468.7,1255.5 469.4,1256.7 470.1,1257.5 470.8,1260.3 471.5,1260.1 472.2,1262 472.5,1260.5 472.9,1260.7 473.6,1263.1 474.3,1258.8 475,1259.8 475.7,1260.7 476.4,1263.3 477.1,1260.2 477.8,1262 478.5,1263 479.2,1260.7 479.9,1260.7 480.6,1263.1 481.3,1260.2 482,1259.6 482.7,1262 483.4,1260.3 484.1,1262.7 484.8,1261.7 485.5,1258.7 486.2,1261.3 486.9,1261 487.6,1260.1 488.3,1262.4 489,1258.7 489.7,1259.3 490.4,1260.3 491.1,1262 491.8,1259 492.5,1260.1 493.2,1260 493.9,1259 494.6,1260.5 495.3,1259.5 496,1260.4 496.7,1261.3 497.4,1259.8 498.1,1259.8 498.8,1259.7 499.5,1259.8 500,1258.9 500.2,1259.3 500.9,1260.7 501.6,1259 502.3,1264.1 503,1258.4 503.7,1259.8 504.4,1256.9 505.1,1258.1 505.8,1257.4 506.5,1257.7 507.2,1259.2 507.9,1256.9 508.6,1255.2 509.3,1256.6 510,1254.9 510.7,1255.7 511.4,1257.6 512.1,1256.4 512.5,1256.4 512.8,1255.8 513.5,1255.4 514.2,1253.7 514.9,1255.3 515.6,1255.5 516.3,1257.4 517,1258.1 517.7,1257.7 518.4,1256.3 519.1,1260 519.8,1259.8 520.5,1257.9 521.2,1258.7 521.9,1259.6 522.6,1259.2 523.3,1259.2 524,1260.2 524.7,1259.9 525,1260.3 525.4,1257.8 526.1,1257.6 526.8,1261.8 527.5,1257.4 528.2,1259.8 528.9,1259.4 529.6,1259.1 530.3,1257.8 531,1259.8 531.7,1258.8 532.4,1257.7 533.1,1256.1 533.8,1257.5 534.5,1256.8 535,1255.9 535.2,1257.4 535.9,1255.6 536.6,1253.8 537.3,1250.8 538,1248.2 538.7,1247.9 539.4,1245.3 540.1,1245.2 540.8,1240.9 541.5,1236.8 542.2,1237.2 542.5,1238.1 542.9,1233 543.6,1228.2 544.3,1223.5 545,1222.5 545.7,1215.6 546.4,1211.3 547.1,1207.8 547.5,1203.2 547.8,1203.5 548.5,1199.4 549.2,1198.1 549.9,1196.1 550.6,1193.9 551.3,1189.3 552,1188.1 552.7,1183.8 553.4,1179.3 554.1,1179.4 554.8,1175.6 555,1175.2 555.5,1174.7 556.2,1182.6 556.9,1186.8 557.6,1191 558.3,1196.2 559,1198.6 559.7,1206.1 560.4,1208.4 561.1,1212.4 561.8,1212.7 562.5,1217.5 562.5,1222.1 563.2,1223.7 563.9,1227.4 564.6,1228.7 565.3,1232.1 566,1236.1 566.7,1237.3 567.4,1243.1 568.1,1243 568.8,1247.7 569.5,1250.1 570,1253.1 570.2,1254.4 570.9,1251.7 571.6,1254.1 572.3,1254 573,1255.3 573.7,1254.5 574.4,1254.2 575.1,1255.9 575.8,1257.3 576.5,1257 577.2,1256.5 577.9,1257.2 578.6,1255 579.3,1256.6 580,1257.4 580,1257 580.7,1256.6 581.4,1257.4 582.1,1257.8 582.8,1259.7 583.5,1256.1 584.2,1255.7 584.9,1258 585.6,1256.8 586.3,1255.3 587,1258.3 587.7,1255.9 588.4,1255.6 589.1,1255.1 589.8,1254.5 590.5,1255.7 591.2,1254.2 591.9,1258.5 592.5,1255.6 592.6,1254.8 593.3,1253.7 594,1254.6 594.7,1255.1 595.4,1253.7 596.1,1251.5 596.8,1252.3 597.5,1249.9 598.2,1253.6 598.9,1252.2 599.6,1251.2 600.3,1250.8 601,1249.3 601.7,1249.4 602.4,1250.5 603.1,1248.7 603.8,1249.1 604.5,1248.2 605,1247.9 605.2,1247.2 605.9,1244.9 606.6,1240.1 607.3,1238.2 608,1233.1 608.7,1230.2 609.4,1226.9 610,1226.3 610.1,1224.2 610.8,1222.1 611.5,1215.1 612.2,1212.9 612.9,1206.8 613.6,1205.7 614.3,1199.2 615,1196.7 615.7,1191.1 616.4,1186.9 617.1,1184.2 617.8,1177.5 618.5,1174.2 619.2,1173.6 619.9,1166.5 620.6,1164.5 621,1160 621.3,1160.1 622,1164.3 622.7,1168.6 623.4,1170 624.1,1172.2 624.8,1176.3 625.5,1176.8 626.2,1181.3 626.9,1183.3 627.5,1183.8 627.6,1186.8 628.3,1190.1 629,1191.4 629.7,1195 630.4,1197.5 631.1,1199.5 631.8,1205.1 632.5,1205.8 633.2,1210.9 633.8,1211.9 633.9,1210.9 634.6,1211.1 635.3,1208.8 636,1209 636.7,1204.6 637.4,1203 638.1,1201.1 638.8,1198.7 639.5,1198.9 640.2,1197.3 640.9,1194.3 641.6,1190.2 642.3,1190.3 642.5,1189.2 643,1189.8 643.7,1190.1 644.4,1195 645.1,1197.1 645.8,1197.7 646.5,1199.6 647.2,1203 647.9,1205 648.6,1204.5 649.3,1202.2 650,1208.6 650,1207.8 650.7,1210.7 651.4,1211.4 652.1,1212.9 652.8,1217.1 653.5,1218.2 654.2,1220.9 654.9,1223.5 655.6,1225.3 656.3,1225.5 657,1230.3 657.5,1230.5 657.7,1229.9 658.4,1227.3 659.1,1221.5 659.8,1219.7 660.5,1214.3 661.2,1212.6 661.9,1210.4 662.6,1206.4 663.3,1202.9 664,1200.6 664.7,1196 665,1193 665.4,1193 666.1,1185.8 666.8,1180.4 667.5,1172.8 668.2,1166.7 668.9,1160.2 669.6,1152.6 670.3,1148.5 671,1142.2 671.7,1139 672.4,1128.4 672.5,1130 673.1,1126.3 673.8,1122.5 674.5,1118.5 675.2,1115 675.9,1111.9 676.6,1104.7 677.3,1103.9 678,1098.5 678,1097.6 678.7,1099.4 679.4,1102.4 680.1,1107.6 680.8,1109.1 681.5,1112.1 682.2,1115.8 682.9,1119.4 683.6,1121.7 684.3,1123.8 685,1127.4 685.7,1130.9 686,1131 686.4,1135.2 687.1,1138.4 687.8,1141.3 688.5,1142 689.2,1144.8 689.9,1146.8 690.6,1152.6 691,1151.8 691.3,1154.2 692,1146.3 692.7,1146.8 693.4,1144.8 694.1,1141.7 694.8,1140 695.5,1139.4 696.2,1134.4 696.9,1133.1 697.5,1129.4 697.6,1126.4 698.3,1113.4 699,1102.5 699.7,1088.6 700,1080.6 700.4,1069.7 701.1,1046.9 701.8,1023.7 702.5,1001.4 702.5,998.1 703.2,989.5 703.9,980.2 704.6,972.5 705.3,964.8 706,953.4 706.3,950.4 706.7,949.5 707.4,944.9 708.1,943.7 708.8,939.8 708.8,942.5 709.5,944.8 710.2,945.1 710.9,947.7 711.3,952.4 711.6,955 712.3,971.9 713,984.2 713.7,997.5 713.8,1002.3 714.4,1017.9 715.1,1034.7 715.8,1054.4 716.5,1072.4 717.2,1090.8 717.5,1099.9 717.9,1108.3 718.6,1117.1 719.3,1131.5 720,1141 720.7,1154.8 721,1158.2 721.4,1159.6 722.1,1162.8 722.8,1167.3 723.5,1169.4 724.2,1170.5 724.9,1172.6 725.6,1175.5 726.3,1181.3 727,1180.4 727.7,1182.2 728.4,1184 729.1,1186.6 729.8,1190.1 730,1190.7 730.5,1189.2 731.2,1198.3 731.9,1199.4 732.6,1202 733.3,1208.9 734,1206.6 734.7,1210.3 735.4,1216.6 736.1,1218.5 736.8,1222.9 737.5,1226.6 737.5,1227.4 738.2,1226.4 738.9,1225.2 739.6,1224.4 740.3,1227.3 741,1225.3 741.7,1228.2 742.4,1227.6 743.1,1229.7 743.8,1230.6 744.5,1230.2 745.2,1229 745.9,1231.5 746.6,1230.9 747.3,1232.7 747.5,1231.9 748,1234.5 748.7,1229.4 749.4,1226.2 750.1,1226.1 750.8,1226 751.5,1228.1 752.2,1224.9 752.9,1220.9 753.6,1220.3 754.3,1217.3 755,1215.6 755.7,1217.3 756.4,1215.2 757.1,1212.3 757.5,1211.5 757.8,1211.3 758.5,1207.7 759.2,1201.8 759.9,1196.6 760.6,1196.1 761.3,1190 762,1184.6 762.7,1182.8 763.4,1179.3 764.1,1176.3 764.8,1170.5 765,1170.3 765.5,1167.7 766.2,1169.1 766.9,1165.6 767.6,1167.5 768.3,1166.1 769,1163 769.7,1163.3 770.4,1165.4 771.1,1161 771.8,1159.3 772.5,1160.2 773.2,1160 773.9,1159.9 774.6,1157.8 775,1156.9 775.3,1152.6 776,1143.2 776.7,1131.2 777.4,1121.4 778.1,1107.6 778.8,1099.5 778.8,1098.5 779.5,1081.3 780.2,1061.9 780.9,1042.9 781.6,1025.4 782.3,1005.5 782.5,1004.1 783,989.4 783.7,977.5 784.4,966.6 785.1,952 785.8,938.1 786.5,925.9 787.2,910.7 787.8,900.2 787.9,896.1 788.6,869.8 789.3,839.1 790,812.7 790,810 790.7,792.6 791.4,772.3 791.5,772.8 792.1,767.1 792.8,767.8 793.4,765.8 793.5,765.4 794.2,766 794.9,769.5 795.5,768.5 795.6,773.6 796.3,792.6 797,810 797,809.5 797.7,843.2 798.4,873.4 799,900 799.1,905.2 799.8,938.6 800.5,974.7 801,997.4 801.2,1002.6 801.9,1027.6 802.6,1051.2 803.3,1070.4 804,1094.2 804.7,1113.3 805,1124.9 805.4,1131 806.1,1141.5 806.8,1150.1 807.5,1163.2 808.2,1173.9 808.9,1184.2 809.6,1196.9 810,1199.5 810.3,1201.2 811,1204.9 811.7,1203.9 812.4,1206.8 813.1,1211.8 813.8,1212.2 814.5,1213.9 815.2,1218 815.9,1217.9 816.6,1222.2 817.3,1223 817.5,1224.1 818,1220.7 818.7,1223.3 819.4,1222.1 820.1,1220.4 820.8,1218.6 821.5,1218.6 822.2,1219.1 822.9,1217.1 823.6,1213.9 824.3,1214 825,1212.2 825,1213.2 825.7,1204.1 826.4,1199.8 827.1,1189.4 827.8,1181.8 828.5,1176.2 829.2,1170.6 829.9,1158.9 830,1160.1 830.6,1151.2 831.3,1142.7 832,1126.1 832.7,1118.3 833.4,1104.7 834.1,1094 834.8,1084.5 835,1080.1 835.5,1071.2 836.2,1062.9 836.9,1052.9 837.6,1043.9 838,1036.8 838.3,1035.9 839,1033.6 839.7,1031.2 840,1029.8 840.4,1032.2 841.1,1035.2 841.8,1037.6 842,1037.1 842.5,1043 843.2,1053.6 843.9,1063.7 844.6,1074 845,1081.2 845.3,1085.6 846,1097.7 846.7,1110.5 847.4,1125.4 848.1,1138.5 848.8,1150.7 849.5,1163.3 850,1174.5 850.2,1177.8 850.9,1186 851.6,1192.2 852.3,1201.9 852.5,1204.6 853,1204.6 853.7,1207.2 854.4,1207.9 855.1,1211.3 855.8,1210.6 856.5,1215 857.2,1215.6 857.9,1216.2 858.6,1217.5 859.3,1220.4 860,1219.5 860,1220.5 860.7,1221.5 861.4,1225.7 862.1,1225.2 862.8,1227.1 863.5,1225.9 864.2,1231.5 864.9,1232.6 865.6,1235.7 866.3,1234.9 867,1237.5 867.5,1241.7 867.7,1238.9 868.4,1239.8 869.1,1240.4 869.8,1238.9 870.5,1238.6 871.2,1239.7 871.9,1237.1 872.6,1238.2 873.3,1236.7 874,1235.3 874.7,1236.4 875.4,1237.8 876.1,1235.5 876.8,1234.4 877.5,1234.7 878.2,1234 878.9,1235 879.6,1232.6 880.3,1234.8 881,1233.8 881.7,1234.5 882.4,1232 882.5,1233.7 883.1,1230 883.8,1230.7 884.5,1228.2 885.2,1225.6 885.9,1226.7 886.6,1226.2 887.3,1225.2 888,1222.1 888.7,1219.8 889.4,1220.6 890,1216.3 890.1,1217.4 890.8,1213.3 891.5,1213.3 892.2,1211.5 892.9,1208.6 893.6,1208.4 894.3,1204.9 895,1203.6 895.7,1201.7 896.4,1198.8 897.1,1193.6 897.8,1194.4 898.5,1193.1 899.2,1189.5 899.5,1190.1 899.9,1189.8 900.6,1195.6 901.3,1198.7 902,1201.5 902.7,1203.4 903.4,1207.4 904.1,1208.5 904.8,1212.2 905.5,1216.8 906.2,1218.4 906.9,1222 907.5,1224.9 907.6,1226.6 908.3,1226.2 909,1228.2 909.7,1229.9 910.4,1230.5 911.1,1234.8 911.8,1233.7 912.5,1237.2 913.2,1241.8 913.9,1242 914.6,1240.9 915,1243.6 915.3,1247.2 916,1244.7 916.7,1247.6 917.4,1244.5 918.1,1242.1 918.8,1245.7 919.5,1245.1 920.2,1245.9 920.9,1244.2 921.6,1244.3 922.3,1245 923,1244.5 923.7,1247 923.8,1247.4 924.4,1239.6 925.1,1234.5 925.8,1225.8 926.5,1219.8 927.2,1211.5 927.9,1208.7 928.6,1199.8 929.3,1195.6 930,1189.1 930,1188.1 930.7,1178.7 931.4,1168 932.1,1161.5 932.8,1152.1 933.5,1143.7 934.2,1133.7 934.9,1122.6 935.6,1113.7 936,1111.2 936.3,1108.5 937,1097.7 937.7,1089.5 938.4,1081.6 939,1074.3 939.1,1074.1 939.8,1071.1 940.5,1069.4 941,1066.7 941.2,1067.9 941.9,1070.7 942.6,1071.7 943.3,1072.6 943.5,1074.4 944,1075.8 944.7,1080.9 945.4,1085 946.1,1091.2 946.8,1096.3 947.5,1099.5 947.5,1098.8 948.2,1115.6 948.9,1130.3 949.6,1142.9 950.3,1161.2 951,1176.2 951,1174.6 951.7,1177.6 952.4,1180.2 953.1,1182.4 953.8,1186.3 954.5,1187.5 955.2,1190.7 955.9,1194 956.6,1194.3 957.3,1198.5 957.5,1198.3 958,1200.3 958.7,1201.6 959.4,1203.4 960.1,1205.2 960.8,1205.1 961.5,1208.2 962.2,1207 962.9,1211.8 963.6,1211.9 964.3,1214.4 965,1212.3 965,1216.6 965.7,1214.7 966.4,1215.7 967.1,1215.7 967.8,1215.7 968.5,1215.4 969.2,1213.6 969.9,1218.1 970.6,1219.1 971.3,1216.1 972,1218.9 972.7,1218.6 973.4,1218.1 974.1,1217.7 974.8,1218.9 975.5,1217.5 976.2,1218.2 976.9,1218.2 977.6,1218.1 978.3,1218.6 979,1220.3 979.7,1220.7 980,1218.8 980.4,1220.2 981.1,1220.7 981.8,1219.4 982.5,1223.9 983.2,1221.7 983.9,1225.3 984.6,1221.5 985.3,1224.2 986,1226.9 986.7,1227.2 987.4,1228 988.1,1228 988.8,1231.4 989.5,1229.5 990.2,1230.6 990.9,1229.9 991.6,1230.5 992.3,1234 992.5,1234.3 993,1230.5 993.7,1232.8 994.4,1235.7 995.1,1234.8 995.8,1236.6 996.5,1233.6 997.2,1236.8 997.9,1237.1 998.6,1237.8 999.3,1237.5 1000,1238.9 1000.7,1241.8 1001.4,1238.7 1002.1,1240.6 1002.8,1240.9 1003.5,1241.6 1004.2,1244.9 1004.9,1245.2 1005.6,1243.2 1006.3,1245 1007,1243.9 1007.7,1246 1008.4,1245.6 1009.1,1248.7 1009.8,1247.9 1010,1246.1 1010.5,1245 1011.2,1245.6 1011.9,1249.6 1012.6,1245.4 1013.3,1244.5 1014,1245.3 1014.7,1245.3 1015.4,1246.5 1016.1,1244.5 1016.8,1247.4 1017.5,1245 1018.2,1245.2 1018.9,1246.4 1019.6,1244.6 1020.3,1244.5 1021,1244.7 1021.7,1242.7 1022.4,1242.7 1023.1,1244 1023.8,1241.9 1024.5,1241.9 1025,1243.7 1025.2,1242.9 1025.9,1241.2 1026.6,1237.8 1027.3,1240.5 1028,1236.3 1028.7,1234.7 1029.4,1233.5 1030.1,1231.2 1030.8,1230.6 1031.5,1232.1 1032.2,1226.1 1032.5,1230.4 1032.9,1225.9 1033.6,1225.2 1034.3,1227.5 1035,1227.5 1035.7,1223.8 1036.4,1224.7 1037.1,1221.9 1037.8,1221.7 1038.5,1220.5 1039.2,1220.9 1039.9,1219.2 1040.6,1219.5 1041.3,1218.2 1042,1217.9 1042.5,1217.5 1042.7,1216.9 1043.4,1218.7 1044.1,1219.1 1044.8,1222.7 1045.5,1224.4 1046.2,1224.3 1046.9,1225.8 1047.6,1226.9 1048.3,1228.4 1049,1230.6 1049.7,1229.6 1050.4,1231.3 1051.1,1234.7 1051.8,1237.1 1052.5,1236.5 1052.5,1238.4 1053.2,1239.2 1053.9,1238.7 1054.6,1242.1 1055.3,1239.6 1056,1240.6 1056.7,1239.5 1057.4,1240.3 1058.1,1242.3 1058.8,1243.6 1059.5,1243.1 1060,1243.8 1060.2,1243.8 1060.9,1243.9 1061.6,1239.9 1062.3,1242.4 1063,1239.5 1063.7,1240.5 1064.4,1240.1 1065.1,1236.5 1065.8,1239.1 1066.5,1236.9 1067.2,1235.4 1067.5,1238.1 1067.9,1234.6 1068.6,1235.3 1069.3,1238.4 1070,1239.6 1070.7,1239.7 1071.4,1241.7 1072.1,1238.8 1072.8,1244.1 1073.5,1243.9 1074.2,1243.2 1074.9,1244 1075.6,1247.1 1076.3,1247.9 1077,1247.5 1077.7,1249.4 1078.4,1250.2 1079.1,1252.5 1079.8,1250.8 1080,1253.6 1080.5,1251.8 1081.2,1250.8 1081.9,1250.5 1082.6,1248.3 1083.3,1246.1 1084,1244.9 1084.7,1247.4 1085.4,1242.9 1086.1,1245.6 1086.8,1242.4 1087.5,1243.8 1088.2,1240.2 1088.9,1240.9 1089.6,1239.8 1090.3,1239.7 1091,1237.2 1091.7,1237.4 1092.4,1237.9 1093.1,1233.2 1093.8,1235.3 1094.5,1231.7 1095,1233.7 1095.2,1232.1 1095.9,1235.2 1096.6,1233.7 1097.3,1234.1 1098,1236.8 1098.7,1235.8 1099.4,1236.6 1100.1,1238.8 1100.8,1240.1 1101.5,1240.1 1102.2,1237.2 1102.9,1240.8 1103.6,1241.5 1104.3,1242.9 1105,1243.9 1105,1243.8 1105.7,1241.5 1106.4,1241.8 1107.1,1237.3 1107.8,1235 1108.5,1232.5 1109.2,1232 1109.9,1231.8 1110.6,1229.2 1111.3,1229.3 1112,1225.8 1112.7,1223.4 1113.4,1224.4 1114.1,1220.5 1114.8,1220.6 1115.5,1214.5 1116.2,1214 1116.9,1213.4 1117.5,1211.3 1117.6,1213.1 1118.3,1214 1119,1215.4 1119.7,1215.1 1120.4,1216.3 1121.1,1217.8 1121.8,1221.7 1122.5,1220.5 1123.2,1223.3 1123.9,1222.2 1124.6,1222.5 1125,1225.2 1125.3,1227.4 1126,1226.7 1126.7,1230.9 1127.4,1235.1 1128.1,1236.6 1128.8,1239.3 1129.5,1243.4 1130.2,1245.3 1130.9,1248 1131.6,1249.8 1132.3,1253.6 1132.5,1253.3 1133,1255.2 1133.7,1248.6 1134.4,1252 1135.1,1252 1135.8,1249 1136.5,1250.2 1137.2,1247.7 1137.9,1248.7 1138.6,1249.2 1139.3,1245.9 1140,1248.3 1140.7,1244.6 1141.4,1240.7 1142.1,1242.5 1142.8,1242.4 1143.5,1241.7 1144.2,1240.6 1144.9,1240.3 1145.6,1238.7 1146.3,1239.9 1147,1237.8 1147.7,1236.4 1148.4,1238.2 1149.1,1233.3 1149.8,1231.7 1150,1233.1 1150.5,1231.4 1151.2,1236.5 1151.9,1236.5 1152.6,1240.7 1153.3,1237.9 1154,1238.6 1154.7,1242.2 1155.4,1243.2 1156.1,1244.3 1156.8,1243.8 1157.5,1244.9 1158.2,1247.5 1158.9,1247.6 1159.6,1249.7 1160.3,1251.5 1161,1250.8 1161.7,1253 1162.4,1250.8 1163.1,1256.5 1163.8,1257.5 1164.5,1256.8 1165.2,1257.4 1165.9,1259 1166,1259.3 1166.6,1258.7 1167.3,1257.6 1168,1258.5 1168.7,1259.4 1169.4,1255 1170.1,1256.5 1170.8,1255.7 1171.5,1255 1172.2,1256.1 1172.9,1253 1173.6,1254.9 1174.3,1256.3 1175,1256 1175.7,1255.4 1176.4,1254.6 1177.1,1254.9 1177.8,1253.7 1178.5,1253.9 1179.2,1253.9 1179.9,1254.5 1180,1253.9 1180.6,1253.8 1181.3,1250.9 1182,1253.3 1182.7,1253.3 1183.4,1252.5 1184.1,1252 1184.8,1254.4 1185.5,1253.8 1186.2,1253.4 1186.9,1252.5 1187.6,1253.1 1188.3,1253.5 1189,1254.7 1189.7,1256.6 1190.4,1254.9 1191.1,1252.1 1191.8,1255.4 1192.5,1255.6 1192.5,1253.7 1193.2,1252.4 1193.9,1253.2 1194.6,1253.3 1195.3,1252 1196,1252.6 1196.7,1249.5 1197.4,1248.8 1198.1,1246.7 1198.8,1248.2 1199.5,1246.3 1200.2,1245.9 1200.9,1241.3 1201.6,1241.1 1202.3,1243 1203,1242.4 1203.7,1240.2 1204.4,1239.4 1205.1,1239.9 1205.8,1237 1206.5,1237.2 1207.2,1235 1207.5,1235.1 1207.9,1237.1 1208.6,1234.1 1209.3,1235.6 1210,1233.6 1210.7,1237.6 1211.4,1237.7 1212.1,1241.5 1212.8,1237.5 1213.5,1238.6 1214.2,1240 1214.9,1239.7 1215.6,1238.8 1216.3,1241 1217,1236.2 1217.5,1240.5 1217.7,1239.2 1218.4,1240.3 1219.1,1241.1 1219.8,1244 1220.5,1243.3 1221.2,1246 1221.9,1249.2 1222.6,1247.1 1223.3,1249.3 1224,1249.5 1224.7,1249.7 1225.4,1253.3 1226.1,1255.2 1226.8,1253.9 1227.5,1255.9 1228.2,1256.8 1228.9,1257.1 1229.6,1260.3 1230,1257.2 1230.3,1261.4 1231,1257.8 1231.7,1259.8 1232.4,1257.2 1233.1,1255.5 1233.8,1252.4 1234.5,1251.9 1235.2,1253.6 1235.9,1250.8 1236.6,1251.9 1237.3,1248.1 1238,1250.2 1238.7,1247.9 1239.4,1247.4 1240.1,1244.8 1240.8,1244.4 1241.5,1244.7 1242.2,1243.3 1242.9,1240.8 1243.6,1241.4 1244.3,1238.2 1245,1241.8 1245.7,1239 1246.4,1236.6 1247.1,1235.9 1247.5,1234.4 1247.8,1236.1 1248.5,1233 1249.2,1237.1 1249.9,1240 1250.6,1235.6 1251.3,1239.1 1252,1238.8 1252.7,1239.8 1253.4,1239.1 1254.1,1242.5 1254.8,1240.1 1255.5,1243.6 1256.2,1244.4 1256.9,1243.8 1257.6,1244.9 1258.3,1242.2 1259,1244.4 1259.7,1242.6 1260.4,1247.3 1261.1,1248.5 1261.8,1245.7 1262.5,1248.5 1263.2,1248.5 1263.9,1246.9 1264.6,1249.5 1265.3,1250.6 1266,1252.4 1266.7,1251.5 1267.4,1253.1 1267.5,1254.9 1268.1,1253.6 1268.8,1250.7 1269.5,1252.1 1270.2,1253.3 1270.9,1254.3 1271.6,1251.4 1272.3,1251.6 1273,1250.9 1273.7,1252.1 1274.4,1250.3 1275.1,1250.1 1275.8,1247.2 1276.5,1247.6 1277.2,1245.6 1277.9,1246.1 1278.6,1247.4 1279.3,1248.1 1280,1247.7 1280.7,1246.5 1281.4,1248.4 1282.1,1243.6 1282.8,1244.8 1283.5,1246.5 1284.2,1244.7 1284.9,1244.1 1285.6,1244.8 1286.3,1242.2 1287,1241.9 1287.7,1242 1288.4,1244.5 1289.1,1240.1 1289.8,1240.6 1290.5,1244 1291.2,1241.2 1291.9,1240 1292.5,1237.6 1292.6,1240.4 1293.3,1240.8 1294,1242.8 1294.7,1241.1 1295.4,1242 1296.1,1244.7 1296.8,1243.1 1297.5,1247.1 1298.2,1245.5 1298.9,1247 1299.6,1246.4 1300.3,1250.1 1301,1247.8 1301.7,1251 1302.4,1249.3 1303.1,1251.2 1303.8,1250.2 1304.5,1253.1 1305,1254.6 1305.2,1251.8 1305.9,1254.8 1306.6,1252.5 1307.3,1251.3 1308,1252.5 1308.7,1251.5 1309.4,1252.3 1310.1,1251.2 1310.8,1249.7 1311.5,1253.3 1312.2,1251.9 1312.9,1251 1313.6,1252.1 1314.3,1249.4 1315,1250.8 1315.7,1252 1316.4,1252.8 1317.1,1251.1 1317.8,1251.9 1318.5,1248.4 1319.2,1250.5 1319.9,1251.6 1320.6,1252.1 1321.3,1248.7 1322,1252.3 1322.7,1253.3 1323.4,1250.3 1324.1,1247.6 1324.8,1250.7 1325.5,1250.6 1326.2,1249 1326.9,1251.3 1327.6,1251.8 1328.3,1248 1329,1247.8 1329.7,1249.4 1330,1250.6 1330.4,1247.7 1331.1,1248.8 1331.8,1250 1332.5,1249.8 1333.2,1251.1 1333.9,1253.3 1334.6,1251.3 1335.3,1254 1336,1253.6 1336.7,1253.8 1337.4,1252.8 1338.1,1255.5 1338.8,1256.5 1339.5,1255.2 1340.2,1258.1 1340.9,1258.7 1341,1257.7 1341.6,1255.4 1342.3,1255.4 1343,1255.7 1343.7,1254.6 1344.4,1252.3 1345.1,1251.1 1345.8,1251.3 1346.5,1250.1 1347.2,1249.6 1347.9,1245.7 1348.6,1246 1349.3,1246.2 1350,1243.1 1350,1244.2 1350.7,1242.7 1351.4,1244.6 1352.1,1244.7 1352.8,1241.9 1353.5,1245.3 1354.2,1243 1354.9,1241.1 1355.6,1241.8 1356.3,1240.2 1357,1241.8 1357.7,1239.9 1358.4,1238.6 1359.1,1239 1359.8,1237.3 1360.5,1235.6 1361.2,1236.3 1361.9,1238.6 1362.5,1236.8 1362.6,1238.2 1363.3,1238.2 1364,1240 1364.7,1241.6 1365.4,1243.5 1366.1,1242.3 1366.8,1243.7 1367.5,1246.1 1367.5,1248.1 1368.2,1246.6 1368.9,1246.2 1369.6,1246.5 1370.3,1246.6 1371,1246.3 1371.7,1248.5 1372.4,1250 1373.1,1248.2 1373.8,1246.1 1374.5,1245.9 1375.2,1251 1375.9,1246.4 1376.6,1252 1377.3,1249.8 1378,1249.2 1378.7,1250.7 1379.4,1249.9 1380,1252.2 1380.1,1249.3 1380.8,1249.6 1381.5,1247.8 1382.2,1248.5 1382.9,1248.2 1383.6,1244.7 1384.3,1243.6 1385,1246.3 1385.7,1245.4 1386.4,1244.2 1387.1,1242 1387.8,1240.7 1388.5,1240.2 1389,1241 1389.2,1240.1 1389.9,1241.3 1390.6,1244.3 1391.3,1247.2 1392,1248.8 1392.7,1247.8 1393.4,1250.2 1394.1,1250.5 1394.8,1251.6 1395.5,1252.2 1396.2,1252.7 1396.9,1254 1397.6,1256.2 1398.3,1259 1399,1256.6 1399.7,1258.8 1400,1258.5 1400.4,1260.3 1401.1,1261.4 1401.8,1257.7 1402.5,1254.2 1403.2,1255.3 1403.9,1256.2 1404.6,1251.3 1405.3,1248.2 1406,1247.4 1406.7,1249.5 1407.4,1245.2 1407.5,1249.5 1408.1,1244.7 1408.8,1248.1 1409.5,1247.1 1410.2,1250.4 1410.9,1250.2 1411.6,1251 1412.3,1251.6 1413,1250 1413.7,1251.7 1414.4,1250.8 1415.1,1252 1415.8,1253.2 1416.5,1252.9 1417.2,1252 1417.9,1252.6 1418.6,1253.2 1419.3,1253.8 1420,1254.2 1420.7,1258 1421.4,1257.7 1422.1,1257.5 1422.8,1259.4 1423.5,1258.7 1424.2,1257.8 1424.9,1260.4 1425,1259.7 1425.6,1255.8 1426.3,1261.1 1427,1257.5 1427.7,1254.9 1428.4,1258.6 1429.1,1256.5 1429.8,1256.1 1430.5,1257.4 1431.2,1256.2 1431.9,1255 1432.6,1254.4 1433.3,1253.8 1434,1253 1434.7,1251 1435.4,1253.8 1436.1,1251.9 1436.8,1251.3 1437.5,1252 1437.5,1250.1 1438.2,1250.7 1438.9,1252.5 1439.6,1251.5 1440.3,1250.6 1441,1251 1441.7,1256.5 1442.4,1252.2 1443.1,1256.2 1443.8,1252.5 1444.5,1254.3 1445.2,1253.5 1445.9,1252.8 1446.6,1254.2 1447.3,1257.7 1447.5,1253.9 1448,1254 1448.7,1256.4 1449.4,1255 1450.1,1255.8 1450.8,1255.4 1451.5,1259.2 1452.2,1259.3 1452.9,1255.7 1453.6,1260.3 1454.3,1259.6 1455,1260.3 1455.7,1260 1456.4,1261.8 1457.1,1262.8 1457.8,1261.4 1458.5,1263 1459.2,1263.4 1459.9,1262.9 1460.6,1263.8 1461.3,1264.9 1462,1266.7 1462.5,1265 1462.7,1265.9 1463.4,1267.1 1464.1,1267.4 1464.8,1263.5 1465.5,1265.6 1466.2,1264.8 1466.9,1264.3 1467.6,1263.9 1468.3,1266.9 1469,1265.9 1469.7,1264 1470.4,1264.4 1471.1,1264 1471.8,1263.7 1472.5,1264.9 1473.2,1263 1473.9,1264.4 1474.6,1261.4 1475.3,1263.5 1476,1262.9 1476.7,1262.1 1477.4,1263.3 1478.1,1262.8 1478.8,1262 1479.5,1264 1480.2,1262 1480.9,1261.7 1481.6,1261.1 1482.3,1263.1 1483,1262.8 1483.7,1258.3 1484.4,1260 1485.1,1261.5 1485.8,1262.2 1486.5,1261.4 1487.2,1260.5 1487.9,1262.4 1488.6,1259.7 1489.3,1260.3 1490,1260 1490,1260.2 1490.7,1259.2 1491.4,1260.4 1492.1,1262 1492.8,1262.8 1493.5,1262.9 1494.2,1262.8 1494.9,1262.2 1495.6,1263.7 1496.3,1263.2 1497,1263.7 1497.7,1264.5 1498.4,1263.2 1499.1,1265.3 1499.8,1266.4 1500.5,1263.2 1501.2,1265.2 1501.9,1265.5 1502.6,1268.4 1503.3,1266.8 1504,1267.8 1504.7,1268.4 1505,1266.5 1505.4,1265.8 1506.1,1268.9 1506.8,1269 1507.5,1268.3 1508.2,1268.2 1508.9,1266.1 1509.6,1265.9 1510.3,1266.8 1511,1267.5 1511.7,1266.2 1512.4,1266.1 1513.1,1267 1513.8,1268.4 1514.5,1264.1 1515.2,1265.8 1515.9,1264 1516.6,1263.5 1517.3,1267.3 1518,1264.4 1518.7,1266.1 1519.4,1267 1520.1,1266.3 1520.8,1264 1521.5,1265.7 1522.2,1265 1522.9,1264.1 1523.6,1264.5 1524.3,1264.1 1525,1266 1525.7,1264.6 1526.4,1264 1527.1,1264.9 1527.8,1264.8 1528.5,1265 1529.2,1265.4 1529.9,1263 1530,1263.3 1530.6,1265.9 1531.3,1264 1532,1266.3 1532.7,1263 1533.4,1266.4 1534.1,1265.8 1534.8,1267.1 1535,1268 1535.5,1264.6 1536.2,1264.8 1536.9,1266.4 1537.6,1264.5 1538.3,1265.9 1539,1265.3 1539.7,1263.4 1540.4,1265.6 1541.1,1264.9 1541.8,1264.2 1542.5,1262.5 1543.2,1262.1 1543.9,1260.6 1544.6,1259.3 1545.3,1261.1 1546,1262.1 1546.7,1260.5 1547.4,1261.2 1548.1,1259.3 1548.8,1259 1549.5,1258.6 1550.2,1260.4 1550.9,1256.9 1551.6,1257.1 1552.3,1258.6 1552.5,1258.8 1553,1258.6 1553.7,1261.6 1554.4,1258.4 1555.1,1259 1555.8,1258.6 1556.5,1259.4 1557.2,1262.5 1557.9,1261.9 1558.6,1260.5 1559.3,1263.1 1560,1260.6 1560.7,1264.5 1561.4,1262.1 1562.1,1264 1562.8,1261.6 1563.5,1264 1564.2,1263.6 1564.9,1264.2 1565.6,1264.8 1566.3,1263.1 1567,1263.6 1567.5,1267.8 1567.7,1264.5 1568.4,1263.1 1569.1,1266.5 1569.8,1265.9 1570.5,1266.1 1571.2,1265.3 1571.9,1266.8 1572.6,1267.1 1573.3,1265.6 1574,1266.4 1574.7,1263.3 1575.4,1265.5 1576.1,1264.6 1576.8,1264.3 1577.5,1267 1578.2,1262.9 1578.9,1266 1579.6,1263.9 1580.3,1267.1 1581,1265.8 1581.7,1266.8 1582.4,1265.3 1583.1,1263.7 1583.8,1268.7 1584.5,1265.3 1585.2,1264.1 1585.9,1266.9 1586.6,1268.2 1587.3,1265.5 1588,1264.8 1588.7,1266.3 1589.4,1266.6 1590.1,1266.7 1590.8,1265 1591.5,1265.4 1592.2,1266 1592.9,1268 1593.6,1267 1594.3,1264.6 1595,1265.9 1595.7,1266.4 1596.4,1264.5 1597.1,1261.4 1597.8,1265.4 1598.5,1264.5 1599.2,1265.5 1599.9,1265.7 1600.6,1265.4 1601.3,1265.2 1602,1266.6 1602.7,1264.6 1603.4,1263.2 1604.1,1262.1 1604.8,1265.8 1605,1263.3 1605.5,1264.5 1606.2,1264.4 1606.9,1264.9 1607.6,1264.5 1608.3,1263 1609,1262.5 1609.7,1264.2 1610.4,1258.7 1611.1,1260.8 1611.8,1259.5 1612.5,1259.9 1612.5,1262.5 1613.2,1259.6 1613.9,1258.8 1614.6,1258.6 1615.3,1260.6 1616,1259.9 1616.7,1259.6 1617.4,1262.6 1618.1,1264 1618.8,1260.7 1619.5,1260.4 1620.2,1262.5 1620.9,1261.3 1621.6,1263 1622.3,1263.5 1623,1262.9 1623.7,1262.6 1624.4,1261.3 1625.1,1264 1625.8,1264.4 1626.5,1261.1 1627.2,1262.3 1627.9,1263.9 1628.6,1263.7 1629.3,1265.1 1630,1262.4 1630.7,1263.5 1631.4,1263.9 1632.1,1264.1 1632.8,1265.7 1633.5,1265.4 1634.2,1266.4 1634.9,1264.6 1635.6,1264.1 1636.3,1266 1637,1265.6 1637.7,1263.7 1638.4,1263.8 1639.1,1265.8 1639.8,1266.9 1640.5,1264.4 1641.2,1268.2 1641.9,1266.8 1642.5,1266.2 1642.6,1267.7 1643.3,1266.3 1644,1264.4 1644.7,1265.8 1645.4,1267.6 1646.1,1267.7 1646.8,1266 1647.5,1266.5 1648.2,1266.7 1648.9,1264.3 1649.6,1265.9 1650.3,1266.1 1651,1268.1 1651.7,1265.4 1652.4,1268.2 1653.1,1267 1653.8,1267.1 1654.5,1265 1655,1269.6 1655.2,1270.5 1655.9,1265.3 1656.6,1266.6 1657.3,1264 1658,1266.9 1658.7,1266.9 1659.4,1266.9 1660.1,1264.6 1660.8,1269.1 1661.5,1267.4 1662.2,1263.8 1662.9,1264.9 1663.6,1265.4 1664.3,1265.5 1665,1267.8 1665.7,1263.9 1666.4,1264.5 1667.1,1264.7 1667.8,1264.6 1668.5,1264.7 1669.2,1265.1 1669.9,1266.9 1670.6,1266.2 1671.3,1264.8 1672,1262.2 1672.7,1262.7 1673.4,1262.6 1674.1,1263.5 1674.8,1262 1675.5,1262.5 1676.2,1264.4 1676.9,1264.8 1677.6,1262.7 1678.3,1264.8 1679,1258.9 1679.7,1262.5 1680.4,1261.6 1681.1,1263.3 1681.8,1262 1682.5,1262.3 1683.2,1262.5 1683.9,1261.5 1684.6,1262.4 1685.3,1260.8 1686,1259.7 1686.7,1260.3 1687.4,1261.3 1687.5,1260.3 1688.1,1260.2 1688.8,1259.1 1689.5,1260.4 1690.2,1262.7 1690.9,1262.6 1691.6,1263.4 1692.3,1262 1693,1262.5 1693.7,1264 1694.4,1261.8 1695.1,1267.5 1695.8,1262.4 1696.5,1264.8 1697.2,1266.4 1697.9,1263.5 1698.6,1261.3 1699.3,1262.9 1700,1262.2 1700.7,1262.3 1701.4,1268.1 1702.1,1267.1 1702.8,1267.2 1703.5,1265.1 1704.2,1266.6 1704.9,1266.1 1705.6,1266.6 1706.3,1266.9 1707,1268.9 1707.7,1268.2 1708.4,1268.2 1709.1,1267.9 1709.8,1266.2 1710.5,1269.3 1711.2,1269 1711.9,1271.6 1712.6,1266.9 1713.3,1268.3 1714,1269.9 1714.7,1270.6 1715.4,1271 1716.1,1270.4 1716.8,1270 1717.5,1271.1 1717.5,1273.4 1718.2,1272.1 1718.9,1269 1719.6,1269.7 1720.3,1267.9 1721,1268.5 1721.7,1271.1 1722.4,1271.5 1723.1,1268.6 1723.8,1270.3 1724.5,1267.5 1725.2,1270.3 1725.9,1268.2 1726.6,1268.3 1727.3,1267.3 1728,1267.4 1728.7,1270.5 1729.4,1268.4 1730.1,1268.5 1730.8,1267 1731.5,1266.9 1732.2,1266.6 1732.9,1265.7 1733.6,1267.7 1734.3,1265.2 1735,1267.3 1735.7,1268.1 1736.4,1267.1 1737.1,1264.4 1737.8,1267.8 1738.5,1264.3 1739.2,1264.9 1739.9,1264.3 1740,1263.8 1740.6,1263.9 1741.3,1264.9 1742,1265.8 1742.7,1266.3 1743.4,1264.4 1744.1,1268.7 1744.8,1267.3 1745.5,1267.4 1746.2,1267.7 1746.9,1268.8 1747.6,1268.7 1748.3,1268.7 1749,1267.5 1749.7,1269.8 1750.4,1269.2 1751.1,1269.5 1751.8,1269.3 1752.5,1270.5 1753.2,1270.9 1753.9,1271 1754.6,1273.1 1755,1272.2 1755.3,1271.1 1756,1271.6 1756.7,1268.7 1757.4,1272 1758.1,1270.1 1758.8,1269.6 1759.5,1271.4 1760.2,1269.1 1760.9,1271.4 1761.6,1269.5 1762.3,1268.4 1763,1270 1763.7,1271.3 1764.4,1269.3 1765.1,1270.9 1765.8,1269.8 1766.5,1269.9 1767.2,1271.1 1767.9,1269.8 1768.6,1273.4 1769.3,1269.2 1770,1268.3 1770.7,1266.8 1771.4,1267.7 1772.1,1269.2 1772.8,1266.8 1773.5,1267.2 1774.2,1269.6 1774.9,1268.6 1775.6,1267.6 1776.3,1266.5 1777,1267.7 1777.7,1268.4 1778.4,1268.2 1779.1,1268.2 1779.8,1268 1780.5,1267.8 1781.2,1268.8 1781.9,1269.5 1782.6,1269.1 1783.3,1267.4 1784,1269.2 1784.7,1268.7 1785.4,1268.6 1786.1,1268.7 1786.8,1268.7 1787.5,1266.3 1788.2,1267.7 1788.9,1267.1 1789.6,1266.1 1790,1271.4 1790.3,1267.1 1791,1266.6 1791.7,1268.4 1792.4,1267.5 1793.1,1267.2 1793.8,1268.3 1794.5,1269 1795.2,1268.7 1795.9,1269.3 1796.6,1267.2 1797.3,1267.2 1798,1270.4 1798.7,1267.2 1799.4,1269.4 1800.1,1268.2 1800.8,1267 1801.5,1269.7 1802.2,1270.1 1802.9,1266 1803.6,1268.1 1804.3,1269.4 1805,1266.7 1805.7,1270.1 1806.4,1266.6 1807.1,1271.5 1807.8,1268.3 1808.5,1269.9 1809.2,1268 1809.9,1271.7 1810.6,1269.4 1811.3,1268.9 1812,1270.4 1812.7,1269.9 1813.4,1266.6 1814.1,1269.6 1814.8,1270.8 1815.5,1269.4 1816.2,1271 1816.9,1270.5 1817.6,1271.9 1818.3,1270.3 1819,1273.1 1819.7,1270.4 1820.4,1271.2 1821.1,1270.7 1821.8,1269.9 1822.5,1271.4 1823.2,1270.8 1823.9,1272.8 1824.6,1271.7 1825.3,1273.1 1826,1273.2 1826.7,1271.5 1827.4,1272 1828.1,1275.8 1828.8,1273.7 1829.5,1272.8 1830,1274.8 1830.2,1271.6 1830.9,1270.4 1831.6,1273.7 1832.3,1271.7 1833,1270 1833.7,1271.1 1834.4,1272.1 1835.1,1270.5 1835.8,1271.9 1836.5,1272.6 1837.2,1272.3 1837.9,1273 1838.6,1269.5 1839.3,1274.3 1840,1268.4 1840.7,1270.1 1841.4,1269.5 1842.1,1271.8 1842.8,1271.2 1843.5,1272.6 1844.2,1272.1 1844.9,1271.7 1845.6,1270.5 1846.3,1271 1847,1270 1847.7,1271.8 1848.4,1271.1 1849.1,1271.9 1849.8,1270.3 1850.5,1269.8 1851.2,1270.7 1851.9,1269.2 1852.6,1269.4 1853.3,1268.4 1854,1270.2 1854.7,1269.7 1855.4,1268.5 1856.1,1271.9 1856.8,1269.9 1857.5,1268.8 1857.5,1267.9 1858.2,1268 1858.9,1269 1859.6,1267 1860.3,1268.1 1861,1269.6 1861.7,1270.5 1862.4,1267.9 1863.1,1271 1863.8,1270.6 1864.5,1268.2 1865.2,1267.7 1865.9,1270.5 1866.6,1270.6 1867.3,1269.5 1868,1270.8 1868.7,1274.1 1869.4,1270 1870.1,1271.9 1870.8,1269.5 1871.5,1268.3 1872.2,1268.9 1872.9,1268.2 1873.6,1271.7 1874.3,1270.7 1875,1271 1875.7,1271.3 1876.4,1269.7 1877.1,1270.8 1877.8,1270.1 1878.5,1270.3 1879.2,1269.4 1879.9,1268.8 1880.6,1270.9 1881.3,1269.9 1882,1270.1 1882.7,1272.3 1883.4,1271.3 1884.1,1271.2 1884.8,1271 1885.5,1271.2 1886.2,1272.7 1886.9,1271 1887.6,1273.7 1888.3,1273.4 1889,1269.9 1889.7,1271.2 1890.4,1272.9 1891.1,1270.8 1891.8,1269.7 1892.5,1272.3 1893.2,1273.8 1893.9,1269.8 1894.6,1273.4 1895.3,1270.3 1896,1271 1896.7,1272.7 1897.4,1271.8 1898.1,1271.6 1898.8,1271.8 1899.5,1270 1900,1274.3" fill="none" stroke="#111111" stroke-width="3.0" stroke-linejoin="round" stroke-linecap="round"/><g font-family="'Liberation Sans', Arial, sans-serif" font-size="59" fill="#000"><text x="213.7" y="1495" text-anchor="middle">0</text><text x="454.6" y="1495" text-anchor="middle">10</text><text x="695.6" y="1495" text-anchor="middle">20</text><text x="936.5" y="1495" text-anchor="middle">30</text><text x="1177.5" y="1495" text-anchor="middle">40</text><text x="1418.4" y="1495" text-anchor="middle">50</text><text x="1659.3" y="1495" text-anchor="middle">60</text><text x="1900.3" y="1495" text-anchor="middle">70</text></g><text transform="translate(928,1613) scale(1.07,1)" x="0 35.2" y="0" font-family="Liberation Serif, Times New Roman, serif" font-size="74" fill="#000">2&#952;</text><text x="1019" y="1611.5" font-family="Liberation Sans, Arial, sans-serif" font-size="70" fill="#000" textLength="168.4" lengthAdjust="spacing">(deg)</text><text transform="translate(90,905.6) rotate(-90)" font-family="Liberation Sans, Arial, sans-serif" font-size="71.2" fill="#000">Intensity (a.u.)</text><g font-family="Carlito, 'Liberation Sans', sans-serif" font-weight="bold" font-size="65"><text x="1983.9" y="314.4" fill="#00b0f0" textLength="198.8" lengthAdjust="spacingAndGlyphs">PVP/VA</text><text x="1979.6" y="563" fill="#008000" textLength="437" lengthAdjust="spacingAndGlyphs">EZT-PVP/VA 50%</text><text x="1973.9" y="654.8" fill="#cd2a9a" textLength="437.5" lengthAdjust="spacingAndGlyphs">EZT-PVP/VA 40%</text><text x="1979.6" y="759.3" fill="#0033cc" textLength="436.8" lengthAdjust="spacingAndGlyphs">EZT-PVP/VA 33%</text><text x="1978.6" y="866.4" fill="#808080" textLength="438.8" lengthAdjust="spacingAndGlyphs">EZT-PVP/VA 20%</text><text x="1975" y="975.3" fill="#990099" textLength="405.6" lengthAdjust="spacingAndGlyphs">EZT-PVP/VA 5%</text><text x="1979.2" y="1170" fill="#ff0000" textLength="407.6" lengthAdjust="spacingAndGlyphs">Spray-dried EZT</text><text x="1979.6" y="1282.6" fill="#000000" textLength="221.6" lengthAdjust="spacingAndGlyphs">Raw EZT</text></g></g></svg></body></html>
